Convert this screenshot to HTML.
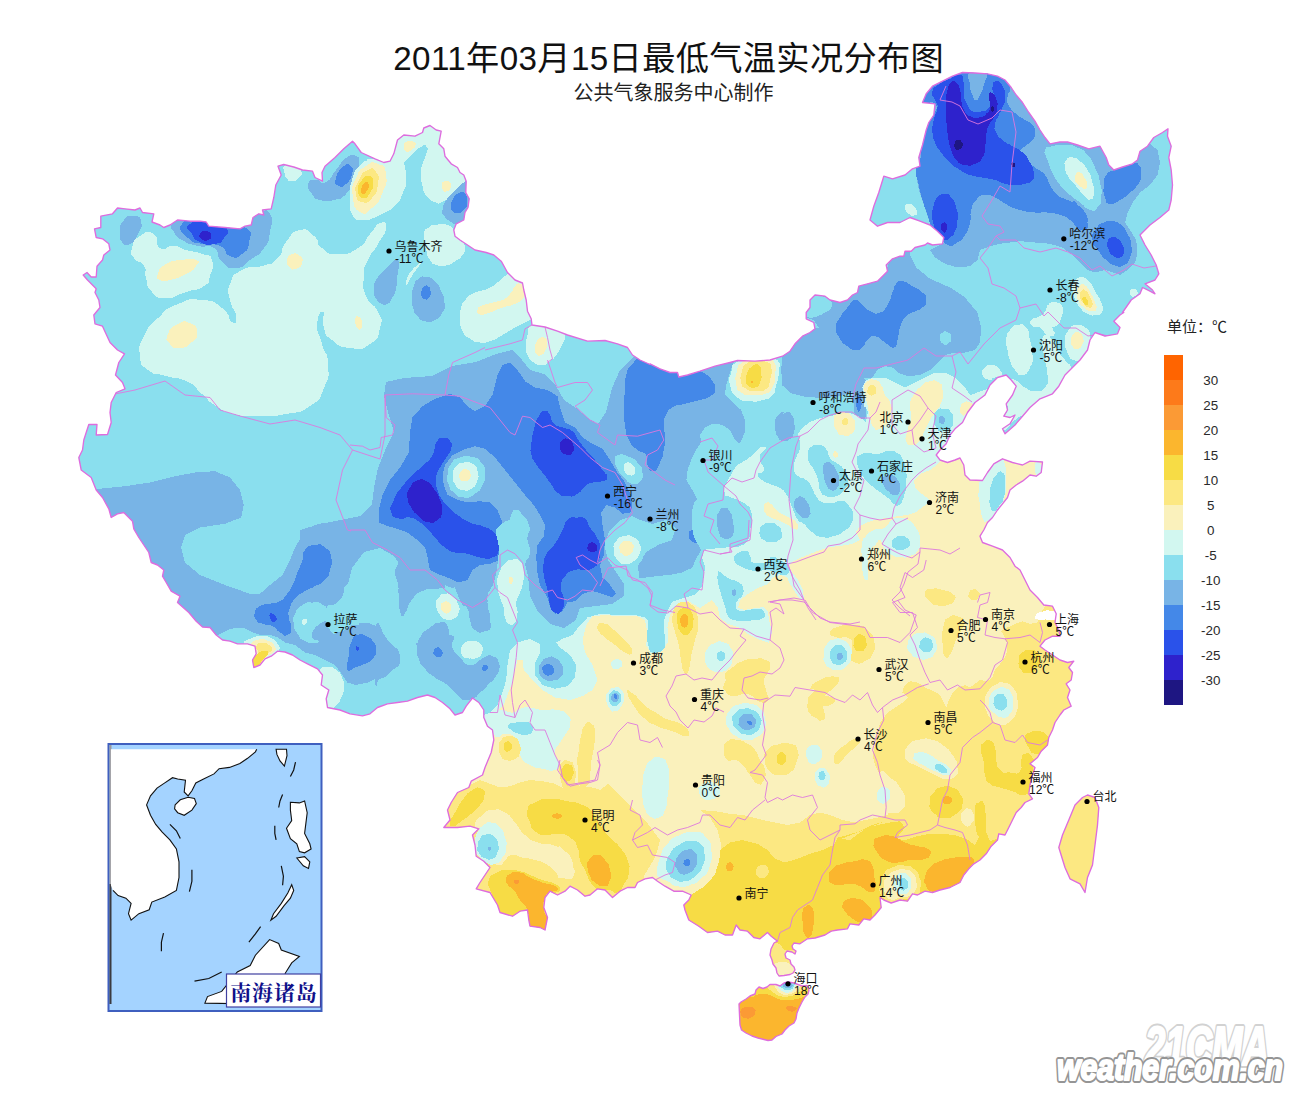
<!DOCTYPE html>
<html><head><meta charset="utf-8"><title>map</title>
<style>
html,body{margin:0;padding:0;background:#fff;}
body{width:1300px;height:1100px;overflow:hidden;position:relative;font-family:"Liberation Sans",sans-serif;}
svg{position:absolute;left:0;top:0;}
.lg{font-family:"Liberation Sans",sans-serif;font-size:13px;fill:#222;}
.ct{font-family:"Liberation Sans","Noto Sans CJK SC",sans-serif;font-size:12px;fill:#111;}
</style></head><body>
<svg width="1300" height="1100" viewBox="0 0 1300 1100">
<defs><clipPath id="cn"><path d="M115.5 375.0 L118.8 362.5 L124.5 353.8 L117.5 350.0 L110.0 342.5 L102.5 326.2 L95.0 323.8 L93.8 315.0 L100.0 307.5 L98.8 300.0 L95.0 292.5 L96.2 288.8 L87.5 280.0 L83.2 275.0 L87.0 272.5 L91.2 277.0 L96.2 277.0 L97.0 266.2 L102.5 260.0 L103.8 255.0 L110.0 250.0 L108.8 243.8 L102.5 238.8 L96.2 237.5 L94.5 228.8 L100.8 227.5 L100.8 216.2 L112.5 213.8 L117.5 208.0 L125.0 208.8 L135.0 210.0 L140.0 208.0 L142.5 212.5 L153.8 213.8 L152.0 222.0 L160.0 225.0 L163.8 227.5 L170.0 225.0 L177.5 220.0 L190.0 221.2 L200.0 221.2 L206.2 222.0 L208.8 226.2 L225.0 227.5 L240.0 228.8 L245.0 226.2 L251.2 225.0 L253.0 217.5 L258.8 213.8 L263.8 215.0 L262.5 210.0 L271.2 208.8 L273.8 197.5 L275.8 185.0 L281.2 175.0 L278.0 166.2 L283.8 164.5 L293.8 167.0 L302.5 170.0 L312.5 171.2 L315.0 177.5 L322.5 181.2 L322.0 172.5 L325.0 166.2 L335.0 157.5 L343.8 148.8 L352.5 141.2 L355.0 143.8 L361.2 152.5 L375.0 158.8 L383.8 162.5 L390.0 161.2 L393.8 153.8 L397.5 140.0 L403.8 135.0 L415.0 136.2 L422.5 132.5 L423.8 128.0 L430.0 125.5 L436.2 130.0 L441.2 131.2 L438.8 143.8 L443.8 148.8 L445.0 156.2 L451.2 163.8 L457.5 167.5 L460.0 172.5 L463.8 175.0 L466.2 181.2 L465.8 192.5 L469.2 198.8 L468.0 207.5 L465.0 212.5 L463.8 220.0 L456.2 223.8 L453.8 230.0 L455.0 236.2 L460.0 240.0 L467.5 245.0 L475.0 250.0 L486.2 252.5 L493.8 255.0 L501.2 261.2 L507.5 272.5 L515.0 280.0 L522.5 283.0 L523.8 290.0 L526.2 300.0 L527.5 311.2 L531.2 318.8 L532.0 325.0 L545.0 327.0 L557.5 331.2 L567.5 335.0 L587.5 341.2 L605.0 340.5 L617.5 343.8 L627.5 347.5 L632.5 355.0 L640.0 360.0 L650.0 364.5 L650.0 363.8 L660.0 368.8 L670.0 372.5 L677.5 372.5 L678.8 377.0 L687.5 375.0 L700.0 371.2 L715.0 366.2 L730.0 362.5 L737.5 360.5 L755.0 361.2 L770.0 360.0 L782.5 356.2 L790.0 351.2 L795.0 343.8 L802.5 336.2 L810.0 332.5 L815.0 328.8 L813.8 322.5 L806.2 318.8 L806.2 312.5 L810.0 307.5 L810.0 300.0 L815.0 295.0 L825.0 296.2 L830.0 300.0 L840.0 302.5 L847.5 300.0 L852.5 295.0 L857.5 292.5 L858.8 286.2 L867.5 283.8 L877.5 281.2 L883.8 275.0 L887.5 271.2 L886.2 265.0 L892.5 258.8 L900.0 256.2 L903.8 256.2 L905.0 251.2 L911.2 251.2 L915.0 247.5 L925.0 245.0 L927.5 243.0 L932.5 245.0 L942.5 243.8 L943.8 237.5 L937.5 231.2 L930.0 225.0 L920.0 221.2 L910.0 217.5 L900.0 222.5 L887.5 222.5 L877.5 226.2 L870.0 220.0 L873.8 206.2 L878.8 192.5 L883.8 176.2 L892.5 178.8 L905.0 175.0 L912.5 168.8 L920.0 166.2 L918.8 157.5 L922.5 145.0 L926.2 130.0 L928.8 122.5 L933.8 115.0 L935.0 103.8 L922.5 102.5 L926.2 93.8 L932.5 86.2 L942.5 81.2 L952.5 76.2 L962.5 72.5 L975.0 73.0 L987.5 73.8 L997.5 76.2 L1005.0 80.0 L1011.2 87.5 L1016.2 95.0 L1022.5 102.5 L1028.8 112.5 L1035.0 121.2 L1040.0 130.0 L1045.0 137.5 L1050.0 143.8 L1060.0 142.0 L1067.5 142.0 L1077.5 145.0 L1088.8 148.8 L1100.0 146.2 L1106.2 157.5 L1108.8 165.0 L1113.8 170.0 L1122.5 167.0 L1132.5 163.8 L1137.5 160.0 L1140.0 151.2 L1147.5 146.2 L1153.8 137.5 L1162.5 132.5 L1168.0 128.8 L1167.5 136.2 L1171.2 146.2 L1168.8 157.5 L1171.2 170.0 L1172.5 185.0 L1171.2 200.0 L1168.8 210.0 L1160.0 217.5 L1150.0 225.0 L1140.0 235.0 L1145.0 245.0 L1151.2 255.0 L1156.2 265.0 L1158.8 273.8 L1155.0 280.0 L1145.0 283.8 L1152.5 290.0 L1155.0 293.8 L1150.0 291.2 L1142.5 287.5 L1140.0 293.8 L1131.2 300.0 L1122.5 312.5 L1123.8 312.5 L1120.0 315.0 L1113.8 321.2 L1120.0 327.5 L1117.5 333.8 L1105.0 336.2 L1095.0 332.5 L1090.0 340.0 L1087.5 350.0 L1080.0 360.0 L1072.5 367.5 L1065.0 375.0 L1058.8 386.2 L1052.5 393.8 L1040.0 398.8 L1030.0 407.5 L1022.5 416.2 L1015.0 425.0 L1005.0 433.8 L1002.5 428.8 L1010.0 423.8 L1015.0 415.0 L1010.0 417.5 L1003.8 416.2 L1007.5 410.0 L1006.2 403.8 L1012.5 395.0 L1016.2 386.2 L1011.2 380.0 L1006.2 375.0 L997.5 377.5 L990.0 385.0 L985.0 395.0 L975.0 402.5 L967.5 412.5 L962.5 422.5 L955.0 428.8 L950.0 435.0 L946.2 443.8 L940.0 450.0 L936.2 455.0 L940.0 460.0 L947.5 462.5 L955.0 460.0 L960.0 458.0 L963.8 465.0 L965.0 475.0 L970.0 480.0 L982.5 480.5 L987.5 472.5 L993.8 463.8 L1002.5 458.8 L1012.5 462.5 L1022.5 465.0 L1030.0 461.2 L1042.5 462.0 L1041.2 472.5 L1036.2 476.2 L1030.0 475.0 L1022.5 481.2 L1016.2 485.0 L1010.0 490.0 L1007.5 497.5 L1002.5 503.8 L997.5 510.0 L992.5 517.5 L987.5 522.5 L983.8 530.0 L980.0 536.2 L982.5 542.5 L992.5 546.2 L1002.5 550.0 L1010.0 557.5 L1015.0 566.2 L1020.0 570.0 L1025.0 580.0 L1030.0 590.0 L1037.5 597.5 L1043.8 605.0 L1052.5 606.2 L1056.2 613.8 L1055.0 622.5 L1058.8 630.0 L1060.0 636.2 L1052.5 636.2 L1045.0 640.0 L1040.0 646.2 L1045.0 650.0 L1052.5 655.0 L1060.0 660.0 L1067.5 662.5 L1073.8 661.2 L1068.8 667.5 L1072.5 672.5 L1071.2 680.0 L1066.2 683.8 L1070.0 690.0 L1067.5 697.5 L1071.2 706.2 L1063.8 710.0 L1060.0 715.0 L1055.0 722.5 L1052.5 730.0 L1048.8 737.5 L1047.5 745.0 L1041.2 751.2 L1037.5 757.5 L1030.0 763.8 L1035.0 767.5 L1032.5 775.0 L1030.0 785.0 L1028.8 793.8 L1032.5 798.8 L1025.0 802.5 L1021.2 807.5 L1016.2 812.5 L1012.5 820.0 L1008.8 827.5 L1005.0 835.0 L998.8 833.8 L997.5 840.0 L991.2 846.2 L986.2 853.8 L980.0 860.0 L973.8 863.8 L968.8 868.8 L963.8 875.0 L960.0 882.5 L950.0 887.5 L940.0 890.0 L932.5 892.5 L925.0 891.2 L917.5 895.0 L912.5 893.8 L907.5 901.2 L900.0 900.0 L891.2 903.0 L883.8 900.0 L880.0 897.5 L881.2 907.5 L875.0 915.0 L870.0 920.0 L863.8 918.8 L858.8 925.0 L850.0 923.8 L847.5 928.8 L837.5 930.0 L831.2 931.2 L825.0 935.0 L815.0 938.0 L807.5 938.8 L800.0 943.8 L794.0 943.0 L792.0 946.0 L793.0 949.0 L796.0 951.0 L795.0 954.0 L792.0 952.0 L787.0 951.0 L785.0 954.0 L786.0 958.0 L790.0 960.0 L791.0 964.0 L794.0 967.0 L795.0 970.0 L793.0 973.0 L790.0 974.5 L784.0 975.5 L779.0 976.0 L777.0 973.0 L776.0 968.0 L773.0 964.0 L772.0 960.0 L770.0 955.0 L771.0 949.0 L774.0 943.0 L777.5 941.2 L771.2 936.2 L767.5 932.5 L760.0 938.8 L753.8 937.5 L747.5 931.2 L740.0 930.0 L736.2 925.0 L732.5 935.0 L725.0 935.0 L717.5 931.2 L707.5 932.5 L698.8 926.2 L688.8 920.0 L685.0 910.0 L683.8 905.0 L688.8 900.0 L691.2 895.0 L682.5 891.2 L673.8 891.2 L665.0 886.2 L657.5 881.2 L652.5 877.5 L645.0 878.8 L637.5 882.5 L635.0 887.5 L627.5 887.5 L620.0 891.2 L612.5 897.5 L605.0 890.0 L597.5 888.8 L590.0 895.0 L585.0 896.2 L577.5 890.0 L570.0 886.2 L565.0 891.2 L557.5 895.0 L550.0 891.2 L545.0 897.5 L543.8 907.5 L547.5 917.5 L545.0 930.0 L540.0 927.5 L530.0 926.2 L528.8 920.0 L527.5 910.0 L520.0 911.2 L512.5 916.2 L500.0 912.5 L497.5 905.0 L490.0 892.5 L476.2 888.8 L480.0 882.5 L485.0 875.0 L490.0 867.5 L483.8 861.2 L476.2 856.2 L475.0 845.0 L472.5 835.0 L478.8 828.8 L470.0 826.2 L457.5 827.5 L443.8 827.5 L450.0 820.0 L447.5 810.0 L451.2 802.5 L457.5 792.5 L468.8 787.5 L471.2 781.2 L482.5 775.0 L485.0 767.5 L491.2 752.5 L493.8 740.0 L492.5 730.0 L487.5 726.2 L483.8 717.5 L483.8 710.0 L478.8 702.5 L472.5 698.0 L466.2 706.2 L462.5 712.5 L455.0 715.0 L450.0 708.8 L442.5 702.5 L435.0 697.5 L427.5 695.0 L417.5 697.5 L407.5 701.2 L397.5 702.5 L387.5 703.8 L377.5 707.5 L370.0 713.8 L362.5 715.8 L350.0 713.8 L340.0 710.0 L327.5 707.5 L326.2 698.8 L328.8 690.0 L321.2 685.0 L322.5 675.0 L317.5 668.8 L307.5 663.8 L300.0 660.0 L292.5 655.0 L285.0 652.0 L277.5 651.2 L271.2 656.2 L265.0 658.8 L260.0 665.0 L253.8 667.5 L252.5 660.0 L256.2 653.8 L255.0 646.2 L247.5 643.8 L237.5 643.8 L230.0 641.2 L222.5 640.0 L216.2 635.0 L210.0 627.5 L202.5 627.0 L196.2 621.2 L188.8 612.5 L177.5 602.5 L180.0 596.2 L171.2 591.2 L166.2 582.5 L162.5 576.2 L163.8 570.0 L157.5 565.0 L151.2 562.5 L148.8 552.5 L143.8 545.0 L138.8 537.5 L133.8 528.8 L132.5 521.2 L123.8 512.5 L117.5 513.8 L111.2 517.5 L108.8 508.8 L102.5 497.5 L96.2 490.0 L91.2 477.5 L81.2 470.0 L78.8 457.5 L82.5 450.0 L83.8 440.0 L86.2 432.5 L88.8 424.5 L97.0 424.5 L96.2 435.0 L107.5 434.5 L111.2 422.5 L110.0 412.5 L111.2 402.5 L116.2 392.5 L125.0 388.8 L122.5 382.5Z M1087.5 795.0 L1095.0 797.5 L1098.8 807.5 L1097.5 825.0 L1095.0 845.0 L1092.5 865.0 L1087.5 877.5 L1085.0 892.5 L1080.0 883.8 L1070.0 878.8 L1065.0 867.5 L1058.8 847.5 L1062.5 835.0 L1068.8 820.0 L1075.0 805.0 L1082.5 797.5Z M739.0 1004.0 L741.0 1002.0 L746.0 999.0 L750.0 996.0 L755.0 994.0 L756.0 990.0 L759.0 987.0 L763.0 988.5 L767.0 987.0 L770.0 984.5 L776.0 984.5 L780.0 986.0 L784.0 983.0 L788.0 982.0 L794.0 983.0 L798.0 984.5 L802.0 986.0 L807.0 985.5 L809.0 990.0 L808.0 994.0 L805.0 997.0 L802.0 1002.0 L799.0 1008.0 L797.0 1013.0 L796.0 1019.0 L794.0 1023.0 L789.0 1026.0 L785.0 1030.0 L782.0 1034.0 L776.0 1036.5 L772.0 1040.0 L768.0 1040.5 L764.0 1039.5 L758.0 1038.0 L752.0 1036.0 L746.0 1033.0 L741.5 1030.0 L740.0 1025.0 L739.5 1015.0Z"/></clipPath></defs>
<g clip-path="url(#cn)" shape-rendering="crispEdges">
<rect x="0" y="0" width="1300" height="1100" fill="#8ADFEE"/>
<path d="M300.0 530.0 L320.0 524.0 L340.0 520.0 L360.0 516.0 L372.0 504.0 L374.0 488.0 L378.0 468.0 L386.0 448.0 L394.0 432.0 L388.0 412.0 L384.0 396.0 L386.0 382.0 L404.0 378.0 L432.0 376.0 L452.0 366.0 L476.0 362.0 L496.0 354.0 L512.0 350.0 L522.0 360.0 L530.0 370.0 L544.0 374.0 L556.0 386.0 L564.0 400.0 L576.0 408.0 L588.0 418.0 L598.0 424.0 L606.0 412.0 L612.0 388.0 L620.0 370.0 L632.0 358.0 L648.0 348.0 L680.0 368.0 L700.0 362.0 L720.0 358.0 L734.8 360.0 L730.0 372.4 L726.4 384.8 L724.8 394.8 L732.4 402.4 L741.2 410.0 L744.8 420.0 L744.8 432.4 L740.0 443.6 L734.8 440.0 L730.0 430.0 L722.4 424.8 L712.4 423.6 L704.8 427.6 L700.0 434.8 L701.2 442.4 L696.0 450.0 L691.2 460.0 L687.6 470.0 L686.4 480.0 L692.4 490.0 L697.6 500.0 L704.8 507.6 L704.8 520.0 L706.4 530.0 L703.6 540.0 L701.2 550.0 L696.0 558.8 L692.4 567.6 L682.4 572.4 L670.0 574.8 L657.6 576.0 L644.8 577.6 L639.2 578.0 L638.0 566.0 L646.0 552.0 L660.0 544.0 L672.0 540.0 L676.0 528.0 L666.0 520.0 L652.0 524.0 L640.0 520.0 L632.0 516.0 L620.0 520.0 L610.0 530.0 L604.0 544.0 L608.0 560.0 L616.0 572.0 L624.0 584.0 L624.0 596.0 L612.0 604.0 L596.0 606.0 L580.0 608.0 L576.0 620.0 L564.0 628.0 L550.0 624.0 L538.0 612.0 L530.0 596.0 L528.0 576.0 L524.0 560.0 L518.0 556.0 L504.0 560.0 L492.0 568.0 L484.0 560.0 L472.0 572.0 L464.0 584.0 L452.0 588.0 L442.0 584.0 L432.0 576.0 L420.0 580.0 L408.0 588.0 L400.0 600.0 L398.0 584.0 L402.0 568.0 L394.0 556.0 L380.0 548.0 L364.0 552.0 L352.0 568.0 L348.0 584.0 L332.0 596.0 L316.0 596.0 L300.0 600.0Z" fill="#78B4E6"/>
<path d="M120.0 232.0 C120.7 224.7 119.3 225.3 124.0 220.0 C128.7 214.7 128.3 215.3 134.0 216.0 C139.7 216.7 139.9 216.0 141.2 222.0 C142.5 228.0 141.7 226.7 138.0 234.0 C134.3 241.3 135.3 241.3 130.0 244.0 C124.7 246.7 125.3 246.0 122.0 242.0 C118.7 238.0 119.3 239.3 120.0 232.0Z" fill="#78B4E6"/>
<path d="M172.0 224.0 C174.7 219.3 169.3 220.0 182.0 218.0 C194.7 216.0 190.0 215.3 210.0 218.0 C230.0 220.7 226.0 227.3 242.0 226.0 C258.0 224.7 248.7 218.0 258.0 214.0 C267.3 210.0 266.0 208.0 270.0 214.0 C274.0 220.0 272.0 220.7 270.0 232.0 C268.0 243.3 270.7 238.7 264.0 248.0 C257.3 257.3 259.3 253.3 250.0 260.0 C240.7 266.7 245.3 267.3 236.0 268.0 C226.7 268.7 229.3 268.7 222.0 262.0 C214.7 255.3 222.0 253.3 214.0 248.0 C206.0 242.7 208.7 248.7 198.0 246.0 C187.3 243.3 190.0 244.7 182.0 240.0 C174.0 235.3 177.3 237.3 174.0 232.0 C170.7 226.7 169.3 228.7 172.0 224.0Z" fill="#78B4E6"/>
<path d="M308.0 184.0 C309.3 179.3 310.0 180.7 316.0 180.0 C322.0 179.3 319.3 185.3 326.0 182.0 C332.7 178.7 329.3 178.0 336.0 170.0 C342.7 162.0 339.3 162.7 346.0 158.0 C352.7 153.3 351.7 154.0 356.0 156.0 C360.3 158.0 359.5 156.0 358.8 164.0 C358.1 172.0 358.3 170.0 354.0 180.0 C349.7 190.0 352.7 187.3 346.0 194.0 C339.3 200.7 342.7 198.0 334.0 200.0 C325.3 202.0 327.3 202.0 320.0 200.0 C312.7 198.0 316.0 199.3 312.0 194.0 C308.0 188.7 306.7 188.7 308.0 184.0Z" fill="#78B4E6"/>
<path d="M442.5 210.0 C443.1 204.6 442.9 205.8 446.2 200.0 C449.6 194.2 447.9 197.5 452.5 192.5 C457.1 187.5 455.4 188.8 460.0 185.0 C464.6 181.2 462.9 178.8 466.2 181.2 C469.6 183.8 468.2 186.7 470.0 192.5 C471.8 198.3 471.6 193.8 471.8 198.8 C471.9 203.8 471.9 202.9 470.5 207.5 C469.1 212.1 469.8 208.3 467.5 212.5 C465.2 216.7 467.1 216.2 463.8 220.0 C460.4 223.8 462.1 223.3 457.5 223.8 C452.9 224.2 454.3 223.8 450.0 221.2 C445.7 218.8 447.0 220.0 444.5 216.2 C442.0 212.5 441.9 215.4 442.5 210.0Z" fill="#78B4E6"/>
<path d="M373.8 290.0 C373.8 283.8 373.3 285.8 376.2 280.0 C379.2 274.2 377.9 277.5 382.5 272.5 C387.1 267.5 385.4 269.2 390.0 265.0 C394.6 260.8 393.3 260.0 396.2 260.0 C399.2 260.0 398.3 260.0 398.8 265.0 C399.2 270.0 398.3 267.5 397.5 275.0 C396.7 282.5 397.9 280.0 396.2 287.5 C394.6 295.0 395.4 292.1 392.5 297.5 C389.6 302.9 391.2 301.7 387.5 303.8 C383.8 305.8 385.0 305.4 381.2 303.8 C377.5 302.1 378.8 303.3 376.2 298.8 C373.8 294.2 373.8 296.2 373.8 290.0Z" fill="#78B4E6"/>
<path d="M412.0 297.5 C412.2 290.4 411.5 292.5 413.8 286.2 C416.0 280.0 414.6 281.8 418.8 278.8 C422.9 275.7 420.8 276.2 426.2 277.0 C431.7 277.8 430.0 276.5 435.0 281.2 C440.0 286.0 438.1 284.2 441.2 291.2 C444.4 298.3 444.1 295.4 444.5 302.5 C444.9 309.6 445.7 306.7 442.5 312.5 C439.3 318.3 440.8 317.1 435.0 320.0 C429.2 322.9 430.8 322.5 425.0 321.2 C419.2 320.0 421.5 320.8 417.5 316.2 C413.5 311.7 414.8 313.8 413.0 307.5 C411.2 301.2 411.8 304.6 412.0 297.5Z" fill="#78B4E6"/>
<path d="M87.5 490.0 L125.0 486.2 L150.0 482.5 L175.0 476.2 L195.0 472.5 L215.0 471.2 L230.0 477.5 L240.0 490.0 L243.8 505.0 L241.2 517.5 L225.0 523.8 L200.0 527.5 L185.0 535.0 L181.2 547.5 L185.0 562.5 L200.0 575.0 L225.0 585.0 L250.0 593.8 L260.0 593.8 L270.0 585.0 L282.5 575.0 L290.0 560.0 L296.2 545.0 L305.0 532.5 L315.0 525.0 L325.0 522.5 L337.5 525.0 L350.0 528.8 L360.0 527.5 L362.5 545.0 L350.0 560.0 L346.2 575.0 L343.8 590.0 L342.5 602.5 L343.8 615.0 L347.5 622.5 L355.0 623.8 L367.5 622.5 L376.2 626.2 L382.5 635.0 L390.0 645.0 L400.0 655.0 L395.0 662.5 L385.0 670.0 L377.5 677.5 L367.5 682.5 L355.0 685.0 L347.5 682.5 L342.5 675.0 L335.0 665.0 L325.0 660.0 L315.0 655.0 L305.0 652.5 L295.0 645.0 L285.0 642.5 L277.5 637.5 L270.0 635.0 L260.0 635.0 L250.0 631.2 L242.5 627.5 L230.0 628.8 L217.5 635.0 L212.5 642.5 L180.0 622.5 L155.0 597.5 L142.5 560.0 L105.0 510.0Z" fill="#78B4E6"/>
<path d="M398.8 597.5 C398.3 587.1 397.9 591.7 400.0 582.5 C402.1 573.3 400.8 577.5 405.0 570.0 C409.2 562.5 408.3 566.7 412.5 560.0 C416.7 553.3 403.3 553.3 417.5 550.0 C431.7 546.7 442.5 541.7 455.0 550.0 C467.5 558.3 459.2 564.2 455.0 575.0 C450.8 585.8 450.8 578.3 442.5 582.5 C434.2 586.7 438.3 585.8 430.0 587.5 C421.7 589.2 424.2 585.8 417.5 587.5 C410.8 589.2 413.3 587.5 410.0 592.5 C406.7 597.5 409.2 595.8 407.5 602.5 C405.8 609.2 407.1 608.8 405.0 612.5 C402.9 616.2 403.3 618.8 401.2 613.8 C399.2 608.8 399.2 607.9 398.8 597.5Z" fill="#78B4E6"/>
<path d="M417.5 650.0 C418.3 642.9 411.7 645.0 422.5 640.0 C433.3 635.0 440.0 632.5 450.0 635.0 C460.0 637.5 449.2 640.0 452.5 647.5 C455.8 655.0 454.2 651.7 460.0 657.5 C465.8 663.3 463.3 664.2 470.0 665.0 C476.7 665.8 474.2 662.9 480.0 660.0 C485.8 657.1 482.5 656.7 487.5 656.2 C492.5 655.8 491.2 655.0 495.0 658.8 C498.8 662.5 498.8 661.2 498.8 667.5 C498.8 673.8 498.8 671.7 495.0 677.5 C491.2 683.3 492.5 680.0 487.5 685.0 C482.5 690.0 485.0 688.3 480.0 692.5 C475.0 696.7 478.3 698.3 472.5 697.5 C466.7 696.7 469.2 695.0 462.5 690.0 C455.8 685.0 460.0 686.7 452.5 682.5 C445.0 678.3 448.3 681.7 440.0 677.5 C431.7 673.3 434.2 675.4 427.5 670.0 C420.8 664.6 423.3 667.9 420.0 661.2 C416.7 654.6 416.7 657.1 417.5 650.0Z" fill="#78B4E6"/>
<path d="M397.5 565.0 C391.2 575.0 397.9 574.6 398.8 590.0 C399.6 605.4 397.9 603.6 400.0 611.2 C402.1 618.9 400.8 617.2 405.0 613.0 C409.2 608.8 405.8 606.4 412.5 598.8 C419.2 591.1 416.7 593.3 425.0 590.0 C433.3 586.7 430.8 590.4 437.5 588.8 C444.2 587.1 444.2 591.2 445.0 585.0 C445.8 578.8 449.2 578.3 440.0 570.0 C430.8 561.7 431.7 561.7 417.5 560.0 C403.3 558.3 403.8 555.0 397.5 565.0Z" fill="#78B4E6"/>
<path d="M455.0 577.5 C454.2 589.2 455.8 589.6 460.0 600.0 C464.2 610.4 464.2 602.1 467.5 608.8 C470.8 615.4 467.5 612.9 470.0 620.0 C472.5 627.1 470.0 626.2 475.0 630.0 C480.0 633.8 479.6 632.9 485.0 631.2 C490.4 629.6 489.6 631.2 491.2 625.0 C492.9 618.8 491.2 620.8 490.0 612.5 C488.8 604.2 487.5 607.5 487.5 600.0 C487.5 592.5 487.1 595.0 490.0 590.0 C492.9 585.0 493.8 593.3 496.2 585.0 C498.8 576.7 502.9 573.3 497.5 565.0 C492.1 556.7 491.7 560.0 480.0 560.0 C468.3 560.0 470.8 559.2 462.5 565.0 C454.2 570.8 455.8 565.8 455.0 577.5Z" fill="#78B4E6"/>
<path d="M417.5 650.0 C417.9 642.9 415.8 645.0 420.0 637.5 C424.2 630.0 423.3 632.5 430.0 627.5 C436.7 622.5 434.2 622.9 440.0 622.5 C445.8 622.1 444.2 620.4 447.5 626.2 C450.8 632.1 447.5 631.2 450.0 640.0 C452.5 648.8 450.8 645.0 455.0 652.5 C459.2 660.0 455.8 658.3 462.5 662.5 C469.2 666.7 467.5 666.7 475.0 665.0 C482.5 663.3 479.2 660.4 485.0 657.5 C490.8 654.6 487.9 654.6 492.5 656.2 C497.1 657.9 497.1 657.1 498.8 662.5 C500.4 667.9 500.4 665.8 497.5 672.5 C494.6 679.2 495.8 675.8 490.0 682.5 C484.2 689.2 487.5 686.7 480.0 692.5 C472.5 698.3 475.0 699.2 467.5 700.0 C460.0 700.8 464.2 700.0 457.5 695.0 C450.8 690.0 455.0 690.8 447.5 685.0 C440.0 679.2 442.9 683.3 435.0 677.5 C427.1 671.7 429.2 673.8 423.8 667.5 C418.3 661.2 420.8 664.6 418.8 658.8 C416.7 652.9 417.1 657.1 417.5 650.0Z" fill="#78B4E6"/>
<path d="M375.0 627.5 C379.2 614.2 379.2 630.0 387.5 640.0 C395.8 650.0 399.2 646.7 400.0 657.5 C400.8 668.3 396.7 665.4 390.0 672.5 C383.3 679.6 385.0 676.2 380.0 678.8 C375.0 681.2 376.7 697.1 375.0 680.0 C373.3 662.9 370.8 640.8 375.0 627.5Z" fill="#78B4E6"/>
<path d="M920.0 166.2 L916.2 175.0 L918.8 190.0 L923.8 205.0 L928.8 220.0 L935.0 232.5 L945.0 242.5 L935.0 247.5 L930.0 250.0 L935.0 257.5 L945.0 263.8 L957.5 267.5 L970.0 266.2 L977.5 260.0 L980.0 250.0 L990.0 246.2 L1000.0 243.8 L1010.0 242.5 L1020.0 241.2 L1035.0 242.5 L1050.0 243.8 L1062.5 247.5 L1072.5 255.0 L1080.0 262.5 L1087.5 270.0 L1095.0 272.5 L1105.0 270.0 L1112.5 272.5 L1120.0 275.0 L1127.5 270.0 L1135.0 262.5 L1137.5 252.5 L1136.2 240.0 L1130.0 230.0 L1125.0 222.5 L1127.5 212.5 L1132.5 202.5 L1140.0 192.5 L1150.0 185.0 L1157.5 175.0 L1160.0 162.5 L1157.5 150.0 L1150.0 143.8 L1147.5 140.0 L1135.0 155.0 L1122.5 160.0 L1112.5 165.0 L1107.5 157.5 L1102.5 142.5 L1090.0 143.8 L1077.5 140.0 L1060.0 136.2 L1050.0 138.8 L1040.0 125.0 L1022.5 97.5 L1010.0 80.0 L997.5 71.2 L975.0 67.5 L960.0 67.5 L942.5 76.2 L930.0 83.8 L918.8 101.2 L931.2 103.8 L930.0 115.0 L923.8 130.0 L917.5 150.0 L915.0 160.0Z" fill="#78B4E6"/>
<path d="M782.5 353.8 L790.0 347.5 L797.5 338.8 L810.0 328.8 L818.8 327.5 L813.8 320.0 L805.0 317.5 L805.0 310.0 L810.0 300.0 L816.2 292.5 L830.0 297.5 L847.5 297.5 L858.8 283.8 L880.0 277.5 L887.5 267.5 L890.0 258.8 L903.8 252.5 L910.0 250.0 L910.0 255.0 L916.2 267.5 L930.0 278.8 L950.0 287.5 L965.0 297.5 L977.5 312.5 L981.2 327.5 L980.0 342.5 L975.0 350.0 L965.0 352.5 L955.0 352.5 L945.0 355.0 L937.5 362.5 L930.0 370.0 L920.0 375.0 L907.5 376.2 L897.5 372.5 L892.5 367.5 L885.0 366.2 L877.5 370.0 L872.5 377.5 L865.0 377.5 L862.5 378.8 L857.5 386.2 L850.0 393.0 L837.5 396.8 L822.5 398.0 L805.0 396.8 L790.0 393.0 L782.5 385.5 L781.2 370.5Z" fill="#78B4E6"/>
<path d="M852.5 380.0 C855.8 375.0 857.9 375.0 862.5 377.5 C867.1 380.0 865.4 380.0 866.2 387.5 C867.1 395.0 865.0 391.7 865.0 400.0 C865.0 408.3 867.1 405.8 866.2 412.5 C865.4 419.2 865.8 418.3 862.5 420.0 C859.2 421.7 859.2 422.5 856.2 417.5 C853.3 412.5 855.0 413.3 853.8 405.0 C852.5 396.7 852.9 400.8 852.5 392.5 C852.1 384.2 849.2 385.0 852.5 380.0Z" fill="#78B4E6"/>
<path d="M775.0 425.0 C774.6 417.9 774.2 420.6 777.5 416.2 C780.8 411.9 780.0 412.4 785.0 412.0 C790.0 411.6 789.2 410.7 792.5 415.0 C795.8 419.3 795.0 418.3 795.0 425.0 C795.0 431.7 795.4 429.6 792.5 435.0 C789.6 440.4 790.8 440.4 786.2 441.2 C781.7 442.1 782.5 442.9 778.8 437.5 C775.0 432.1 775.4 432.1 775.0 425.0Z" fill="#78B4E6"/>
<path d="M410.0 432.5 L412.5 417.5 L422.5 406.2 L435.0 398.8 L450.0 393.8 L460.0 397.5 L467.5 406.2 L475.0 411.2 L485.0 406.2 L492.5 395.0 L497.5 375.0 L502.5 365.0 L510.0 362.5 L517.5 370.0 L525.0 381.2 L535.0 387.5 L547.5 390.0 L557.5 396.2 L560.0 407.5 L565.0 422.5 L575.0 427.5 L582.5 437.5 L592.5 443.8 L602.5 448.8 L610.0 460.0 L617.5 472.5 L625.0 482.5 L631.2 495.0 L632.5 507.5 L630.0 512.5 L622.5 513.8 L615.0 507.5 L606.2 505.0 L601.2 512.5 L602.5 525.0 L605.0 540.0 L603.8 555.0 L600.0 565.0 L602.5 577.5 L610.0 585.0 L616.2 593.8 L612.5 597.5 L602.5 593.8 L592.5 591.2 L582.5 593.8 L575.0 601.2 L567.5 602.5 L562.5 611.2 L555.0 613.8 L550.0 607.5 L547.5 597.5 L540.0 585.0 L537.5 572.5 L536.2 557.5 L537.5 545.0 L543.8 536.2 L545.0 525.0 L540.0 515.0 L533.8 505.0 L525.0 495.0 L515.0 482.5 L505.0 470.0 L495.0 457.5 L485.0 448.8 L475.0 446.2 L462.5 450.0 L452.5 455.0 L445.0 465.0 L442.5 475.0 L443.8 485.0 L447.5 495.0 L457.5 500.0 L467.5 502.5 L480.0 501.2 L490.0 502.5 L497.5 510.0 L502.5 522.5 L506.2 537.5 L505.0 550.0 L500.0 560.0 L490.0 563.8 L480.0 565.0 L472.5 570.0 L467.5 580.0 L457.5 582.5 L447.5 577.5 L437.5 573.8 L430.0 570.0 L427.5 557.5 L425.0 547.5 L417.5 540.0 L407.5 532.5 L397.5 528.8 L387.5 526.2 L378.8 522.5 L378.8 510.0 L382.5 495.0 L390.0 480.0 L400.0 467.5 L408.8 452.5Z" fill="#4488E8"/>
<path d="M625.0 390.0 C625.8 379.2 623.8 383.8 626.2 375.0 C628.8 366.2 627.1 369.6 632.5 363.8 C637.9 357.9 634.2 357.9 642.5 357.5 C650.8 357.1 647.5 358.8 657.5 362.5 C667.5 366.2 664.2 364.6 672.5 368.8 C680.8 372.9 675.0 374.2 682.5 375.0 C690.0 375.8 687.5 371.7 695.0 371.2 C702.5 370.8 699.2 370.4 705.0 373.8 C710.8 377.1 709.2 375.8 712.5 381.2 C715.8 386.7 715.8 385.0 715.0 390.0 C714.2 395.0 715.0 392.9 710.0 396.2 C705.0 399.6 708.3 397.5 700.0 400.0 C691.7 402.5 694.2 401.2 685.0 403.8 C675.8 406.2 678.8 403.8 672.5 407.5 C666.2 411.2 669.2 409.2 666.2 415.0 C663.3 420.8 664.2 417.5 663.8 425.0 C663.3 432.5 665.0 429.2 665.0 437.5 C665.0 445.8 665.4 441.7 663.8 450.0 C662.1 458.3 663.3 455.4 660.0 462.5 C656.7 469.6 657.9 470.4 653.8 471.2 C649.6 472.1 650.0 470.4 647.5 465.0 C645.0 459.6 649.6 460.0 646.2 455.0 C642.9 450.0 643.3 455.0 637.5 450.0 C631.7 445.0 632.9 448.3 628.8 440.0 C624.6 431.7 626.7 435.8 625.0 425.0 C623.3 414.2 623.8 419.2 623.8 407.5 C623.8 395.8 624.2 400.8 625.0 390.0Z" fill="#4488E8"/>
<path d="M182.0 224.0 C186.7 217.7 187.3 218.5 202.0 219.2 C216.7 219.9 211.3 223.1 226.0 226.0 C240.7 228.9 238.3 222.7 246.0 228.0 C253.7 233.3 250.5 233.3 249.2 242.0 C247.9 250.7 248.4 249.3 242.0 254.0 C235.6 258.7 237.3 258.7 230.0 256.0 C222.7 253.3 229.3 250.0 220.0 246.0 C210.7 242.0 212.7 246.7 202.0 244.0 C191.3 241.3 194.7 244.7 188.0 238.0 C181.3 231.3 177.3 230.3 182.0 224.0Z" fill="#4488E8"/>
<path d="M336.0 178.0 C337.7 171.3 339.1 170.0 344.0 166.0 C348.9 162.0 348.1 163.3 350.8 166.0 C353.5 168.7 353.6 168.0 352.0 174.0 C350.4 180.0 350.4 180.0 346.0 184.0 C341.6 188.0 342.1 188.0 338.8 186.0 C335.5 184.0 334.3 184.7 336.0 178.0Z" fill="#4488E8"/>
<path d="M451.2 207.5 C451.2 203.3 450.5 203.6 453.0 198.8 C455.5 193.9 454.8 194.7 458.8 193.0 C462.8 191.3 462.2 190.6 465.0 193.8 C467.8 196.9 467.4 197.1 467.0 202.5 C466.6 207.9 466.9 206.5 463.8 210.0 C460.6 213.5 461.1 212.6 457.5 213.0 C453.9 213.4 455.1 213.1 453.0 211.2 C450.9 209.4 451.2 211.7 451.2 207.5Z" fill="#4488E8"/>
<path d="M421.2 292.5 C421.9 289.4 421.5 289.1 423.8 287.0 C426.0 284.9 425.8 284.8 428.0 286.2 C430.2 287.7 430.2 287.5 430.5 291.2 C430.8 295.0 430.8 294.8 428.8 297.5 C426.8 300.2 426.8 299.7 424.5 299.2 C422.2 298.8 422.8 298.5 421.8 296.2 C420.7 294.0 420.6 295.6 421.2 292.5Z" fill="#4488E8"/>
<path d="M302.5 560.0 C305.0 552.5 300.8 555.0 305.0 550.0 C309.2 545.0 308.3 545.8 315.0 545.0 C321.7 544.2 319.6 543.3 325.0 547.5 C330.4 551.7 329.6 550.0 331.2 557.5 C332.9 565.0 332.1 562.5 330.0 570.0 C327.9 577.5 330.0 574.6 325.0 580.0 C320.0 585.4 321.7 582.5 315.0 586.2 C308.3 590.0 311.2 587.5 305.0 591.2 C298.8 595.0 301.2 592.1 296.2 597.5 C291.2 602.9 292.5 600.8 290.0 607.5 C287.5 614.2 288.3 610.8 288.8 617.5 C289.2 624.2 291.7 621.7 291.2 627.5 C290.8 633.3 291.2 633.3 287.5 635.0 C283.8 636.7 285.0 635.4 280.0 632.5 C275.0 629.6 278.3 629.2 272.5 626.2 C266.7 623.3 267.9 625.8 262.5 623.8 C257.1 621.7 258.8 623.8 256.2 620.0 C253.8 616.2 253.8 617.1 255.0 612.5 C256.2 607.9 255.0 609.2 260.0 606.2 C265.0 603.3 263.3 605.4 270.0 603.8 C276.7 602.1 274.6 604.2 280.0 601.2 C285.4 598.3 282.1 600.4 286.2 595.0 C290.4 589.6 288.8 592.5 292.5 585.0 C296.2 577.5 294.2 580.8 297.5 572.5 C300.8 564.2 300.0 567.5 302.5 560.0Z" fill="#4488E8"/>
<path d="M347.5 670.0 C345.4 665.8 347.5 664.2 348.8 655.0 C350.0 645.8 348.3 649.2 351.2 642.5 C354.2 635.8 352.5 637.1 357.5 635.0 C362.5 632.9 360.8 633.8 366.2 636.2 C371.7 638.8 370.4 637.9 373.8 642.5 C377.1 647.1 376.7 644.6 376.2 650.0 C375.8 655.4 376.2 654.2 372.5 658.8 C368.8 663.3 370.8 660.8 365.0 663.8 C359.2 666.7 360.8 665.4 355.0 667.5 C349.2 669.6 349.6 674.2 347.5 670.0Z" fill="#4488E8"/>
<path d="M433.8 651.2 C434.6 648.8 434.5 647.9 437.0 647.5 C439.5 647.1 439.6 647.5 441.2 650.0 C442.9 652.5 443.1 652.7 442.0 655.0 C440.9 657.3 440.5 657.0 438.0 657.0 C435.5 657.0 435.9 656.9 434.5 655.0 C433.1 653.1 432.9 653.8 433.8 651.2Z" fill="#4488E8"/>
<path d="M482.5 667.0 C483.2 665.3 483.7 665.0 485.5 665.0 C487.3 665.0 487.8 665.3 488.0 667.0 C488.2 668.7 487.8 669.0 486.2 670.0 C484.7 671.0 484.5 671.0 483.2 670.0 C482.0 669.0 481.8 668.7 482.5 667.0Z" fill="#4488E8"/>
<path d="M433.8 651.2 C434.6 648.8 434.5 647.9 437.0 647.5 C439.5 647.1 439.6 647.7 441.2 650.0 C442.9 652.3 443.1 652.2 442.0 654.5 C440.9 656.8 440.5 656.6 438.0 656.8 C435.5 656.9 435.9 656.8 434.5 655.0 C433.1 653.2 432.9 653.8 433.8 651.2Z" fill="#4488E8"/>
<path d="M482.5 668.0 C483.3 666.3 483.7 665.8 485.5 665.5 C487.3 665.2 487.8 665.3 488.0 667.0 C488.2 668.7 487.9 669.3 486.2 670.5 C484.6 671.7 484.2 671.3 483.0 670.5 C481.8 669.7 481.7 669.7 482.5 668.0Z" fill="#4488E8"/>
<path d="M916.2 170.0 C916.7 161.7 917.9 168.3 920.0 160.0 C922.1 151.7 920.4 155.0 922.5 145.0 C924.6 135.0 924.2 137.5 926.2 130.0 C928.3 122.5 926.2 127.5 928.8 122.5 C931.2 117.5 931.7 121.2 933.8 115.0 C935.8 108.8 938.8 107.9 935.0 103.8 C931.2 99.6 925.4 105.8 922.5 102.5 C919.6 99.2 922.9 99.2 926.2 93.8 C929.6 88.3 927.1 90.4 932.5 86.2 C937.9 82.1 935.8 84.6 942.5 81.2 C949.2 77.9 945.8 79.6 952.5 76.2 C959.2 72.9 955.0 73.3 962.5 71.2 C970.0 69.2 966.7 70.0 975.0 70.0 C983.3 70.0 980.0 70.0 987.5 71.2 C995.0 72.5 991.7 71.2 997.5 73.8 C1003.3 76.2 1000.8 74.2 1005.0 78.8 C1009.2 83.3 1009.2 81.2 1010.0 87.5 C1010.8 93.8 1007.5 90.8 1007.5 97.5 C1007.5 104.2 1006.7 101.7 1010.0 107.5 C1013.3 113.3 1012.5 110.8 1017.5 115.0 C1022.5 119.2 1020.0 116.7 1025.0 120.0 C1030.0 123.3 1029.2 120.8 1032.5 125.0 C1035.8 129.2 1035.0 127.5 1035.0 132.5 C1035.0 137.5 1035.8 135.4 1032.5 140.0 C1029.2 144.6 1029.2 142.1 1025.0 146.2 C1020.8 150.4 1020.0 147.9 1020.0 152.5 C1020.0 157.1 1020.0 155.0 1025.0 160.0 C1030.0 165.0 1028.3 162.5 1035.0 167.5 C1041.7 172.5 1040.0 169.2 1045.0 175.0 C1050.0 180.8 1045.8 178.3 1050.0 185.0 C1054.2 191.7 1051.7 190.0 1057.5 195.0 C1063.3 200.0 1060.8 196.7 1067.5 200.0 C1074.2 203.3 1071.7 200.8 1077.5 205.0 C1083.3 209.2 1081.7 206.7 1085.0 212.5 C1088.3 218.3 1087.5 216.7 1087.5 222.5 C1087.5 228.3 1088.3 228.3 1085.0 230.0 C1081.7 231.7 1082.5 230.8 1077.5 227.5 C1072.5 224.2 1075.8 224.2 1070.0 220.0 C1064.2 215.8 1067.5 217.5 1060.0 215.0 C1052.5 212.5 1055.8 213.3 1047.5 212.5 C1039.2 211.7 1044.2 213.3 1035.0 212.5 C1025.8 211.7 1029.2 212.5 1020.0 210.0 C1010.8 207.5 1015.8 209.2 1007.5 205.0 C999.2 200.8 1002.5 200.8 995.0 197.5 C987.5 194.2 991.2 194.2 985.0 195.0 C978.8 195.8 980.8 195.0 976.2 200.0 C971.7 205.0 973.3 202.5 971.2 210.0 C969.2 217.5 972.1 214.2 970.0 222.5 C967.9 230.8 969.2 228.3 965.0 235.0 C960.8 241.7 963.3 239.2 957.5 242.5 C951.7 245.8 953.3 247.1 947.5 245.0 C941.7 242.9 945.0 241.7 940.0 236.2 C935.0 230.8 936.7 235.8 932.5 228.8 C928.3 221.7 930.8 224.6 927.5 215.0 C924.2 205.4 925.4 210.0 922.5 200.0 C919.6 190.0 920.8 195.0 918.8 185.0 C916.7 175.0 915.8 178.3 916.2 170.0Z" fill="#4488E8"/>
<path d="M1103.8 185.0 C1104.2 177.5 1102.9 180.0 1106.2 175.0 C1109.6 170.0 1108.3 172.7 1113.8 170.0 C1119.2 167.3 1116.2 169.1 1122.5 167.0 C1128.8 164.9 1127.1 164.4 1132.5 163.8 C1137.9 163.1 1135.8 161.2 1138.8 165.0 C1141.7 168.8 1141.7 168.3 1141.2 175.0 C1140.8 181.7 1141.2 179.2 1137.5 185.0 C1133.8 190.8 1135.8 187.5 1130.0 192.5 C1124.2 197.5 1126.7 196.2 1120.0 200.0 C1113.3 203.8 1115.0 204.6 1110.0 203.8 C1105.0 202.9 1107.1 203.8 1105.0 197.5 C1102.9 191.2 1103.3 192.5 1103.8 185.0Z" fill="#4488E8"/>
<path d="M1092.5 240.0 C1091.7 232.5 1092.5 234.6 1096.2 228.8 C1100.0 222.9 1098.3 225.0 1103.8 222.5 C1109.2 220.0 1106.7 220.4 1112.5 221.2 C1118.3 222.1 1116.2 220.8 1121.2 225.0 C1126.2 229.2 1124.2 227.1 1127.5 233.8 C1130.8 240.4 1130.4 237.1 1131.2 245.0 C1132.1 252.9 1132.5 250.8 1130.0 257.5 C1127.5 264.2 1128.8 262.3 1123.8 265.0 C1118.8 267.7 1120.8 267.2 1115.0 265.5 C1109.2 263.8 1111.7 264.8 1106.2 260.0 C1100.8 255.2 1103.3 257.9 1098.8 251.2 C1094.2 244.6 1093.3 247.5 1092.5 240.0Z" fill="#4488E8"/>
<path d="M1071.2 203.8 C1071.8 201.8 1071.8 201.0 1073.8 201.2 C1075.7 201.5 1076.6 202.2 1077.0 204.5 C1077.4 206.8 1076.7 207.2 1075.0 208.0 C1073.3 208.8 1073.2 208.4 1072.0 207.0 C1070.8 205.6 1070.7 205.7 1071.2 203.8Z" fill="#4488E8"/>
<path d="M856.2 400.0 C856.7 395.0 857.1 395.0 858.8 395.0 C860.4 395.0 860.7 395.4 861.2 400.0 C861.8 404.6 861.8 405.4 860.5 408.8 C859.2 412.1 858.9 412.9 857.5 410.0 C856.1 407.1 855.8 405.0 856.2 400.0Z" fill="#4488E8"/>
<path d="M836.2 327.5 C836.2 320.4 836.2 324.2 840.0 317.5 C843.8 310.8 842.5 313.3 847.5 307.5 C852.5 301.7 850.0 300.8 855.0 300.0 C860.0 299.2 857.5 301.2 862.5 305.0 C867.5 308.8 864.2 308.8 870.0 311.2 C875.8 313.8 874.2 314.6 880.0 312.5 C885.8 310.4 883.3 311.7 887.5 305.0 C891.7 298.3 889.6 299.6 892.5 292.5 C895.4 285.4 892.9 287.5 896.2 283.8 C899.6 280.0 897.1 280.4 902.5 281.2 C907.9 282.1 905.8 282.5 912.5 286.2 C919.2 290.0 917.9 287.9 922.5 292.5 C927.1 297.1 926.2 295.0 926.2 300.0 C926.2 305.0 927.1 303.3 922.5 307.5 C917.9 311.7 918.3 309.2 912.5 312.5 C906.7 315.8 909.2 312.5 905.0 317.5 C900.8 322.5 902.5 320.0 900.0 327.5 C897.5 335.0 899.6 333.3 897.5 340.0 C895.4 346.7 897.9 346.7 893.8 347.5 C889.6 348.3 891.2 346.2 885.0 342.5 C878.8 338.8 880.8 337.1 875.0 336.2 C869.2 335.4 871.7 336.2 867.5 340.0 C863.3 343.8 866.7 344.2 862.5 347.5 C858.3 350.8 860.0 350.4 855.0 350.0 C850.0 349.6 852.5 350.0 847.5 346.2 C842.5 342.5 843.8 345.0 840.0 338.8 C836.2 332.5 836.2 334.6 836.2 327.5Z" fill="#4488E8"/>
<path d="M688.8 535.0 C688.5 531.2 688.8 532.1 691.2 530.0 C693.8 527.9 693.2 527.9 696.2 528.8 C699.3 529.6 698.8 529.2 700.5 532.5 C702.2 535.8 702.2 535.4 701.2 538.8 C700.2 542.1 700.6 541.7 697.5 542.5 C694.4 543.3 694.9 543.8 692.0 541.2 C689.1 538.8 689.0 538.8 688.8 535.0Z" fill="#4488E8"/>
<path d="M391.2 512.5 C389.2 506.2 390.0 508.8 393.8 500.0 C397.5 491.2 396.2 494.6 402.5 486.2 C408.8 477.9 405.4 482.1 412.5 475.0 C419.6 467.9 417.1 471.7 423.8 465.0 C430.4 458.3 428.3 462.5 432.5 455.0 C436.7 447.5 432.5 448.2 436.2 442.5 C440.0 436.8 439.2 438.4 443.8 438.0 C448.3 437.6 447.5 437.7 450.0 441.2 C452.5 444.8 452.5 443.3 451.2 448.8 C450.0 454.2 450.0 451.2 446.2 457.5 C442.5 463.8 443.3 460.8 440.0 467.5 C436.7 474.2 437.1 470.0 436.2 477.5 C435.4 485.0 435.4 482.5 437.5 490.0 C439.6 497.5 438.8 494.2 442.5 500.0 C446.2 505.8 443.8 502.5 448.8 507.5 C453.8 512.5 450.4 510.0 457.5 515.0 C464.6 520.0 461.7 518.8 470.0 522.5 C478.3 526.2 475.0 523.3 482.5 526.2 C490.0 529.2 487.1 526.7 492.5 531.2 C497.9 535.8 496.7 533.8 498.8 540.0 C500.8 546.2 500.8 544.2 498.8 550.0 C496.7 555.8 498.8 555.0 492.5 557.5 C486.2 560.0 488.3 558.8 480.0 557.5 C471.7 556.2 475.8 555.4 467.5 553.8 C459.2 552.1 462.5 554.6 455.0 552.5 C447.5 550.4 451.7 552.5 445.0 547.5 C438.3 542.5 440.8 543.8 435.0 537.5 C429.2 531.2 432.5 533.8 427.5 528.8 C422.5 523.8 425.8 526.2 420.0 522.5 C414.2 518.8 416.7 518.8 410.0 517.5 C403.3 516.2 406.2 520.4 400.0 518.8 C393.8 517.1 393.3 518.8 391.2 512.5Z" fill="#2A52EA"/>
<path d="M531.2 445.0 C532.1 437.1 531.2 439.6 533.8 430.0 C536.2 420.4 535.0 422.5 538.8 416.2 C542.5 410.0 541.2 411.7 545.0 411.2 C548.8 410.8 547.1 410.8 550.0 415.0 C552.9 419.2 549.6 419.6 553.8 423.8 C557.9 427.9 556.2 425.0 562.5 427.5 C568.8 430.0 567.5 427.5 572.5 431.2 C577.5 435.0 573.3 432.9 577.5 438.8 C581.7 444.6 579.2 441.7 585.0 448.8 C590.8 455.8 589.2 452.9 595.0 460.0 C600.8 467.1 598.3 464.2 602.5 470.0 C606.7 475.8 607.5 473.8 607.5 477.5 C607.5 481.2 607.5 479.6 602.5 481.2 C597.5 482.9 598.3 480.8 592.5 482.5 C586.7 484.2 590.0 482.5 585.0 486.2 C580.0 490.0 583.3 490.4 577.5 493.8 C571.7 497.1 574.2 496.7 567.5 496.2 C560.8 495.8 563.3 497.1 557.5 492.5 C551.7 487.9 555.0 489.2 550.0 482.5 C545.0 475.8 547.5 479.2 542.5 472.5 C537.5 465.8 538.8 468.8 535.0 462.5 C531.2 456.2 532.5 459.6 531.2 453.8 C530.0 447.9 530.4 452.9 531.2 445.0Z" fill="#2A52EA"/>
<path d="M543.8 562.5 C545.0 555.0 543.8 558.8 547.5 552.5 C551.2 546.2 550.0 551.2 555.0 543.8 C560.0 536.2 558.3 537.9 562.5 530.0 C566.7 522.1 562.5 524.2 567.5 520.0 C572.5 515.8 571.7 517.9 577.5 517.5 C583.3 517.1 580.8 515.4 585.0 518.8 C589.2 522.1 586.2 521.7 590.0 527.5 C593.8 533.3 592.9 529.6 596.2 536.2 C599.6 542.9 599.2 539.6 600.0 547.5 C600.8 555.4 600.8 553.3 598.8 560.0 C596.7 566.7 598.3 564.2 593.8 567.5 C589.2 570.8 591.2 569.2 585.0 570.0 C578.8 570.8 581.7 567.9 575.0 570.0 C568.3 572.1 569.6 570.4 565.0 576.2 C560.4 582.1 561.7 579.6 561.2 587.5 C560.8 595.4 563.8 592.1 563.8 600.0 C563.8 607.9 564.2 607.1 561.2 611.2 C558.3 615.4 558.8 614.6 555.0 612.5 C551.2 610.4 552.5 612.5 550.0 605.0 C547.5 597.5 549.6 600.0 547.5 590.0 C545.4 580.0 545.0 584.2 543.8 575.0 C542.5 565.8 542.5 570.0 543.8 562.5Z" fill="#2A52EA"/>
<path d="M190.0 224.0 C196.0 219.3 198.0 218.9 210.0 220.0 C222.0 221.1 221.3 221.2 226.0 227.2 C230.7 233.2 228.0 232.4 224.0 238.0 C220.0 243.6 222.0 242.7 214.0 244.0 C206.0 245.3 207.3 245.3 200.0 242.0 C192.7 238.7 195.3 240.0 192.0 234.0 C188.7 228.0 184.0 228.7 190.0 224.0Z" fill="#2A52EA"/>
<path d="M269.5 615.5 C269.7 613.0 270.2 613.1 272.5 613.8 C274.8 614.4 275.2 615.0 276.2 617.5 C277.2 620.0 276.9 620.0 275.5 621.2 C274.1 622.5 274.0 623.2 272.0 621.2 C270.0 619.3 269.3 618.0 269.5 615.5Z" fill="#2A52EA"/>
<path d="M355.8 647.5 C355.9 646.2 356.8 646.2 358.0 646.8 C359.2 647.2 359.7 647.8 359.5 649.0 C359.3 650.2 358.8 651.0 357.5 650.5 C356.2 650.0 355.6 648.8 355.8 647.5Z" fill="#2A52EA"/>
<path d="M932.5 132.5 C932.1 125.0 932.1 128.3 933.8 120.0 C935.4 111.7 937.1 114.2 937.5 107.5 C937.9 100.8 936.7 105.4 935.0 100.0 C933.3 94.6 930.8 96.7 932.5 91.2 C934.2 85.8 934.2 87.9 940.0 83.8 C945.8 79.6 943.3 81.7 950.0 78.8 C956.7 75.8 955.0 73.8 960.0 75.0 C965.0 76.2 963.8 76.7 965.0 82.5 C966.2 88.3 963.3 85.8 963.8 92.5 C964.2 99.2 963.3 96.7 966.2 102.5 C969.2 108.3 967.1 107.1 972.5 110.0 C977.9 112.9 976.7 112.5 982.5 111.2 C988.3 110.0 986.2 110.8 990.0 106.2 C993.8 101.7 992.9 103.8 993.8 97.5 C994.6 91.2 991.7 92.9 992.5 87.5 C993.3 82.1 992.9 81.7 996.2 81.2 C999.6 80.8 999.6 80.8 1002.5 86.2 C1005.4 91.7 1005.0 90.4 1005.0 97.5 C1005.0 104.6 1004.6 101.7 1002.5 107.5 C1000.4 113.3 1001.2 109.2 998.8 115.0 C996.2 120.8 995.8 119.2 995.0 125.0 C994.2 130.8 993.8 127.5 996.2 132.5 C998.8 137.5 997.1 135.4 1002.5 140.0 C1007.9 144.6 1005.8 142.1 1012.5 146.2 C1019.2 150.4 1016.7 147.1 1022.5 152.5 C1028.3 157.9 1026.2 155.8 1030.0 162.5 C1033.8 169.2 1032.9 166.7 1033.8 172.5 C1034.6 178.3 1035.4 176.2 1032.5 180.0 C1029.6 183.8 1030.8 182.1 1025.0 183.8 C1019.2 185.4 1021.7 185.0 1015.0 185.0 C1008.3 185.0 1011.7 185.4 1005.0 183.8 C998.3 182.1 1002.5 182.1 995.0 180.0 C987.5 177.9 990.8 179.2 982.5 177.5 C974.2 175.8 977.5 177.5 970.0 175.0 C962.5 172.5 966.7 174.2 960.0 170.0 C953.3 165.8 956.2 168.3 950.0 162.5 C943.8 156.7 946.2 159.2 941.2 152.5 C936.2 145.8 937.9 149.2 935.0 142.5 C932.1 135.8 932.9 140.0 932.5 132.5Z" fill="#2A52EA"/>
<path d="M932.5 215.0 C932.5 208.3 932.1 210.8 933.8 205.0 C935.4 199.2 933.8 201.2 937.5 197.5 C941.2 193.8 940.4 193.8 945.0 193.8 C949.6 193.8 947.5 192.9 951.2 197.5 C955.0 202.1 954.2 200.0 956.2 207.5 C958.3 215.0 957.9 212.1 957.5 220.0 C957.1 227.9 957.5 225.4 955.0 231.2 C952.5 237.1 953.8 234.6 950.0 237.5 C946.2 240.4 947.9 240.8 943.8 240.0 C939.6 239.2 940.8 240.0 937.5 235.0 C934.2 230.0 935.4 231.7 933.8 225.0 C932.1 218.3 932.5 221.7 932.5 215.0Z" fill="#2A52EA"/>
<path d="M1107.5 242.5 C1108.3 238.3 1107.9 238.8 1111.2 237.5 C1114.6 236.2 1113.8 236.2 1117.5 238.8 C1121.2 241.2 1120.4 240.4 1122.5 245.0 C1124.6 249.6 1124.6 248.3 1123.8 252.5 C1122.9 256.7 1123.3 256.2 1120.0 257.5 C1116.7 258.8 1117.5 258.8 1113.8 256.2 C1110.0 253.8 1110.8 254.6 1108.8 250.0 C1106.7 245.4 1106.7 246.7 1107.5 242.5Z" fill="#2A52EA"/>
<path d="M407.5 497.5 C407.1 490.8 406.7 493.2 410.0 487.5 C413.3 481.8 412.1 482.6 417.5 480.5 C422.9 478.4 420.8 478.5 426.2 481.2 C431.7 484.0 429.2 482.5 433.8 488.8 C438.3 495.0 437.2 492.5 440.0 500.0 C442.8 507.5 442.8 504.6 442.0 511.2 C441.2 517.9 442.3 516.4 437.5 520.0 C432.7 523.6 433.8 523.2 427.5 522.0 C421.2 520.8 424.2 521.1 418.8 516.2 C413.3 511.4 415.0 513.8 411.2 507.5 C407.5 501.2 407.9 504.2 407.5 497.5Z" fill="#2E22CC"/>
<path d="M560.0 446.2 C560.4 442.5 559.6 442.2 562.5 440.0 C565.4 437.8 565.2 437.8 568.8 439.5 C572.3 441.2 572.0 440.7 573.2 445.0 C574.5 449.3 574.8 449.3 572.5 452.5 C570.2 455.7 570.0 454.9 566.2 454.5 C562.5 454.1 563.3 454.0 561.2 451.2 C559.2 448.5 559.6 450.0 560.0 446.2Z" fill="#2E22CC"/>
<path d="M587.5 547.5 C587.7 544.8 587.5 544.2 590.0 543.0 C592.5 541.8 592.7 541.8 595.0 543.8 C597.3 545.7 597.4 546.0 597.0 548.8 C596.6 551.5 596.2 551.2 593.8 552.0 C591.2 552.8 591.6 552.8 589.5 551.2 C587.4 549.8 587.3 550.2 587.5 547.5Z" fill="#2E22CC"/>
<path d="M200.0 234.0 C201.3 231.3 202.3 230.8 206.0 231.2 C209.7 231.6 210.5 232.3 211.2 235.2 C211.9 238.1 211.1 238.7 208.0 240.0 C204.9 241.3 204.7 241.2 202.0 239.2 C199.3 237.2 198.7 236.7 200.0 234.0Z" fill="#2E22CC"/>
<path d="M947.5 132.5 C946.7 124.6 946.7 127.5 946.2 117.5 C945.8 107.5 945.8 111.7 946.2 102.5 C946.7 93.3 945.8 96.7 947.5 90.0 C949.2 83.3 948.3 85.0 951.2 82.5 C954.2 80.0 953.3 80.0 956.2 82.5 C959.2 85.0 958.3 84.2 960.0 90.0 C961.7 95.8 960.0 93.3 961.2 100.0 C962.5 106.7 960.8 104.6 963.8 110.0 C966.7 115.4 965.0 113.8 970.0 116.2 C975.0 118.8 973.3 118.3 978.8 117.5 C984.2 116.7 982.5 117.5 986.2 113.8 C990.0 110.0 989.2 112.1 990.0 106.2 C990.8 100.4 988.3 100.8 988.8 96.2 C989.2 91.7 988.8 91.7 991.2 92.5 C993.8 93.3 994.3 93.3 996.2 98.8 C998.2 104.2 997.8 102.5 997.0 108.8 C996.2 115.0 996.5 112.1 993.8 117.5 C991.0 122.9 991.2 119.2 988.8 125.0 C986.2 130.8 987.5 127.5 986.2 135.0 C985.0 142.5 986.2 140.0 985.0 147.5 C983.8 155.0 985.8 152.1 982.5 157.5 C979.2 162.9 980.8 161.2 975.0 163.8 C969.2 166.2 971.2 166.2 965.0 165.0 C958.8 163.8 960.8 165.0 956.2 160.0 C951.7 155.0 953.8 156.2 951.2 150.0 C948.8 143.8 950.0 147.1 948.8 141.2 C947.5 135.4 948.3 140.4 947.5 132.5Z" fill="#2E22CC"/>
<path d="M941.2 226.2 C941.5 223.1 941.9 222.9 943.8 222.5 C945.6 222.1 945.9 222.3 946.8 225.0 C947.6 227.7 947.5 228.2 946.2 230.5 C945.0 232.8 944.7 233.4 943.0 232.0 C941.3 230.6 941.0 229.4 941.2 226.2Z" fill="#2E22CC"/>
<path d="M954.5 143.8 C955.3 141.1 955.2 140.8 957.5 140.0 C959.8 139.2 959.6 139.2 961.2 141.2 C962.9 143.3 963.3 143.5 962.5 146.2 C961.7 149.0 961.2 148.9 958.8 149.5 C956.2 150.1 956.4 149.9 955.0 148.0 C953.6 146.1 953.7 146.4 954.5 143.8Z" fill="#1E1682"/>
<path d="M991.0 107.5 C991.6 106.1 991.8 105.8 993.0 106.2 C994.2 106.7 994.4 107.1 994.5 108.8 C994.6 110.4 994.3 110.7 993.2 111.2 C992.2 111.8 992.0 111.8 991.2 110.5 C990.5 109.2 990.4 108.9 991.0 107.5Z" fill="#1E1682"/>
<path d="M1011.2 163.8 C1011.4 162.2 1012.2 162.1 1013.5 162.5 C1014.8 162.9 1015.2 163.5 1015.0 165.0 C1014.8 166.5 1014.2 167.4 1013.0 167.0 C1011.8 166.6 1011.1 165.2 1011.2 163.8Z" fill="#1E1682"/>
<path d="M511.2 515.0 C513.1 510.0 512.5 510.0 516.2 510.0 C520.0 510.0 518.3 510.0 522.5 515.0 C526.7 520.0 527.1 518.3 528.8 525.0 C530.4 531.7 528.8 527.5 527.5 535.0 C526.2 542.5 527.5 541.7 525.0 547.5 C522.5 553.3 523.8 552.5 520.0 552.5 C516.2 552.5 516.7 553.3 513.8 547.5 C510.8 541.7 512.2 542.5 511.2 535.0 C510.2 527.5 510.8 531.7 510.8 525.0 C510.8 518.3 509.4 520.0 511.2 515.0Z" fill="#8ADFEE"/>
<path d="M295.0 613.8 C297.9 607.5 296.7 608.8 302.5 605.0 C308.3 601.2 305.8 602.7 312.5 602.5 C319.2 602.3 317.5 601.6 322.5 604.5 C327.5 607.4 326.2 606.5 327.5 611.2 C328.8 616.0 328.8 614.6 326.2 618.8 C323.8 622.9 324.2 620.0 320.0 623.8 C315.8 627.5 316.2 625.4 313.8 630.0 C311.2 634.6 310.8 633.8 312.5 637.5 C314.2 641.2 317.9 639.6 318.8 641.2 C319.6 642.9 319.6 642.5 315.0 642.5 C310.4 642.5 310.8 644.2 305.0 641.2 C299.2 638.3 301.2 639.6 297.5 633.8 C293.8 627.9 294.6 630.4 293.8 623.8 C292.9 617.1 292.1 620.0 295.0 613.8Z" fill="#8ADFEE"/>
<path d="M500.0 525.0 C490.8 533.3 499.6 536.7 498.8 550.0 C497.9 563.3 499.2 554.2 497.5 565.0 C495.8 575.8 496.2 574.2 493.8 582.5 C491.2 590.8 492.1 583.3 490.0 590.0 C487.9 596.7 487.5 594.2 487.5 602.5 C487.5 610.8 488.8 607.5 490.0 615.0 C491.2 622.5 488.8 619.2 491.2 625.0 C493.8 630.8 491.2 628.3 497.5 632.5 C503.8 636.7 502.5 635.8 510.0 637.5 C517.5 639.2 513.3 638.3 520.0 637.5 C526.7 636.7 523.3 634.2 530.0 635.0 C536.7 635.8 533.3 636.7 540.0 640.0 C546.7 643.3 545.0 645.0 550.0 645.0 C555.0 645.0 556.7 645.0 555.0 640.0 C553.3 635.0 550.8 635.8 545.0 630.0 C539.2 624.2 542.5 628.3 537.5 622.5 C532.5 616.7 533.8 620.8 530.0 612.5 C526.2 604.2 527.5 609.2 526.2 597.5 C525.0 585.8 526.7 588.3 526.2 577.5 C525.8 566.7 523.8 573.3 525.0 565.0 C526.2 556.7 529.2 560.8 530.0 552.5 C530.8 544.2 528.8 549.2 527.5 540.0 C526.2 530.8 535.4 530.0 526.2 525.0 C517.1 520.0 509.2 516.7 500.0 525.0Z" fill="#8ADFEE"/>
<path d="M963.8 75.0 C965.4 69.0 962.9 72.8 970.0 72.0 C977.1 71.2 977.9 70.7 985.0 72.5 C992.1 74.3 989.6 71.7 991.2 77.5 C992.9 83.3 991.7 81.7 990.0 90.0 C988.3 98.3 989.6 95.8 986.2 102.5 C982.9 109.2 984.6 107.1 980.0 110.0 C975.4 112.9 976.7 113.3 972.5 111.2 C968.3 109.2 970.0 110.8 967.5 103.8 C965.0 96.7 966.2 99.6 965.0 90.0 C963.8 80.4 962.1 81.0 963.8 75.0Z" fill="#4488E8"/>
<path d="M970.0 72.0 C975.0 67.8 980.4 68.2 985.0 72.5 C989.6 76.8 985.4 77.5 983.8 85.0 C982.1 92.5 982.5 90.0 980.0 95.0 C977.5 100.0 978.8 100.0 976.2 100.0 C973.8 100.0 974.6 100.0 972.5 95.0 C970.4 90.0 970.8 92.7 970.0 85.0 C969.2 77.3 965.0 76.2 970.0 72.0Z" fill="#78B4E6"/>
<path d="M1045.0 150.0 C1046.7 145.4 1045.8 147.9 1052.5 146.2 C1059.2 144.6 1056.7 144.6 1065.0 145.0 C1073.3 145.4 1070.0 144.2 1077.5 147.5 C1085.0 150.8 1081.7 148.3 1087.5 155.0 C1093.3 161.7 1090.8 158.3 1095.0 167.5 C1099.2 176.7 1097.9 172.5 1100.0 182.5 C1102.1 192.5 1102.1 189.2 1101.2 197.5 C1100.4 205.8 1101.2 203.3 1097.5 207.5 C1093.8 211.7 1095.8 211.7 1090.0 210.0 C1084.2 208.3 1086.7 207.5 1080.0 202.5 C1073.3 197.5 1076.7 200.8 1070.0 195.0 C1063.3 189.2 1065.8 192.5 1060.0 185.0 C1054.2 177.5 1056.7 180.8 1052.5 172.5 C1048.3 164.2 1050.0 167.5 1047.5 160.0 C1045.0 152.5 1043.3 154.6 1045.0 150.0Z" fill="#8ADFEE"/>
<path d="M940.0 337.5 C939.8 333.8 939.8 334.2 942.5 332.5 C945.2 330.8 945.1 330.8 948.0 332.5 C950.9 334.2 951.0 334.0 951.2 337.5 C951.5 341.0 951.5 340.9 948.8 343.0 C946.0 345.1 945.9 345.6 943.0 343.8 C940.1 341.9 940.2 341.2 940.0 337.5Z" fill="#8ADFEE"/>
<path d="M326.0 610.0 C328.7 600.7 330.7 608.7 338.0 602.0 C345.3 595.3 342.7 588.7 348.0 590.0 C353.3 591.3 350.0 595.3 354.0 606.0 C358.0 616.7 361.3 615.3 360.0 622.0 C358.7 628.7 356.7 622.7 350.0 626.0 C343.3 629.3 346.7 630.7 340.0 632.0 C333.3 633.3 334.7 637.3 330.0 630.0 C325.3 622.7 323.3 619.3 326.0 610.0Z" fill="#8ADFEE"/>
<path d="M615.0 460.0 C615.4 455.4 614.6 456.2 618.8 455.0 C622.9 453.8 621.2 453.8 627.5 456.2 C633.8 458.8 632.5 457.1 637.5 462.5 C642.5 467.9 641.7 466.2 642.5 472.5 C643.3 478.8 643.3 477.5 640.0 481.2 C636.7 485.0 637.9 485.0 632.5 483.8 C627.1 482.5 628.8 482.5 623.8 477.5 C618.8 472.5 620.4 474.6 617.5 468.8 C614.6 462.9 614.6 464.6 615.0 460.0Z" fill="#8ADFEE"/>
<path d="M807.0 312.5 C807.4 307.1 807.2 306.7 810.0 301.2 C812.8 295.8 810.5 297.7 815.5 296.2 C820.5 294.8 820.0 295.6 825.0 297.0 C830.0 298.4 828.4 297.0 830.5 300.5 C832.6 304.0 833.1 303.5 831.2 307.5 C829.4 311.5 830.4 309.3 825.0 312.5 C819.6 315.7 820.4 315.3 815.0 317.0 C809.6 318.7 811.4 319.0 808.8 317.5 C806.1 316.0 806.6 317.9 807.0 312.5Z" fill="#8ADFEE"/>
<path d="M483.8 715.0 L490.0 712.5 L497.5 705.0 L502.5 692.5 L506.2 680.0 L507.5 665.0 L510.0 650.0 L517.5 642.5 L530.0 638.8 L540.0 643.8 L540.0 652.5 L535.0 662.5 L535.0 675.0 L542.5 685.0 L555.0 688.8 L567.5 686.2 L575.0 677.5 L576.2 665.0 L570.0 655.0 L560.0 647.5 L556.2 642.5 L562.5 638.8 L572.5 635.0 L580.0 625.0 L587.5 617.5 L600.0 613.8 L617.5 615.0 L635.0 615.0 L645.0 617.5 L648.0 620.0 L647.0 640.0 L650.0 652.0 L658.0 654.0 L665.0 648.0 L664.0 620.0 L668.0 610.0 L672.0 602.0 L680.0 599.0 L688.0 597.0 L696.0 594.0 L702.0 586.0 L704.0 576.0 L705.0 566.0 L702.0 558.0 L704.0 550.0 L712.0 548.0 L720.0 546.0 L728.0 544.0 L738.0 540.0 L744.0 532.0 L748.0 524.0 L749.0 520.0 L751.0 512.0 L748.0 506.0 L740.0 501.0 L732.0 498.0 L725.0 496.0 L724.0 488.0 L728.0 480.0 L736.0 466.0 L746.0 460.0 L754.0 454.0 L760.0 447.0 L780.0 447.0 L796.0 440.0 L798.0 434.0 L802.0 428.0 L810.0 422.0 L820.0 418.0 L830.0 416.0 L840.0 414.0 L850.0 413.0 L858.0 416.0 L866.0 422.0 L868.0 412.0 L864.0 404.0 L865.0 410.0 L863.8 397.5 L862.5 387.5 L866.2 380.0 L875.0 377.5 L885.0 377.5 L895.0 382.5 L905.0 387.5 L915.0 382.5 L925.0 377.5 L935.0 372.5 L945.0 372.5 L955.0 377.5 L965.0 387.5 L970.0 395.0 L977.5 392.5 L987.5 388.8 L985.0 430.0 L1000.0 455.0 L1070.0 455.0 L1070.0 600.0 L1150.0 700.0 L1050.0 950.0 L800.0 1060.0 L600.0 950.0 L480.0 930.0 L440.0 800.0 L470.0 730.0Z" fill="#D2F7F0"/>
<path d="M140.0 356.0 C138.7 344.7 138.0 348.7 144.0 336.0 C150.0 323.3 146.7 328.7 158.0 318.0 C169.3 307.3 163.3 310.0 178.0 304.0 C192.7 298.0 187.3 298.7 202.0 300.0 C216.7 301.3 212.0 300.7 222.0 308.0 C232.0 315.3 227.3 319.3 232.0 322.0 C236.7 324.7 236.7 323.3 236.0 316.0 C235.3 308.7 232.0 310.7 230.0 300.0 C228.0 289.3 226.0 294.0 230.0 284.0 C234.0 274.0 231.3 276.0 242.0 270.0 C252.7 264.0 250.0 270.0 262.0 266.0 C274.0 262.0 270.0 266.0 278.0 258.0 C286.0 250.0 278.7 251.3 286.0 242.0 C293.3 232.7 290.7 232.0 300.0 230.0 C309.3 228.0 306.7 230.0 314.0 236.0 C321.3 242.0 314.0 242.0 322.0 248.0 C330.0 254.0 326.0 254.0 338.0 254.0 C350.0 254.0 347.3 254.7 358.0 248.0 C368.7 241.3 362.7 242.3 370.0 234.0 C377.3 225.7 374.7 225.2 380.0 223.2 C385.3 221.2 386.7 221.1 386.0 228.0 C385.3 234.9 384.0 233.3 378.0 244.0 C372.0 254.7 372.7 249.3 368.0 260.0 C363.3 270.7 364.7 264.0 364.0 276.0 C363.3 288.0 361.3 284.0 366.0 296.0 C370.7 308.0 373.3 301.3 378.0 312.0 C382.7 322.7 382.7 317.3 380.0 328.0 C377.3 338.7 380.0 337.3 370.0 344.0 C360.0 350.7 362.7 349.3 350.0 348.0 C337.3 346.7 340.7 346.7 332.0 340.0 C323.3 333.3 326.9 337.3 324.0 328.0 C321.1 318.7 325.5 313.3 323.2 312.0 C320.9 310.7 317.6 313.3 317.2 324.0 C316.8 334.7 318.4 330.7 322.0 344.0 C325.6 357.3 327.3 349.3 328.0 364.0 C328.7 378.7 330.0 374.0 324.0 388.0 C318.0 402.0 322.7 397.3 310.0 406.0 C297.3 414.7 303.3 410.7 286.0 414.0 C268.7 417.3 275.3 416.0 258.0 416.0 C240.7 416.0 248.0 417.3 234.0 414.0 C220.0 410.7 226.7 412.7 216.0 406.0 C205.3 399.3 211.3 402.0 202.0 394.0 C192.7 386.0 200.0 388.0 188.0 382.0 C176.0 376.0 179.3 380.0 166.0 376.0 C152.7 372.0 156.7 376.7 148.0 370.0 C139.3 363.3 141.3 367.3 140.0 356.0Z" fill="#D2F7F0"/>
<path d="M132.0 248.0 C134.0 240.7 132.7 240.7 140.0 236.0 C147.3 231.3 147.3 230.0 154.0 234.0 C160.7 238.0 153.3 244.0 160.0 248.0 C166.7 252.0 165.3 245.3 174.0 246.0 C182.7 246.7 176.7 247.3 186.0 250.0 C195.3 252.7 193.3 250.7 202.0 254.0 C210.7 257.3 209.3 252.7 212.0 260.0 C214.7 267.3 212.7 267.3 210.0 276.0 C207.3 284.7 212.0 280.7 204.0 286.0 C196.0 291.3 198.7 288.0 186.0 292.0 C173.3 296.0 177.3 298.0 166.0 298.0 C154.7 298.0 158.7 298.7 152.0 292.0 C145.3 285.3 148.7 286.7 146.0 278.0 C143.3 269.3 148.0 272.7 144.0 266.0 C140.0 259.3 138.0 264.0 134.0 258.0 C130.0 252.0 130.0 255.3 132.0 248.0Z" fill="#D2F7F0"/>
<path d="M365.5 213.0 L368.0 219.5 L375.0 217.5 L390.0 210.0 L400.0 200.0 L406.2 185.0 L406.2 172.5 L403.8 162.5 L410.0 156.2 L417.5 148.8 L425.0 144.5 L428.0 148.8 L425.0 157.5 L421.2 167.5 L421.2 180.0 L423.8 192.5 L430.0 200.0 L438.8 203.8 L446.2 200.0 L452.5 192.5 L460.0 185.0 L467.5 180.0 L470.0 172.5 L460.0 165.0 L450.0 157.5 L445.0 147.5 L443.8 137.5 L442.5 130.0 L430.0 123.8 L422.5 126.2 L421.2 132.0 L415.0 135.0 L403.8 133.8 L396.2 138.8 L393.0 153.8 L389.5 160.8 L383.8 162.0 L375.0 158.8 L367.5 158.5 L365.5 162.5Z" fill="#D2F7F0"/>
<path d="M423.8 235.0 C424.6 227.5 424.2 231.0 428.8 227.5 C433.3 224.0 431.2 225.3 437.5 224.5 C443.8 223.7 442.1 223.2 447.5 225.0 C452.9 226.8 451.2 226.2 453.8 230.0 C456.2 233.8 452.9 232.9 455.0 236.2 C457.1 239.6 456.7 236.2 460.0 240.0 C463.3 243.8 464.2 242.5 465.0 247.5 C465.8 252.5 465.8 250.4 462.5 255.0 C459.2 259.6 460.4 257.8 455.0 261.2 C449.6 264.8 452.5 264.2 446.2 265.5 C440.0 266.8 441.7 266.8 436.2 265.0 C430.8 263.2 433.3 265.0 430.0 260.0 C426.7 255.0 428.3 258.3 426.2 250.0 C424.2 241.7 422.9 242.5 423.8 235.0Z" fill="#D2F7F0"/>
<path d="M406.2 285.0 C405.7 284.2 405.3 283.3 407.0 278.8 C408.7 274.2 407.8 275.8 411.2 271.2 C414.8 266.7 414.2 267.9 417.5 265.0 C420.8 262.1 421.2 261.5 421.2 262.5 C421.2 263.5 420.4 263.8 417.5 268.0 C414.6 272.2 415.4 270.6 412.5 275.0 C409.6 279.4 410.8 277.9 408.8 281.2 C406.7 284.6 406.8 285.8 406.2 285.0Z" fill="#D2F7F0"/>
<path d="M460.0 317.5 C459.6 309.6 459.2 313.8 461.2 307.5 C463.3 301.2 461.7 303.8 466.2 298.8 C470.8 293.8 467.9 295.8 475.0 292.5 C482.1 289.2 480.0 292.1 487.5 288.8 C495.0 285.4 491.2 287.1 497.5 282.5 C503.8 277.9 501.7 278.3 506.2 275.0 C510.8 271.7 507.9 270.8 511.2 272.5 C514.6 274.2 511.7 276.7 516.2 280.0 C520.8 283.3 521.7 278.8 525.0 282.5 C528.3 286.2 525.0 285.4 526.2 291.2 C527.5 297.1 527.5 293.3 528.8 300.0 C530.0 306.7 528.8 305.4 530.0 311.2 C531.2 317.1 534.2 313.8 532.5 317.5 C530.8 321.2 530.8 319.2 525.0 322.5 C519.2 325.8 522.5 323.3 515.0 327.5 C507.5 331.7 510.8 330.4 502.5 335.0 C494.2 339.6 497.5 338.8 490.0 341.2 C482.5 343.8 486.7 343.3 480.0 342.5 C473.3 341.7 475.8 342.5 470.0 338.8 C464.2 335.0 465.8 338.3 462.5 331.2 C459.2 324.2 460.4 325.4 460.0 317.5Z" fill="#D2F7F0"/>
<path d="M526.2 347.5 C526.1 340.4 525.6 342.5 527.5 335.0 C529.4 327.5 526.2 327.9 532.0 325.0 C537.8 322.1 536.5 324.2 545.0 326.2 C553.5 328.3 550.8 328.3 557.5 331.2 C564.2 334.2 563.8 330.0 565.0 335.0 C566.2 340.0 564.2 339.6 561.2 346.2 C558.3 352.9 560.0 350.0 556.2 355.0 C552.5 360.0 554.6 357.9 550.0 361.2 C545.4 364.6 547.9 364.6 542.5 365.0 C537.1 365.4 538.6 365.4 533.8 362.5 C528.9 359.6 530.5 361.2 528.0 356.2 C525.5 351.2 526.4 354.6 526.2 347.5Z" fill="#D2F7F0"/>
<path d="M285.0 165.5 C288.1 163.7 288.3 165.1 293.8 167.0 C299.2 168.9 299.6 167.8 301.2 171.2 C302.9 174.8 301.7 174.2 298.8 177.5 C295.8 180.8 296.4 180.8 292.5 181.2 C288.6 181.7 289.7 181.7 287.0 178.8 C284.3 175.8 285.2 176.9 284.5 172.5 C283.8 168.1 281.9 167.3 285.0 165.5Z" fill="#D2F7F0"/>
<path d="M320.0 670.0 C322.7 666.9 322.1 667.0 327.5 667.0 C332.9 667.0 331.4 666.5 336.2 670.0 C341.1 673.5 339.5 671.7 342.0 677.5 C344.5 683.3 344.0 680.8 343.8 687.5 C343.5 694.2 343.8 691.7 341.2 697.5 C338.8 703.3 340.4 701.2 336.2 705.0 C332.1 708.8 332.9 710.8 328.8 708.8 C324.6 706.7 324.6 705.0 323.8 698.8 C322.9 692.5 327.9 694.6 326.2 690.0 C324.6 685.4 321.0 689.6 318.8 685.0 C316.5 680.4 319.1 681.2 319.5 676.2 C319.9 671.2 317.3 673.1 320.0 670.0Z" fill="#D2F7F0"/>
<path d="M302.0 620.5 C302.7 618.8 302.8 618.7 304.5 618.8 C306.2 618.8 306.8 618.8 307.0 620.8 C307.2 622.7 306.5 623.5 305.0 624.5 C303.5 625.5 303.5 625.1 302.5 623.8 C301.5 622.4 301.3 622.2 302.0 620.5Z" fill="#D2F7F0"/>
<path d="M461.2 650.0 C462.1 646.0 460.8 645.9 465.0 643.0 C469.2 640.1 468.3 640.6 473.8 641.2 C479.2 641.9 478.5 641.2 481.2 645.0 C484.0 648.8 483.7 648.2 482.0 652.5 C480.3 656.8 481.1 656.3 476.2 658.0 C471.4 659.7 472.1 658.5 467.5 657.5 C462.9 656.5 464.6 657.5 462.5 655.0 C460.4 652.5 460.4 654.0 461.2 650.0Z" fill="#D2F7F0"/>
<path d="M436.2 605.0 C435.8 599.2 435.8 601.2 438.8 597.5 C441.7 593.8 440.4 594.2 445.0 593.8 C449.6 593.3 448.2 592.9 452.5 596.2 C456.8 599.6 455.9 598.3 458.0 603.8 C460.1 609.2 460.2 607.5 458.8 612.5 C457.3 617.5 457.9 616.4 453.8 618.8 C449.6 621.1 450.8 620.8 446.2 619.5 C441.7 618.2 443.3 619.8 440.0 615.0 C436.7 610.2 436.7 610.8 436.2 605.0Z" fill="#D2F7F0"/>
<path d="M461.2 650.0 C461.8 646.2 460.8 646.7 463.8 643.8 C466.7 640.8 465.4 641.7 470.0 641.2 C474.6 640.8 473.5 640.4 477.5 642.5 C481.5 644.6 481.2 643.8 482.0 647.5 C482.8 651.2 482.8 650.4 480.0 653.8 C477.2 657.1 478.3 656.1 473.8 657.5 C469.2 658.9 470.2 658.8 466.2 658.0 C462.3 657.2 463.7 657.7 462.0 655.0 C460.3 652.3 460.7 653.8 461.2 650.0Z" fill="#D2F7F0"/>
<path d="M497.5 585.0 C497.3 576.7 497.0 579.6 499.5 572.5 C502.0 565.4 500.7 568.1 505.0 563.8 C509.3 559.4 507.5 560.3 512.5 559.5 C517.5 558.7 516.2 557.8 520.0 561.2 C523.8 564.8 522.8 562.9 523.8 570.0 C524.8 577.1 524.2 575.0 523.0 582.5 C521.8 590.0 522.2 585.8 520.0 592.5 C517.8 599.2 517.1 595.8 516.2 602.5 C515.4 609.2 517.9 605.8 517.5 612.5 C517.1 619.2 517.9 618.8 515.0 622.5 C512.1 626.2 512.1 625.4 508.8 623.8 C505.4 622.1 506.7 622.9 505.0 617.5 C503.3 612.1 505.4 614.2 503.8 607.5 C502.1 600.8 502.1 605.0 500.0 597.5 C497.9 590.0 497.7 593.3 497.5 585.0Z" fill="#D2F7F0"/>
<path d="M1065.0 167.5 C1064.2 161.7 1063.8 163.3 1066.2 160.0 C1068.8 156.7 1067.9 157.1 1072.5 157.5 C1077.1 157.9 1075.0 157.1 1080.0 161.2 C1085.0 165.4 1083.3 162.9 1087.5 170.0 C1091.7 177.1 1090.4 174.6 1092.5 182.5 C1094.6 190.4 1094.6 188.1 1093.8 193.8 C1092.9 199.4 1093.3 199.1 1090.0 199.5 C1086.7 199.9 1088.3 199.4 1083.8 195.0 C1079.2 190.6 1081.2 192.1 1076.2 186.2 C1071.2 180.4 1072.5 183.8 1068.8 177.5 C1065.0 171.2 1065.8 173.3 1065.0 167.5Z" fill="#D2F7F0"/>
<path d="M1072.5 290.0 C1072.5 284.2 1072.1 285.4 1075.0 281.2 C1077.9 277.1 1076.7 277.5 1081.2 277.5 C1085.8 277.5 1084.2 276.7 1088.8 281.2 C1093.3 285.8 1090.8 284.2 1095.0 291.2 C1099.2 298.3 1098.8 295.8 1101.2 302.5 C1103.8 309.2 1104.2 307.1 1102.5 311.2 C1100.8 315.4 1101.2 314.2 1096.2 315.0 C1091.2 315.8 1092.9 316.2 1087.5 313.8 C1082.1 311.2 1084.2 312.5 1080.0 307.5 C1075.8 302.5 1077.5 304.6 1075.0 298.8 C1072.5 292.9 1072.5 295.8 1072.5 290.0Z" fill="#D2F7F0"/>
<path d="M1130.0 291.2 C1130.8 289.0 1131.2 288.5 1133.8 288.8 C1136.2 289.0 1137.1 289.5 1137.5 292.0 C1137.9 294.5 1137.1 295.1 1135.0 296.2 C1132.9 297.4 1132.9 297.2 1131.2 295.5 C1129.6 293.8 1129.2 293.5 1130.0 291.2Z" fill="#D2F7F0"/>
<path d="M905.0 207.5 C905.0 204.2 905.8 204.2 908.8 203.8 C911.7 203.3 911.0 203.3 913.8 206.2 C916.5 209.2 917.0 209.4 917.0 212.5 C917.0 215.6 916.5 215.1 913.8 215.5 C911.0 215.9 911.7 216.4 908.8 213.8 C905.8 211.1 905.0 210.8 905.0 207.5Z" fill="#D2F7F0"/>
<path d="M1046.2 310.0 C1047.2 305.0 1046.2 306.2 1050.0 303.8 C1053.8 301.2 1053.3 300.8 1057.5 302.5 C1061.7 304.2 1061.2 303.8 1062.5 308.8 C1063.8 313.8 1062.9 312.1 1061.2 317.5 C1059.6 322.9 1061.2 322.5 1057.5 325.0 C1053.8 327.5 1053.5 327.1 1050.0 325.0 C1046.5 322.9 1048.2 323.8 1047.0 318.8 C1045.8 313.8 1045.2 315.0 1046.2 310.0Z" fill="#D2F7F0"/>
<path d="M1006.2 340.0 C1007.1 333.3 1006.2 335.0 1010.0 330.0 C1013.8 325.0 1012.1 325.8 1017.5 325.0 C1022.9 324.2 1022.1 322.5 1026.2 327.5 C1030.4 332.5 1027.9 330.8 1030.0 340.0 C1032.1 349.2 1032.5 345.8 1032.5 355.0 C1032.5 364.2 1033.3 360.8 1030.0 367.5 C1026.7 374.2 1027.5 374.2 1022.5 375.0 C1017.5 375.8 1019.2 375.0 1015.0 370.0 C1010.8 365.0 1012.5 366.7 1010.0 360.0 C1007.5 353.3 1008.8 356.7 1007.5 350.0 C1006.2 343.3 1005.4 346.7 1006.2 340.0Z" fill="#D2F7F0"/>
<path d="M1031.2 320.0 C1033.8 316.7 1035.0 319.6 1040.0 316.2 C1045.0 312.9 1042.5 314.6 1046.2 310.0 C1050.0 305.4 1046.7 304.2 1051.2 302.5 C1055.8 300.8 1056.2 301.7 1060.0 305.0 C1063.8 308.3 1063.3 307.5 1062.5 312.5 C1061.7 317.5 1060.8 315.0 1057.5 320.0 C1054.2 325.0 1053.3 322.9 1052.5 327.5 C1051.7 332.1 1056.7 331.2 1055.0 333.8 C1053.3 336.2 1052.5 337.1 1047.5 335.0 C1042.5 332.9 1045.0 330.4 1040.0 327.5 C1035.0 324.6 1035.4 328.8 1032.5 326.2 C1029.6 323.8 1028.8 323.3 1031.2 320.0Z" fill="#D2F7F0"/>
<path d="M1065.0 340.0 C1065.4 332.5 1065.0 335.0 1068.8 330.0 C1072.5 325.0 1070.8 325.8 1076.2 325.0 C1081.7 324.2 1080.4 324.2 1085.0 327.5 C1089.6 330.8 1088.8 328.3 1090.0 335.0 C1091.2 341.7 1091.2 340.0 1088.8 347.5 C1086.2 355.0 1087.5 353.3 1082.5 357.5 C1077.5 361.7 1078.8 361.7 1073.8 360.0 C1068.8 358.3 1070.4 359.2 1067.5 352.5 C1064.6 345.8 1064.6 347.5 1065.0 340.0Z" fill="#D2F7F0"/>
<path d="M982.5 375.0 C980.8 370.8 981.7 370.8 985.0 367.5 C988.3 364.2 987.5 364.2 992.5 365.0 C997.5 365.8 995.8 365.8 1000.0 370.0 C1004.2 374.2 1000.0 374.2 1005.0 377.5 C1010.0 380.8 1008.3 376.7 1015.0 380.0 C1021.7 383.3 1018.3 383.8 1025.0 387.5 C1031.7 391.2 1028.3 391.2 1035.0 391.2 C1041.7 391.2 1040.8 392.9 1045.0 387.5 C1049.2 382.1 1047.5 384.2 1047.5 375.0 C1047.5 365.8 1046.7 370.0 1045.0 360.0 C1043.3 350.0 1042.5 353.3 1042.5 345.0 C1042.5 336.7 1041.7 336.7 1045.0 335.0 C1048.3 333.3 1048.3 335.0 1052.5 340.0 C1056.7 345.0 1053.3 343.3 1057.5 350.0 C1061.7 356.7 1060.4 354.2 1065.0 360.0 C1069.6 365.8 1069.6 362.5 1071.2 367.5 C1072.9 372.5 1073.8 369.2 1070.0 375.0 C1066.2 380.8 1066.7 378.3 1060.0 385.0 C1053.3 391.7 1056.7 389.2 1050.0 395.0 C1043.3 400.8 1047.5 396.7 1040.0 402.5 C1032.5 408.3 1035.8 406.7 1027.5 412.5 C1019.2 418.3 1022.5 414.2 1015.0 420.0 C1007.5 425.8 1011.7 425.8 1005.0 430.0 C998.3 434.2 996.7 435.8 995.0 432.5 C993.3 429.2 995.8 427.5 1000.0 420.0 C1004.2 412.5 1005.8 416.7 1007.5 410.0 C1009.2 403.3 1004.2 406.7 1005.0 400.0 C1005.8 393.3 1010.0 396.7 1010.0 390.0 C1010.0 383.3 1010.0 384.2 1005.0 380.0 C1000.0 375.8 1000.0 377.5 995.0 377.5 C990.0 377.5 994.2 380.8 990.0 380.0 C985.8 379.2 984.2 379.2 982.5 375.0Z" fill="#D2F7F0"/>
<path d="M769.0 616.0 C770.5 613.3 771.7 611.3 774.0 614.0 C776.3 616.7 775.5 616.7 776.0 624.0 C776.5 631.3 776.3 629.7 775.6 636.0 C774.9 642.3 775.9 640.9 774.0 643.0 C772.1 645.1 771.0 646.1 770.0 642.4 C769.0 638.7 771.1 638.8 771.0 632.0 C770.9 625.2 770.3 627.3 769.6 622.0 C768.9 616.7 767.5 618.7 769.0 616.0Z" fill="#D2F7F0"/>
<path d="M623.8 467.5 C624.2 464.5 623.8 464.2 626.2 463.0 C628.8 461.8 628.3 461.6 631.2 463.8 C634.2 465.9 634.2 465.9 635.0 469.5 C635.8 473.1 635.8 472.7 633.8 474.5 C631.7 476.3 631.7 475.8 628.8 475.0 C625.8 474.2 626.7 474.5 625.0 472.0 C623.3 469.5 623.3 470.5 623.8 467.5Z" fill="#D2F7F0"/>
<path d="M808.0 454.0 C808.7 449.0 807.7 450.0 811.0 447.0 C814.3 444.0 813.0 444.3 818.0 445.0 C823.0 445.7 822.0 444.7 826.0 449.0 C830.0 453.3 826.0 453.0 830.0 458.0 C834.0 463.0 833.3 460.0 838.0 464.0 C842.7 468.0 840.7 464.7 844.0 470.0 C847.3 475.3 848.0 473.3 848.0 480.0 C848.0 486.7 848.0 484.7 844.0 490.0 C840.0 495.3 842.0 494.0 836.0 496.0 C830.0 498.0 831.3 498.0 826.0 496.0 C820.7 494.0 822.7 495.3 820.0 490.0 C817.3 484.7 820.0 486.7 818.0 480.0 C816.0 473.3 817.0 476.0 814.0 470.0 C811.0 464.0 811.0 467.3 809.0 462.0 C807.0 456.7 807.3 459.0 808.0 454.0Z" fill="#8ADFEE"/>
<path d="M764.0 470.0 C764.7 464.7 759.3 465.3 760.0 458.0 C760.7 450.7 761.3 454.0 766.0 448.0 C770.7 442.0 770.7 446.0 774.0 440.0 C777.3 434.0 774.0 436.7 776.0 430.0 C778.0 423.3 776.0 427.3 780.0 420.0 C784.0 412.7 783.3 410.7 788.0 408.0 C792.7 405.3 791.3 404.7 794.0 412.0 C796.7 419.3 794.3 421.3 796.0 430.0 C797.7 438.7 797.7 432.0 799.0 438.0 C800.3 444.0 801.0 441.3 800.0 448.0 C799.0 454.7 798.0 451.3 796.0 458.0 C794.0 464.7 793.3 462.0 794.0 468.0 C794.7 474.0 794.0 472.0 798.0 476.0 C802.0 480.0 801.3 476.0 806.0 480.0 C810.7 484.0 808.7 482.7 812.0 488.0 C815.3 493.3 812.7 491.3 816.0 496.0 C819.3 500.7 816.7 499.7 822.0 502.0 C827.3 504.3 825.3 503.3 832.0 503.0 C838.7 502.7 836.3 500.0 842.0 501.0 C847.7 502.0 845.3 501.7 849.0 506.0 C852.7 510.3 852.3 508.0 853.0 514.0 C853.7 520.0 854.0 518.3 851.0 524.0 C848.0 529.7 849.7 527.0 844.0 531.0 C838.3 535.0 841.3 534.0 834.0 536.0 C826.7 538.0 829.3 538.3 822.0 537.0 C814.7 535.7 818.0 536.3 812.0 532.0 C806.0 527.7 808.7 528.0 804.0 524.0 C799.3 520.0 801.3 524.0 798.0 520.0 C794.7 516.0 796.7 518.0 794.0 512.0 C791.3 506.0 792.7 508.0 790.0 502.0 C787.3 496.0 789.3 498.7 786.0 494.0 C782.7 489.3 785.3 491.3 780.0 488.0 C774.7 484.7 776.0 486.7 770.0 484.0 C764.0 481.3 766.0 483.3 762.0 480.0 C758.0 476.7 757.3 477.3 758.0 474.0 C758.7 470.7 763.3 475.3 764.0 470.0Z" fill="#8ADFEE"/>
<path d="M857.0 460.0 C857.3 455.3 856.3 457.3 860.0 455.0 C863.7 452.7 862.0 453.3 868.0 453.0 C874.0 452.7 871.3 454.7 878.0 454.0 C884.7 453.3 881.7 451.3 888.0 451.0 C894.3 450.7 892.0 450.0 897.0 453.0 C902.0 456.0 900.0 454.3 903.0 460.0 C906.0 465.7 905.0 462.0 906.0 470.0 C907.0 478.0 906.7 475.3 906.0 484.0 C905.3 492.7 906.3 489.0 904.0 496.0 C901.7 503.0 902.3 502.3 899.0 505.0 C895.7 507.7 897.7 506.3 894.0 504.0 C890.3 501.7 892.7 502.0 888.0 498.0 C883.3 494.0 885.3 496.0 880.0 492.0 C874.7 488.0 877.3 490.7 872.0 486.0 C866.7 481.3 868.3 483.7 864.0 478.0 C859.7 472.3 861.3 475.0 859.0 469.0 C856.7 463.0 856.7 464.7 857.0 460.0Z" fill="#8ADFEE"/>
<path d="M700.0 496.0 C706.7 488.3 703.7 497.0 712.0 497.0 C720.3 497.0 718.3 495.7 725.0 496.0 C731.7 496.3 727.0 496.3 732.0 498.0 C737.0 499.7 734.7 498.3 740.0 501.0 C745.3 503.7 744.3 502.3 748.0 506.0 C751.7 509.7 749.5 507.3 751.0 512.0 C752.5 516.7 752.7 514.0 752.4 520.0 C752.1 526.0 751.5 523.3 750.0 530.0 C748.5 536.7 751.3 534.7 748.0 540.0 C744.7 545.3 745.3 543.7 740.0 546.0 C734.7 548.3 738.7 546.3 732.0 547.0 C725.3 547.7 728.0 547.3 720.0 548.0 C712.0 548.7 714.7 549.0 708.0 549.0 C701.3 549.0 705.3 557.7 700.0 548.0 C694.7 538.3 692.0 537.3 692.0 520.0 C692.0 502.7 693.3 503.7 700.0 496.0Z" fill="#8ADFEE"/>
<path d="M760.0 530.0 C760.9 526.3 759.7 527.3 763.0 525.0 C766.3 522.7 765.0 522.7 770.0 523.0 C775.0 523.3 774.3 523.0 778.0 526.0 C781.7 529.0 780.7 528.0 781.0 532.0 C781.3 536.0 782.0 535.0 779.0 538.0 C776.0 541.0 777.0 540.3 772.0 541.0 C767.0 541.7 767.9 541.7 764.0 540.0 C760.1 538.3 761.7 539.3 760.4 536.0 C759.1 532.7 759.1 533.7 760.0 530.0Z" fill="#8ADFEE"/>
<path d="M718.0 574.0 C718.7 570.7 716.7 570.7 720.0 572.0 C723.3 573.3 722.0 574.7 728.0 578.0 C734.0 581.3 733.0 578.7 738.0 582.0 C743.0 585.3 741.7 583.3 743.0 588.0 C744.3 592.7 743.7 592.0 742.0 596.0 C740.3 600.0 740.0 596.7 738.0 600.0 C736.0 603.3 735.3 602.3 736.0 606.0 C736.7 609.7 736.0 609.7 740.0 611.0 C744.0 612.3 742.0 610.7 748.0 610.0 C754.0 609.3 752.7 608.3 758.0 609.0 C763.3 609.7 762.3 609.0 764.0 612.0 C765.7 615.0 766.3 615.3 763.0 618.0 C759.7 620.7 760.3 619.0 754.0 620.0 C747.7 621.0 750.7 621.0 744.0 621.0 C737.3 621.0 739.3 621.7 734.0 620.0 C728.7 618.3 731.0 620.7 728.0 616.0 C725.0 611.3 727.3 613.3 725.0 606.0 C722.7 598.7 723.3 602.0 721.0 594.0 C718.7 586.0 719.0 588.7 718.0 582.0 C717.0 575.3 717.3 577.3 718.0 574.0Z" fill="#8ADFEE"/>
<path d="M734.0 558.0 C734.7 554.7 734.0 555.3 738.0 553.0 C742.0 550.7 742.0 550.0 746.0 551.0 C750.0 552.0 748.0 552.3 750.0 556.0 C752.0 559.7 748.7 559.7 752.0 562.0 C755.3 564.3 754.7 563.3 760.0 563.0 C765.3 562.7 764.0 563.0 768.0 561.0 C772.0 559.0 768.0 557.3 772.0 557.0 C776.0 556.7 774.7 557.0 780.0 560.0 C785.3 563.0 785.0 562.0 788.0 566.0 C791.0 570.0 790.7 569.0 789.0 572.0 C787.3 575.0 788.0 575.0 783.0 575.0 C778.0 575.0 779.7 573.7 774.0 572.0 C768.3 570.3 771.3 570.3 766.0 570.0 C760.7 569.7 763.3 571.0 758.0 571.0 C752.7 571.0 755.3 571.3 750.0 570.0 C744.7 568.7 746.7 569.3 742.0 567.0 C737.3 564.7 738.7 566.0 736.0 563.0 C733.3 560.0 733.3 561.3 734.0 558.0Z" fill="#8ADFEE"/>
<path d="M760.0 534.0 C759.7 530.0 759.7 531.2 763.0 528.0 C766.3 524.8 765.0 524.7 770.0 524.4 C775.0 524.1 774.1 523.8 778.0 527.0 C781.9 530.2 781.3 529.7 781.6 534.0 C781.9 538.3 782.5 537.2 779.0 540.0 C775.5 542.8 776.0 542.4 771.0 542.4 C766.0 542.4 767.7 542.8 764.0 540.0 C760.3 537.2 760.3 538.0 760.0 534.0Z" fill="#8ADFEE"/>
<path d="M933.8 418.8 C933.8 413.3 932.9 414.6 936.2 411.2 C939.6 407.9 938.8 408.3 943.8 408.8 C948.8 409.2 948.2 408.3 951.2 412.5 C954.3 416.7 953.4 415.8 953.0 421.2 C952.6 426.7 953.5 425.4 950.0 428.8 C946.5 432.1 947.1 431.7 942.5 431.2 C937.9 430.8 939.2 431.7 936.2 427.5 C933.3 423.3 933.8 424.2 933.8 418.8Z" fill="#8ADFEE"/>
<path d="M823.0 468.0 C823.7 463.5 823.3 463.9 826.0 462.4 C828.7 460.9 827.7 461.1 831.0 463.6 C834.3 466.1 833.3 464.5 836.0 470.0 C838.7 475.5 838.7 474.0 839.0 480.0 C839.3 486.0 839.7 484.7 837.0 488.0 C834.3 491.3 834.7 491.3 831.0 490.0 C827.3 488.7 828.3 488.7 826.0 484.0 C823.7 479.3 825.0 481.3 824.0 476.0 C823.0 470.7 822.3 472.5 823.0 468.0Z" fill="#78B4E6"/>
<path d="M794.0 504.0 C794.7 500.3 794.3 500.3 797.0 498.0 C799.7 495.7 798.7 495.7 802.0 497.0 C805.3 498.3 804.3 497.7 807.0 502.0 C809.7 506.3 809.3 505.3 810.0 510.0 C810.7 514.7 811.0 513.3 809.0 516.0 C807.0 518.7 807.3 518.7 804.0 518.0 C800.7 517.3 802.0 517.0 799.0 514.0 C796.0 511.0 796.7 512.3 795.0 509.0 C793.3 505.7 793.3 507.7 794.0 504.0Z" fill="#78B4E6"/>
<path d="M776.0 430.0 C776.3 424.3 776.0 425.7 779.0 420.0 C782.0 414.3 781.0 415.0 785.0 413.0 C789.0 411.0 788.0 411.0 791.0 414.0 C794.0 417.0 793.0 416.0 794.0 422.0 C795.0 428.0 795.3 426.3 794.0 432.0 C792.7 437.7 793.7 436.0 790.0 439.0 C786.3 442.0 787.0 441.7 783.0 441.0 C779.0 440.3 780.3 440.7 778.0 437.0 C775.7 433.3 775.7 435.7 776.0 430.0Z" fill="#78B4E6"/>
<path d="M882.0 480.0 C882.3 476.7 882.0 477.7 885.0 476.0 C888.0 474.3 887.0 474.0 891.0 475.0 C895.0 476.0 894.0 475.3 897.0 479.0 C900.0 482.7 899.3 481.3 900.0 486.0 C900.7 490.7 901.0 490.0 899.0 493.0 C897.0 496.0 897.7 495.7 894.0 495.0 C890.3 494.3 891.3 494.0 888.0 491.0 C884.7 488.0 886.0 489.7 884.0 486.0 C882.0 482.3 881.7 483.3 882.0 480.0Z" fill="#78B4E6"/>
<path d="M717.0 520.0 C717.0 513.3 716.7 516.0 719.0 512.0 C721.3 508.0 720.3 508.0 724.0 508.0 C727.7 508.0 727.0 507.3 730.0 512.0 C733.0 516.7 731.8 515.3 733.0 522.0 C734.2 528.7 734.6 526.7 733.6 532.0 C732.6 537.3 733.5 536.0 730.0 538.0 C726.5 540.0 726.7 540.0 723.0 538.0 C719.3 536.0 721.0 538.0 719.0 532.0 C717.0 526.0 717.0 526.7 717.0 520.0Z" fill="#78B4E6"/>
<path d="M732.0 592.0 C732.2 590.0 732.3 589.9 733.6 589.6 C734.9 589.3 735.3 589.2 736.0 591.0 C736.7 592.8 736.6 593.5 735.6 595.0 C734.6 596.5 734.2 596.6 733.0 595.6 C731.8 594.6 731.8 594.0 732.0 592.0Z" fill="#78B4E6"/>
<path d="M938.8 420.0 C938.5 417.5 938.8 417.2 940.5 416.2 C942.2 415.2 942.4 415.1 943.8 417.0 C945.1 418.9 945.3 419.8 944.5 422.0 C943.7 424.2 943.2 424.4 941.2 423.8 C939.3 423.1 939.0 422.5 938.8 420.0Z" fill="#78B4E6"/>
<path d="M503.8 705.0 L507.5 695.0 L512.5 682.5 L515.0 670.0 L517.5 660.0 L522.5 660.0 L523.8 670.0 L532.5 680.0 L542.5 690.0 L555.0 697.5 L570.0 700.0 L582.5 696.2 L592.5 690.0 L597.5 680.0 L592.5 665.0 L585.0 652.5 L582.5 640.0 L586.2 625.0 L592.5 616.2 L605.0 615.0 L620.0 616.2 L637.5 616.2 L645.0 620.0 L647.5 632.5 L646.2 645.0 L651.2 653.8 L662.5 651.2 L667.5 642.5 L667.5 627.5 L670.0 615.0 L676.2 607.5 L680.0 604.0 L688.0 601.0 L700.0 608.0 L712.0 600.0 L718.0 608.0 L720.0 618.0 L728.0 624.0 L740.0 628.0 L748.0 634.0 L760.0 640.0 L769.0 643.0 L772.0 632.0 L769.0 620.0 L768.0 612.0 L764.0 607.0 L756.0 608.0 L744.0 610.0 L738.0 608.0 L740.0 600.0 L748.0 594.0 L758.0 588.0 L768.0 584.0 L772.0 578.0 L780.0 575.0 L787.0 577.0 L790.0 584.0 L795.0 592.0 L800.0 599.0 L804.0 600.0 L803.0 590.0 L798.0 580.0 L792.0 572.0 L788.0 566.0 L792.0 562.0 L800.0 558.0 L810.0 554.0 L820.0 550.0 L830.0 547.0 L840.0 546.0 L852.0 544.0 L860.0 540.0 L856.0 532.0 L860.0 526.0 L868.0 522.0 L878.0 519.0 L888.0 518.0 L898.0 516.0 L908.0 515.0 L916.0 512.0 L924.0 506.0 L930.0 500.0 L922.0 494.0 L915.0 488.0 L914.0 480.0 L920.0 474.0 L930.0 470.0 L938.0 464.0 L943.0 456.0 L960.0 455.0 L1000.0 452.0 L1070.0 455.0 L1070.0 600.0 L1150.0 700.0 L1050.0 950.0 L800.0 1060.0 L600.0 950.0 L480.0 930.0 L440.0 800.0 L470.0 740.0Z" fill="#FAF1BC"/>
<path d="M158.0 274.0 C160.0 268.7 158.0 268.7 166.0 264.0 C174.0 259.3 172.0 261.3 182.0 260.0 C192.0 258.7 191.3 258.0 196.0 260.0 C200.7 262.0 199.3 261.3 196.0 266.0 C192.7 270.7 194.7 269.3 186.0 274.0 C177.3 278.7 178.7 278.0 170.0 280.0 C161.3 282.0 164.0 282.0 160.0 280.0 C156.0 278.0 156.0 279.3 158.0 274.0Z" fill="#FAF1BC"/>
<path d="M168.0 334.0 C170.7 327.3 170.7 327.6 178.0 324.0 C185.3 320.4 183.6 320.5 190.0 323.2 C196.4 325.9 196.5 325.7 197.2 332.0 C197.9 338.3 197.7 336.7 192.0 342.0 C186.3 347.3 187.3 347.3 180.0 348.0 C172.7 348.7 174.0 348.7 170.0 344.0 C166.0 339.3 165.3 340.7 168.0 334.0Z" fill="#FAF1BC"/>
<path d="M287.2 260.0 C288.1 255.6 287.7 255.3 292.0 254.0 C296.3 252.7 296.7 252.9 300.0 256.0 C303.3 259.1 303.3 258.9 302.0 263.2 C300.7 267.5 300.3 267.5 296.0 268.8 C291.7 270.1 292.1 270.1 289.2 267.2 C286.3 264.3 286.3 264.4 287.2 260.0Z" fill="#FAF1BC"/>
<path d="M355.2 319.2 C355.7 315.5 356.5 315.9 358.8 316.8 C361.1 317.7 361.2 318.3 362.0 322.0 C362.8 325.7 362.8 326.0 361.2 328.0 C359.6 330.0 359.2 330.9 357.2 328.0 C355.2 325.1 354.7 322.9 355.2 319.2Z" fill="#FAF1BC"/>
<path d="M403.8 146.2 C403.8 143.0 403.3 143.7 406.2 142.0 C409.2 140.3 409.4 140.2 412.5 141.2 C415.6 142.2 415.9 142.1 415.5 145.0 C415.1 147.9 414.3 147.8 411.2 150.0 C408.2 152.2 408.8 153.0 406.2 151.8 C403.8 150.5 403.8 149.5 403.8 146.2Z" fill="#FAF1BC"/>
<path d="M442.0 185.0 C442.5 182.1 442.0 182.2 444.5 181.2 C447.0 180.2 447.4 179.9 449.5 182.0 C451.6 184.1 451.6 184.4 450.8 187.5 C449.9 190.6 449.6 190.4 447.0 191.2 C444.4 192.1 444.7 192.1 443.0 190.0 C441.3 187.9 441.5 187.9 442.0 185.0Z" fill="#FAF1BC"/>
<path d="M478.0 308.8 C478.8 305.8 476.8 307.8 482.5 305.5 C488.2 303.2 487.5 304.2 495.0 302.0 C502.5 299.8 499.6 301.9 505.0 298.8 C510.4 295.6 507.9 296.7 511.2 292.5 C514.6 288.3 512.1 289.2 515.0 286.2 C517.9 283.3 516.7 282.5 520.0 283.8 C523.3 285.0 523.8 285.4 525.0 290.0 C526.2 294.6 527.1 292.9 523.8 297.5 C520.4 302.1 522.1 300.4 515.0 303.8 C507.9 307.1 510.8 304.6 502.5 307.5 C494.2 310.4 497.5 310.2 490.0 312.5 C482.5 314.8 484.0 315.8 480.0 314.5 C476.0 313.2 477.2 311.8 478.0 308.8Z" fill="#FAF1BC"/>
<path d="M535.0 350.0 C535.0 345.6 534.5 345.4 537.0 341.2 C539.5 337.1 539.2 337.5 542.5 337.5 C545.8 337.5 546.0 337.1 547.0 341.2 C548.0 345.4 547.4 345.4 545.5 350.0 C543.6 354.6 544.1 353.5 541.2 355.0 C538.4 356.5 539.1 356.2 537.0 354.5 C534.9 352.8 535.0 354.4 535.0 350.0Z" fill="#FAF1BC"/>
<path d="M440.8 606.2 C440.8 602.9 441.1 603.2 443.8 602.0 C446.4 600.8 446.2 600.7 448.8 602.5 C451.2 604.3 451.2 604.2 451.2 607.5 C451.2 610.8 451.2 611.0 448.8 612.5 C446.2 614.0 446.4 614.1 443.8 612.0 C441.1 609.9 440.8 609.6 440.8 606.2Z" fill="#FAF1BC"/>
<path d="M508.8 580.0 C508.8 577.8 508.8 577.7 510.0 577.0 C511.2 576.3 511.7 576.3 512.5 578.0 C513.3 579.7 513.3 580.1 512.5 582.0 C511.7 583.9 511.2 584.4 510.0 583.8 C508.8 583.1 508.8 582.2 508.8 580.0Z" fill="#FAF1BC"/>
<path d="M1075.0 178.8 C1075.0 175.8 1074.6 175.8 1076.2 173.8 C1077.9 171.7 1077.2 171.2 1080.0 172.5 C1082.8 173.8 1082.2 173.3 1084.5 177.5 C1086.8 181.7 1086.8 181.2 1087.0 185.0 C1087.2 188.8 1087.3 188.3 1085.0 188.8 C1082.7 189.2 1082.9 188.3 1080.0 186.2 C1077.1 184.2 1077.9 185.0 1076.2 182.5 C1074.6 180.0 1075.0 181.7 1075.0 178.8Z" fill="#FAF1BC"/>
<path d="M1077.0 293.8 C1077.2 288.8 1077.0 289.2 1079.5 286.2 C1082.0 283.3 1081.2 283.3 1084.5 285.0 C1087.8 286.7 1086.2 285.8 1089.5 291.2 C1092.8 296.7 1092.2 295.4 1094.5 301.2 C1096.8 307.1 1097.3 305.4 1096.2 308.8 C1095.2 312.1 1095.4 311.7 1091.2 311.2 C1087.1 310.8 1087.9 310.8 1083.8 307.5 C1079.6 304.2 1081.0 305.8 1078.8 301.2 C1076.5 296.7 1076.8 298.8 1077.0 293.8Z" fill="#FAF1BC"/>
<path d="M1071.2 340.0 C1071.7 335.8 1071.2 336.2 1073.8 333.8 C1076.2 331.2 1075.7 331.2 1078.8 332.5 C1081.8 333.8 1081.9 333.3 1083.0 337.5 C1084.1 341.7 1083.8 341.2 1082.0 345.0 C1080.2 348.8 1080.7 348.3 1077.5 348.8 C1074.3 349.2 1074.6 349.2 1072.5 346.2 C1070.4 343.3 1070.8 344.2 1071.2 340.0Z" fill="#FAF1BC"/>
<path d="M863.8 387.5 C864.6 382.9 863.8 383.8 867.5 381.2 C871.2 378.8 870.4 378.8 875.0 380.0 C879.6 381.2 877.9 380.0 881.2 385.0 C884.6 390.0 882.1 389.2 885.0 395.0 C887.9 400.8 887.9 396.7 890.0 402.5 C892.1 408.3 892.1 405.8 891.2 412.5 C890.4 419.2 891.2 417.1 887.5 422.5 C883.8 427.9 884.6 427.1 880.0 428.8 C875.4 430.4 877.1 431.2 873.8 427.5 C870.4 423.8 872.1 425.0 870.0 417.5 C867.9 410.0 869.2 412.5 867.5 405.0 C865.8 397.5 866.2 400.8 865.0 395.0 C863.8 389.2 862.9 392.1 863.8 387.5Z" fill="#FAF1BC"/>
<path d="M910.0 405.0 C910.8 397.5 910.0 401.2 913.8 395.0 C917.5 388.8 915.8 390.8 921.2 386.2 C926.7 381.7 924.2 382.5 930.0 381.2 C935.8 380.0 934.6 379.6 938.8 382.5 C942.9 385.4 941.7 383.3 942.5 390.0 C943.3 396.7 943.8 395.0 941.2 402.5 C938.8 410.0 938.8 406.7 935.0 412.5 C931.2 418.3 933.3 414.2 930.0 420.0 C926.7 425.8 928.3 423.3 925.0 430.0 C921.7 436.7 924.2 435.0 920.0 440.0 C915.8 445.0 917.1 444.6 912.5 445.0 C907.9 445.4 907.9 446.2 906.2 441.2 C904.6 436.2 905.8 437.9 907.5 430.0 C909.2 422.1 910.4 425.8 911.2 417.5 C912.1 409.2 909.2 412.5 910.0 405.0Z" fill="#FAF1BC"/>
<path d="M833.8 420.0 C833.9 414.2 833.8 416.2 837.5 413.8 C841.2 411.2 840.0 411.2 845.0 412.5 C850.0 413.8 849.2 412.9 852.5 417.5 C855.8 422.1 855.4 420.8 855.0 426.2 C854.6 431.7 855.0 430.7 851.2 433.8 C847.5 436.8 848.5 436.3 843.8 435.5 C839.0 434.7 840.3 436.4 837.0 431.2 C833.7 426.1 833.6 425.8 833.8 420.0Z" fill="#FAF1BC"/>
<path d="M960.5 407.5 C961.1 403.3 960.6 404.2 963.8 402.5 C966.9 400.8 967.1 401.2 970.0 402.5 C972.9 403.8 973.3 402.9 972.5 406.2 C971.7 409.6 971.0 409.6 967.5 412.5 C964.0 415.4 964.3 416.7 962.0 415.0 C959.7 413.3 959.9 411.7 960.5 407.5Z" fill="#FAF1BC"/>
<path d="M764.0 508.0 C764.0 504.3 763.7 504.3 766.0 503.0 C768.3 501.7 768.0 502.0 771.0 504.0 C774.0 506.0 771.3 505.7 775.0 509.0 C778.7 512.3 777.0 511.0 782.0 514.0 C787.0 517.0 785.3 515.3 790.0 518.0 C794.7 520.7 793.3 518.7 796.0 522.0 C798.7 525.3 798.7 525.7 798.0 528.0 C797.3 530.3 797.3 530.0 794.0 529.0 C790.7 528.0 792.7 527.7 788.0 525.0 C783.3 522.3 785.3 523.3 780.0 521.0 C774.7 518.7 776.7 520.3 772.0 518.0 C767.3 515.7 768.7 517.3 766.0 514.0 C763.3 510.7 764.0 511.7 764.0 508.0Z" fill="#FAF1BC"/>
<path d="M833.6 452.4 C834.4 450.9 834.5 450.7 836.0 451.6 C837.5 452.5 838.0 453.0 838.0 455.0 C838.0 457.0 837.5 457.3 836.0 457.6 C834.5 457.9 834.4 457.7 833.6 456.0 C832.8 454.3 832.8 453.9 833.6 452.4Z" fill="#FAF1BC"/>
<path d="M978.8 490.0 C979.6 480.0 978.8 483.3 982.5 475.0 C986.2 466.7 984.2 470.0 990.0 465.0 C995.8 460.0 995.0 460.0 1000.0 460.0 C1005.0 460.0 1002.9 458.3 1005.0 465.0 C1007.1 471.7 1006.2 470.0 1006.2 480.0 C1006.2 490.0 1007.1 485.8 1005.0 495.0 C1002.9 504.2 1003.8 500.4 1000.0 507.5 C996.2 514.6 997.9 511.7 993.8 516.2 C989.6 520.8 991.2 520.8 987.5 521.2 C983.8 521.7 985.0 522.9 982.5 517.5 C980.0 512.1 981.2 514.2 980.0 505.0 C978.8 495.8 977.9 500.0 978.8 490.0Z" fill="#D2F7F0"/>
<path d="M1035.0 465.0 C1035.8 460.6 1037.3 460.5 1040.0 463.0 C1042.7 465.5 1043.8 468.1 1043.0 472.5 C1042.2 476.9 1040.2 478.8 1037.5 476.2 C1034.8 473.8 1034.2 469.4 1035.0 465.0Z" fill="#D2F7F0"/>
<path d="M862.0 544.0 C863.3 536.0 862.0 540.7 866.0 536.0 C870.0 531.3 868.0 532.7 874.0 530.0 C880.0 527.3 878.0 531.3 884.0 528.0 C890.0 524.7 886.7 523.3 892.0 520.0 C897.3 516.7 894.7 518.0 900.0 518.0 C905.3 518.0 902.7 516.7 908.0 520.0 C913.3 523.3 912.0 521.3 916.0 528.0 C920.0 534.7 919.3 532.7 920.0 540.0 C920.7 547.3 921.3 544.7 918.0 550.0 C914.7 555.3 916.0 553.7 910.0 556.0 C904.0 558.3 906.7 557.7 900.0 557.0 C893.3 556.3 895.3 557.0 890.0 554.0 C884.7 551.0 887.3 552.7 884.0 548.0 C880.7 543.3 882.7 541.3 880.0 540.0 C877.3 538.7 879.3 540.0 876.0 544.0 C872.7 548.0 872.7 545.3 870.0 552.0 C867.3 558.7 868.7 556.0 868.0 564.0 C867.3 572.0 868.7 570.7 868.0 576.0 C867.3 581.3 867.7 580.7 866.0 580.0 C864.3 579.3 864.3 580.7 863.0 574.0 C861.7 567.3 862.3 570.0 862.0 560.0 C861.7 550.0 860.7 552.0 862.0 544.0Z" fill="#D2F7F0"/>
<path d="M485.0 725.0 C484.2 719.2 485.0 720.0 490.0 715.0 C495.0 710.0 492.5 710.8 500.0 710.0 C507.5 709.2 505.8 712.9 512.5 712.5 C519.2 712.1 514.2 710.4 520.0 708.8 C525.8 707.1 522.5 707.1 530.0 707.5 C537.5 707.9 533.3 709.2 542.5 710.0 C551.7 710.8 549.2 708.3 557.5 710.0 C565.8 711.7 563.3 710.0 567.5 715.0 C571.7 720.0 570.8 718.3 570.0 725.0 C569.2 731.7 568.3 729.2 565.0 735.0 C561.7 740.8 563.3 736.7 560.0 742.5 C556.7 748.3 555.4 745.8 555.0 752.5 C554.6 759.2 558.8 756.7 558.8 762.5 C558.8 768.3 560.4 767.9 555.0 770.0 C549.6 772.1 550.8 770.4 542.5 768.8 C534.2 767.1 537.1 768.8 530.0 765.0 C522.9 761.2 524.6 763.3 521.2 757.5 C517.9 751.7 522.1 754.2 520.0 747.5 C517.9 740.8 520.0 742.1 515.0 737.5 C510.0 732.9 510.8 733.8 505.0 733.8 C499.2 733.8 501.7 737.9 497.5 737.5 C493.3 737.1 496.7 736.7 492.5 732.5 C488.3 728.3 485.8 730.8 485.0 725.0Z" fill="#D2F7F0"/>
<path d="M991.2 485.0 C993.3 478.3 992.5 479.2 996.2 475.0 C1000.0 470.8 999.6 470.0 1002.5 472.5 C1005.4 475.0 1004.6 474.2 1005.0 482.5 C1005.4 490.8 1005.8 489.6 1003.8 497.5 C1001.7 505.4 1002.1 501.7 998.8 506.2 C995.4 510.8 996.7 511.7 993.8 511.2 C990.8 510.8 991.2 510.4 990.0 505.0 C988.8 499.6 989.6 501.7 990.0 495.0 C990.4 488.3 989.2 491.7 991.2 485.0Z" fill="#8ADFEE"/>
<path d="M892.0 543.0 C892.3 539.7 892.0 540.3 895.0 538.0 C898.0 535.7 897.0 536.0 901.0 536.0 C905.0 536.0 904.1 535.7 907.0 538.0 C909.9 540.3 909.6 539.7 909.6 543.0 C909.6 546.3 910.2 545.8 907.0 548.0 C903.8 550.2 904.3 549.6 900.0 549.6 C895.7 549.6 896.7 550.2 894.0 548.0 C891.3 545.8 891.7 546.3 892.0 543.0Z" fill="#8ADFEE"/>
<path d="M508.8 725.0 C510.4 722.5 510.8 723.5 516.2 722.5 C521.7 721.5 520.0 721.3 525.0 722.0 C530.0 722.7 528.6 721.8 531.2 724.5 C533.9 727.2 534.2 726.7 533.0 730.0 C531.8 733.3 532.2 733.2 527.5 734.5 C522.8 735.8 524.2 735.2 518.8 733.8 C513.3 732.2 514.6 732.9 511.2 730.0 C507.9 727.1 507.1 727.5 508.8 725.0Z" fill="#8ADFEE"/>
<path d="M1087.5 795.0 L1095.0 797.5 L1098.8 807.5 L1097.5 825.0 L1095.0 845.0 L1092.5 865.0 L1087.5 877.5 L1085.0 892.5 L1080.0 883.8 L1070.0 878.8 L1065.0 867.5 L1058.8 847.5 L1062.5 835.0 L1068.8 820.0 L1075.0 805.0 L1082.5 797.5Z" fill="#FCE882"/>
<path d="M1055.0 606.2 L1046.2 605.0 L1042.5 610.0 L1037.5 622.5 L1030.0 623.8 L1022.5 621.2 L1015.0 623.8 L1007.5 627.5 L1001.2 631.2 L1005.0 637.5 L1007.5 645.0 L1006.2 655.0 L1001.2 662.5 L995.0 670.0 L992.5 677.5 L987.5 681.2 L980.0 680.0 L975.0 683.8 L970.0 687.5 L965.0 685.0 L957.5 687.5 L952.5 692.5 L948.8 700.0 L946.2 707.5 L943.8 702.5 L940.0 695.0 L933.8 691.2 L925.0 687.5 L917.5 682.5 L910.0 681.2 L903.8 686.2 L902.5 692.5 L907.5 697.5 L902.5 702.5 L895.0 707.5 L887.5 712.5 L880.0 722.5 L877.5 735.0 L875.0 745.0 L872.5 755.0 L875.0 765.0 L880.0 775.0 L885.0 785.0 L887.5 797.5 L892.5 807.5 L887.5 815.0 L877.5 817.5 L865.0 820.0 L855.0 822.5 L842.5 820.0 L830.0 815.0 L820.0 812.5 L810.0 815.0 L800.0 822.5 L787.5 825.0 L775.0 822.5 L762.5 820.0 L752.5 817.5 L742.5 815.0 L730.0 813.8 L715.0 811.2 L700.0 810.0 L710.0 817.5 L717.5 830.0 L721.2 845.0 L720.0 862.5 L715.0 877.5 L705.0 887.5 L695.0 893.8 L690.0 898.8 L665.0 905.0 L645.0 882.5 L644.0 876.0 L656.0 856.0 L660.0 840.0 L648.0 824.0 L635.0 810.0 L624.0 800.0 L616.2 791.2 L608.0 784.0 L600.0 790.0 L592.5 787.5 L580.0 786.2 L575.0 782.5 L576.2 772.5 L572.5 762.5 L565.0 760.0 L558.8 765.0 L560.0 777.5 L562.5 787.5 L555.0 783.8 L542.5 781.2 L530.0 780.0 L520.0 782.5 L510.0 786.2 L500.0 787.5 L490.0 783.8 L480.0 780.0 L440.0 800.0 L440.0 900.0 L480.0 930.0 L600.0 950.0 L800.0 1060.0 L1050.0 950.0 L1150.0 700.0 L1100.0 620.0Z" fill="#FCE882"/>
<path d="M1080.0 296.2 C1079.4 291.8 1079.9 292.2 1082.0 290.5 C1084.1 288.8 1083.6 288.9 1086.2 291.2 C1088.9 293.6 1087.9 292.9 1090.0 297.5 C1092.1 302.1 1092.9 301.7 1092.5 305.0 C1092.1 308.3 1091.7 307.9 1088.8 307.5 C1085.8 307.1 1086.7 307.5 1083.8 303.8 C1080.8 300.0 1080.6 300.7 1080.0 296.2Z" fill="#FCE882"/>
<path d="M867.5 390.0 C867.9 387.1 867.7 386.8 870.0 385.5 C872.3 384.2 872.4 384.3 874.5 386.2 C876.6 388.2 876.8 388.3 876.2 391.2 C875.8 394.2 875.5 394.0 873.0 395.0 C870.5 396.0 870.6 395.9 868.8 394.2 C866.9 392.6 867.1 392.9 867.5 390.0Z" fill="#FCE882"/>
<path d="M842.0 421.2 C842.7 419.1 843.0 418.2 845.0 418.0 C847.0 417.8 847.3 418.3 848.0 420.5 C848.7 422.7 848.7 423.2 847.0 424.5 C845.3 425.8 844.7 425.6 843.0 424.5 C841.3 423.4 841.3 423.4 842.0 421.2Z" fill="#FCE882"/>
<path d="M942.5 642.5 C942.1 632.1 941.7 633.3 943.8 625.0 C945.8 616.7 944.2 620.4 948.8 617.5 C953.3 614.6 952.5 614.6 957.5 616.2 C962.5 617.9 962.9 617.1 963.8 622.5 C964.6 627.9 962.9 625.8 960.0 632.5 C957.1 639.2 957.9 635.8 955.0 642.5 C952.1 649.2 954.6 647.9 951.2 652.5 C947.9 657.1 947.9 659.6 945.0 656.2 C942.1 652.9 942.9 652.9 942.5 642.5Z" fill="#FCE882"/>
<path d="M925.0 592.5 C925.8 588.3 926.7 589.6 932.5 588.8 C938.3 587.9 935.8 588.3 942.5 590.0 C949.2 591.7 948.5 590.4 952.5 593.8 C956.5 597.1 956.2 596.2 954.5 600.0 C952.8 603.8 953.2 603.2 947.5 605.0 C941.8 606.8 943.3 606.8 937.5 605.5 C931.7 604.2 934.2 605.6 930.0 601.2 C925.8 596.9 924.2 596.7 925.0 592.5Z" fill="#FCE882"/>
<path d="M968.8 593.8 C969.8 590.9 969.4 590.3 972.5 589.5 C975.6 588.7 975.9 588.8 978.0 591.2 C980.1 593.8 980.2 594.1 978.8 597.0 C977.3 599.9 976.8 599.7 973.8 600.0 C970.7 600.3 971.2 600.1 969.5 598.0 C967.8 595.9 967.8 596.6 968.8 593.8Z" fill="#FCE882"/>
<path d="M830.0 632.5 C830.8 628.8 831.7 628.8 840.0 626.2 C848.3 623.8 845.8 623.8 855.0 625.0 C864.2 626.2 861.0 624.2 867.5 630.0 C874.0 635.8 872.8 634.6 874.5 642.5 C876.2 650.4 875.7 647.5 872.5 653.8 C869.3 660.0 870.8 658.3 865.0 661.2 C859.2 664.2 860.0 664.6 855.0 662.5 C850.0 660.4 850.8 660.8 850.0 655.0 C849.2 649.2 853.3 650.8 852.5 645.0 C851.7 639.2 852.5 640.0 847.5 637.5 C842.5 635.0 843.3 639.2 837.5 637.5 C831.7 635.8 829.2 636.2 830.0 632.5Z" fill="#FCE882"/>
<path d="M807.5 707.5 C807.5 702.9 806.7 704.2 810.0 700.0 C813.3 695.8 811.7 696.2 817.5 695.0 C823.3 693.8 821.7 694.6 827.5 696.2 C833.3 697.9 834.2 697.1 835.0 700.0 C835.8 702.9 834.2 702.5 830.0 705.0 C825.8 707.5 824.2 704.2 822.5 707.5 C820.8 710.8 825.0 710.8 825.0 715.0 C825.0 719.2 825.8 719.2 822.5 720.0 C819.2 720.8 819.2 719.6 815.0 717.5 C810.8 715.4 812.5 717.1 810.0 713.8 C807.5 710.4 807.5 712.1 807.5 707.5Z" fill="#FCE882"/>
<path d="M725.0 675.0 C725.8 670.8 726.7 672.1 732.5 667.5 C738.3 662.9 735.0 664.2 742.5 661.2 C750.0 658.3 747.5 659.2 755.0 658.8 C762.5 658.3 760.0 657.1 765.0 660.0 C770.0 662.9 770.0 662.5 770.0 667.5 C770.0 672.5 767.5 669.2 765.0 675.0 C762.5 680.8 765.8 682.5 762.5 685.0 C759.2 687.5 760.0 685.8 755.0 682.5 C750.0 679.2 753.3 677.5 747.5 675.0 C741.7 672.5 743.3 673.3 737.5 675.0 C731.7 676.7 734.2 680.0 730.0 680.0 C725.8 680.0 724.2 679.2 725.0 675.0Z" fill="#FCE882"/>
<path d="M765.0 760.0 C764.2 752.9 763.3 755.2 767.5 750.0 C771.7 744.8 770.0 746.6 777.5 744.5 C785.0 742.4 783.3 741.9 790.0 743.8 C796.7 745.6 795.4 743.8 797.5 750.0 C799.6 756.2 798.8 755.0 796.2 762.5 C793.8 770.0 795.4 768.3 790.0 772.5 C784.6 776.7 786.7 775.4 780.0 775.0 C773.3 774.6 775.0 776.2 770.0 771.2 C765.0 766.2 765.8 767.1 765.0 760.0Z" fill="#FCE882"/>
<path d="M723.8 750.0 C723.8 743.8 722.9 744.6 727.5 741.2 C732.1 737.9 730.8 739.2 737.5 740.0 C744.2 740.8 741.7 740.4 747.5 743.8 C753.3 747.1 750.8 744.6 755.0 750.0 C759.2 755.4 756.7 753.3 760.0 760.0 C763.3 766.7 763.8 763.3 765.0 770.0 C766.2 776.7 766.2 775.4 763.8 780.0 C761.2 784.6 762.1 785.4 757.5 783.8 C752.9 782.1 755.0 781.2 750.0 775.0 C745.0 768.8 747.5 770.0 742.5 765.0 C737.5 760.0 740.0 761.7 735.0 760.0 C730.0 758.3 731.2 763.3 727.5 760.0 C723.8 756.7 723.8 756.2 723.8 750.0Z" fill="#FCE882"/>
<path d="M833.8 760.0 C833.8 756.2 832.5 757.5 836.2 752.5 C840.0 747.5 838.8 749.6 845.0 745.0 C851.2 740.4 850.0 740.0 855.0 738.8 C860.0 737.5 860.0 738.3 860.0 741.2 C860.0 744.2 859.2 743.3 855.0 747.5 C850.8 751.7 852.1 749.2 847.5 753.8 C842.9 758.3 845.0 757.9 841.2 761.2 C837.5 764.6 838.8 764.2 836.2 763.8 C833.8 763.3 833.8 763.8 833.8 760.0Z" fill="#FCE882"/>
<path d="M811.2 686.2 C813.3 683.1 813.8 683.1 820.0 680.0 C826.2 676.9 824.6 677.4 830.0 677.0 C835.4 676.6 836.2 676.5 836.2 678.8 C836.2 681.0 835.0 680.8 830.0 683.8 C825.0 686.7 826.7 685.6 821.2 687.5 C815.8 689.4 817.1 689.9 813.8 689.5 C810.4 689.1 809.2 689.4 811.2 686.2Z" fill="#FCE882"/>
<path d="M577.5 765.0 C577.1 752.9 577.5 760.0 578.8 750.0 C580.0 740.0 579.2 743.3 581.2 735.0 C583.3 726.7 581.7 728.8 585.0 725.0 C588.3 721.2 587.9 721.2 591.2 723.8 C594.6 726.2 594.2 724.6 595.0 732.5 C595.8 740.4 595.0 737.5 593.8 747.5 C592.5 757.5 592.5 753.3 591.2 762.5 C590.0 771.7 591.2 767.5 590.0 775.0 C588.8 782.5 590.8 781.2 587.5 785.0 C584.2 788.8 583.3 792.9 580.0 786.2 C576.7 779.6 577.9 777.1 577.5 765.0Z" fill="#FCE882"/>
<path d="M498.8 747.5 C499.0 742.5 498.3 743.8 501.2 740.0 C504.2 736.2 502.9 737.1 507.5 736.2 C512.1 735.4 511.0 735.0 515.0 737.5 C519.0 740.0 517.8 738.8 519.5 743.8 C521.2 748.8 521.5 747.5 520.0 752.5 C518.5 757.5 519.6 756.2 515.0 758.8 C510.4 761.2 511.1 761.2 506.2 760.0 C501.4 758.8 503.0 759.2 500.5 755.0 C498.0 750.8 498.5 752.5 498.8 747.5Z" fill="#FCE882"/>
<path d="M597.5 626.2 C598.8 623.8 597.5 622.5 602.5 623.8 C607.5 625.0 605.8 624.6 612.5 630.0 C619.2 635.4 616.7 634.2 622.5 640.0 C628.3 645.8 627.1 642.9 630.0 647.5 C632.9 652.1 632.9 652.1 631.2 653.8 C629.6 655.4 630.4 655.4 625.0 652.5 C619.6 649.6 621.7 650.0 615.0 645.0 C608.3 640.0 610.4 642.1 605.0 637.5 C599.6 632.9 601.2 635.0 598.8 631.2 C596.2 627.5 596.2 628.8 597.5 626.2Z" fill="#FCE882"/>
<path d="M627.5 692.5 C626.7 687.9 627.5 689.6 632.5 693.8 C637.5 697.9 635.0 697.9 642.5 705.0 C650.0 712.1 645.8 710.0 655.0 715.0 C664.2 720.0 660.8 716.7 670.0 720.0 C679.2 723.3 676.2 720.8 682.5 725.0 C688.8 729.2 687.9 728.8 688.8 732.5 C689.6 736.2 690.4 736.7 685.0 736.2 C679.6 735.8 681.7 734.6 672.5 731.2 C663.3 727.9 666.7 730.4 657.5 726.2 C648.3 722.1 652.5 725.0 645.0 718.8 C637.5 712.5 640.8 716.2 635.0 707.5 C629.2 698.8 628.3 697.1 627.5 692.5Z" fill="#FCE882"/>
<path d="M673.0 614.0 C674.2 608.7 672.3 610.0 676.0 606.0 C679.7 602.0 678.7 602.3 684.0 602.0 C689.3 601.7 687.7 601.0 692.0 605.0 C696.3 609.0 695.0 606.3 697.0 614.0 C699.0 621.7 698.7 619.3 698.0 628.0 C697.3 636.7 697.0 632.0 695.0 640.0 C693.0 648.0 693.7 644.0 692.0 652.0 C690.3 660.0 691.3 657.3 690.0 664.0 C688.7 670.7 690.0 669.3 688.0 672.0 C686.0 674.7 686.3 676.0 684.0 672.0 C681.7 668.0 682.7 668.7 681.0 660.0 C679.3 651.3 681.0 655.3 679.0 646.0 C677.0 636.7 677.2 640.0 675.0 632.0 C672.8 624.0 673.1 628.0 672.4 622.0 C671.7 616.0 671.8 619.3 673.0 614.0Z" fill="#FCE882"/>
<path d="M724.0 684.0 C726.0 678.0 726.0 680.7 732.0 674.0 C738.0 667.3 735.3 668.7 742.0 664.0 C748.7 659.3 744.7 661.3 752.0 660.0 C759.3 658.7 758.0 658.7 764.0 660.0 C770.0 661.3 768.7 660.0 770.0 664.0 C771.3 668.0 770.0 666.7 768.0 672.0 C766.0 677.3 764.7 674.0 764.0 680.0 C763.3 686.0 764.7 683.3 766.0 690.0 C767.3 696.7 770.0 696.0 768.0 700.0 C766.0 704.0 765.3 703.3 760.0 702.0 C754.7 700.7 757.3 698.7 752.0 696.0 C746.7 693.3 750.0 694.0 744.0 694.0 C738.0 694.0 740.0 696.7 734.0 696.0 C728.0 695.3 729.3 696.0 726.0 692.0 C722.7 688.0 722.0 690.0 724.0 684.0Z" fill="#FCE882"/>
<path d="M808.0 700.0 C808.7 694.7 808.0 698.7 812.0 694.0 C816.0 689.3 814.7 691.3 820.0 686.0 C825.3 680.7 822.7 681.0 828.0 678.0 C833.3 675.0 832.3 676.3 836.0 677.0 C839.7 677.7 839.7 676.3 839.0 680.0 C838.3 683.7 838.3 683.3 834.0 688.0 C829.7 692.7 830.0 689.3 826.0 694.0 C822.0 698.7 822.7 696.0 822.0 702.0 C821.3 708.0 824.0 706.0 824.0 712.0 C824.0 718.0 824.7 718.0 822.0 720.0 C819.3 722.0 820.0 721.3 816.0 718.0 C812.0 714.7 812.7 716.0 810.0 710.0 C807.3 704.0 807.3 705.3 808.0 700.0Z" fill="#FCE882"/>
<path d="M628.0 694.0 C628.0 691.0 628.0 691.0 632.0 693.0 C636.0 695.0 634.7 695.0 640.0 700.0 C645.3 705.0 642.0 703.3 648.0 708.0 C654.0 712.7 652.0 710.0 658.0 714.0 C664.0 718.0 660.7 715.3 666.0 720.0 C671.3 724.7 672.7 724.7 674.0 728.0 C675.3 731.3 674.7 731.3 670.0 730.0 C665.3 728.7 666.7 728.0 660.0 724.0 C653.3 720.0 656.7 722.7 650.0 718.0 C643.3 713.3 646.0 715.3 640.0 710.0 C634.0 704.7 636.0 707.3 632.0 702.0 C628.0 696.7 628.0 697.0 628.0 694.0Z" fill="#FCE882"/>
<path d="M600.0 626.0 C600.7 622.7 601.3 622.7 606.0 624.0 C610.7 625.3 608.7 625.3 614.0 630.0 C619.3 634.7 616.7 632.7 622.0 638.0 C627.3 643.3 626.7 641.3 630.0 646.0 C633.3 650.7 632.7 649.7 632.0 652.0 C631.3 654.3 632.0 655.0 628.0 653.0 C624.0 651.0 625.3 650.3 620.0 646.0 C614.7 641.7 617.3 644.0 612.0 640.0 C606.7 636.0 608.0 638.7 604.0 634.0 C600.0 629.3 599.3 629.3 600.0 626.0Z" fill="#FCE882"/>
<path d="M475.0 825.0 C475.8 818.3 476.7 820.0 482.5 815.0 C488.3 810.0 485.0 810.8 492.5 810.0 C500.0 809.2 497.5 808.3 505.0 812.5 C512.5 816.7 508.3 815.0 515.0 822.5 C521.7 830.0 517.5 828.3 525.0 835.0 C532.5 841.7 528.3 839.2 537.5 842.5 C546.7 845.8 543.3 841.7 552.5 845.0 C561.7 848.3 558.3 845.8 565.0 852.5 C571.7 859.2 569.6 857.5 572.5 865.0 C575.4 872.5 575.4 870.4 573.8 875.0 C572.1 879.6 572.9 879.2 567.5 878.8 C562.1 878.3 564.2 878.3 557.5 873.8 C550.8 869.2 555.0 869.6 547.5 865.0 C540.0 860.4 543.3 862.5 535.0 860.0 C526.7 857.5 530.0 859.2 522.5 857.5 C515.0 855.8 518.3 854.2 512.5 855.0 C506.7 855.8 509.2 856.7 505.0 860.0 C500.8 863.3 504.2 865.0 500.0 865.0 C495.8 865.0 496.7 865.8 492.5 860.0 C488.3 854.2 491.7 855.8 487.5 847.5 C483.3 839.2 484.2 842.5 480.0 835.0 C475.8 827.5 474.2 831.7 475.0 825.0Z" fill="#FAF1BC"/>
<path d="M557.5 850.0 C560.0 842.1 560.4 848.3 565.0 851.2 C569.6 854.2 568.6 852.9 571.2 858.8 C573.9 864.6 573.8 862.9 573.0 868.8 C572.2 874.6 573.1 873.2 568.8 876.2 C564.4 879.3 563.8 878.4 560.0 878.0 C556.2 877.6 558.3 884.3 557.5 875.0 C556.7 865.7 555.0 857.9 557.5 850.0Z" fill="#FAF1BC"/>
<path d="M961.2 816.2 C961.7 812.4 961.2 813.0 963.8 810.5 C966.2 808.0 965.7 807.7 968.8 808.8 C971.8 809.8 971.9 809.6 973.0 813.8 C974.1 817.9 974.0 817.7 972.0 821.2 C970.0 824.8 970.2 824.2 967.0 824.5 C963.8 824.8 964.4 824.8 962.5 822.0 C960.6 819.2 960.8 820.1 961.2 816.2Z" fill="#FAF1BC"/>
<path d="M961.2 817.5 C960.8 812.8 960.8 813.8 963.8 811.2 C966.7 808.8 966.7 808.3 970.0 810.0 C973.3 811.7 973.3 811.7 973.8 816.2 C974.2 820.8 974.2 820.7 971.2 823.8 C968.3 826.8 968.3 827.6 965.0 825.5 C961.7 823.4 961.7 822.2 961.2 817.5Z" fill="#FAF1BC"/>
<path d="M880.0 772.5 C885.0 768.3 883.3 772.5 890.0 777.5 C896.7 782.5 895.0 780.0 900.0 787.5 C905.0 795.0 904.6 792.5 905.0 800.0 C905.4 807.5 905.4 805.8 901.2 810.0 C897.1 814.2 899.6 812.5 892.5 812.5 C885.4 812.5 885.8 817.5 880.0 810.0 C874.2 802.5 875.0 802.5 875.0 790.0 C875.0 777.5 875.0 776.7 880.0 772.5Z" fill="#FAF1BC"/>
<path d="M720.0 850.0 L730.0 842.5 L742.5 840.0 L757.5 843.8 L767.5 850.0 L775.0 858.8 L785.0 862.5 L797.5 858.8 L810.0 853.8 L822.5 850.0 L831.2 846.2 L833.8 845.0 L837.5 837.5 L847.5 835.0 L860.0 831.2 L872.5 825.0 L885.0 821.2 L832.5 842.5 L840.0 838.8 L850.0 840.0 L860.0 832.5 L867.5 827.5 L877.5 825.0 L890.0 822.5 L900.0 821.2 L905.0 827.5 L900.0 833.8 L896.2 838.8 L905.0 840.0 L917.5 836.2 L930.0 833.8 L940.0 833.8 L955.0 835.0 L966.2 838.8 L975.0 845.0 L978.8 837.5 L977.5 825.0 L976.2 812.5 L980.0 802.5 L985.0 807.5 L986.2 820.0 L986.2 832.5 L990.0 841.2 L1000.0 837.5 L1025.0 880.0 L950.0 930.0 L850.0 955.0 L835.0 950.0 L800.0 950.0 L777.5 950.0 L767.5 940.0 L753.8 945.0 L740.0 940.0 L732.5 942.5 L717.5 938.8 L698.8 931.2 L686.2 922.5 L681.2 905.0 L691.2 895.0 L702.5 887.5 L712.5 877.5 L718.8 862.5Z" fill="#F7DC45"/>
<path d="M739.0 1004.0 L741.0 1002.0 L746.0 999.0 L750.0 996.0 L755.0 994.0 L756.0 990.0 L759.0 987.0 L763.0 988.5 L767.0 987.0 L770.0 984.5 L776.0 984.5 L780.0 986.0 L784.0 983.0 L788.0 982.0 L794.0 983.0 L798.0 984.5 L802.0 986.0 L807.0 985.5 L809.0 990.0 L808.0 994.0 L805.0 997.0 L802.0 1002.0 L799.0 1008.0 L797.0 1013.0 L796.0 1019.0 L794.0 1023.0 L789.0 1026.0 L785.0 1030.0 L782.0 1034.0 L776.0 1036.5 L772.0 1040.0 L768.0 1040.5 L764.0 1039.5 L758.0 1038.0 L752.0 1036.0 L746.0 1033.0 L741.5 1030.0 L740.0 1025.0 L739.5 1015.0Z" fill="#FBB62E"/>
<path d="M1082.5 300.0 C1082.2 297.5 1082.8 297.2 1084.2 297.0 C1085.8 296.8 1085.8 297.2 1087.0 299.5 C1088.2 301.8 1088.7 302.1 1088.0 303.8 C1087.3 305.4 1086.8 305.8 1085.0 304.5 C1083.2 303.2 1082.8 302.5 1082.5 300.0Z" fill="#F7DC45"/>
<path d="M853.8 642.5 C854.2 638.3 853.3 638.8 856.2 636.2 C859.2 633.8 859.2 633.3 862.5 635.0 C865.8 636.7 865.4 636.7 866.2 641.2 C867.1 645.8 867.2 645.4 865.0 648.8 C862.8 652.1 862.8 651.2 859.5 651.2 C856.2 651.2 856.9 651.7 855.0 648.8 C853.1 645.8 853.3 646.7 853.8 642.5Z" fill="#F7DC45"/>
<path d="M776.8 758.8 C776.8 755.4 776.4 755.7 778.8 753.8 C781.1 751.8 781.2 751.3 783.8 753.0 C786.2 754.7 786.2 755.2 786.2 758.8 C786.2 762.3 786.2 762.1 783.8 763.8 C781.2 765.4 781.1 765.4 778.8 763.8 C776.4 762.1 776.8 762.1 776.8 758.8Z" fill="#F7DC45"/>
<path d="M503.8 746.2 C504.2 743.4 504.0 743.1 506.2 742.0 C508.5 740.9 508.6 741.2 510.5 743.0 C512.4 744.8 512.6 744.8 512.0 747.5 C511.4 750.2 511.1 750.2 508.8 751.2 C506.4 752.2 506.7 752.2 505.0 750.5 C503.3 748.8 503.3 749.1 503.8 746.2Z" fill="#F7DC45"/>
<path d="M677.0 616.0 C677.8 611.3 677.0 612.7 680.0 610.0 C683.0 607.3 682.0 607.0 686.0 608.0 C690.0 609.0 689.7 607.7 692.0 613.0 C694.3 618.3 693.7 617.7 693.0 624.0 C692.3 630.3 692.7 628.3 690.0 632.0 C687.3 635.7 688.3 635.3 685.0 635.0 C681.7 634.7 682.5 634.7 680.0 631.0 C677.5 627.3 678.6 629.0 677.6 624.0 C676.6 619.0 676.2 620.7 677.0 616.0Z" fill="#F7DC45"/>
<path d="M527.5 810.0 C529.2 803.3 527.5 806.2 535.0 802.5 C542.5 798.8 539.2 799.2 550.0 798.8 C560.8 798.3 556.7 799.2 567.5 801.2 C578.3 803.3 574.2 801.2 582.5 805.0 C590.8 808.8 586.7 805.8 592.5 812.5 C598.3 819.2 594.2 816.7 600.0 825.0 C605.8 833.3 603.3 830.0 610.0 837.5 C616.7 845.0 614.2 840.0 620.0 847.5 C625.8 855.0 624.6 851.7 627.5 860.0 C630.4 868.3 629.6 865.0 628.8 872.5 C627.9 880.0 628.8 875.8 625.0 882.5 C621.2 889.2 622.5 890.0 617.5 892.5 C612.5 895.0 615.0 890.8 610.0 890.0 C605.0 889.2 608.3 891.7 602.5 890.0 C596.7 888.3 598.3 891.7 592.5 885.0 C586.7 878.3 589.2 878.3 585.0 870.0 C580.8 861.7 582.5 867.5 580.0 860.0 C577.5 852.5 580.8 855.0 577.5 847.5 C574.2 840.0 576.7 842.1 570.0 837.5 C563.3 832.9 565.8 834.6 557.5 833.8 C549.2 832.9 552.5 835.8 545.0 835.0 C537.5 834.2 540.0 835.4 535.0 831.2 C530.0 827.1 532.5 829.6 530.0 822.5 C527.5 815.4 525.8 816.7 527.5 810.0Z" fill="#F7DC45"/>
<path d="M488.8 880.0 C490.8 873.3 491.2 875.8 497.5 872.5 C503.8 869.2 500.0 870.4 507.5 870.0 C515.0 869.6 512.5 869.6 520.0 871.2 C527.5 872.9 522.5 872.1 530.0 875.0 C537.5 877.9 534.2 877.1 542.5 880.0 C550.8 882.9 549.2 880.4 555.0 883.8 C560.8 887.1 560.8 886.7 560.0 890.0 C559.2 893.3 557.1 891.2 552.5 893.8 C547.9 896.2 548.9 892.1 546.2 897.5 C543.6 902.9 544.1 902.5 544.5 910.0 C544.9 917.5 547.8 912.5 547.5 920.0 C547.2 927.5 549.6 929.6 543.8 932.5 C537.9 935.4 535.4 934.6 530.0 928.8 C524.6 922.9 531.7 919.6 527.5 915.0 C523.3 910.4 525.0 914.6 517.5 915.0 C510.0 915.4 511.7 918.8 505.0 916.2 C498.3 913.8 502.1 915.4 497.5 907.5 C492.9 899.6 494.2 901.7 491.2 892.5 C488.3 883.3 486.7 886.7 488.8 880.0Z" fill="#F7DC45"/>
<path d="M450.0 822.5 C450.4 817.9 450.8 820.0 455.0 812.5 C459.2 805.0 456.7 807.5 462.5 800.0 C468.3 792.5 466.2 793.8 472.5 790.0 C478.8 786.2 477.2 787.1 481.2 788.8 C485.2 790.4 484.9 789.6 484.5 795.0 C484.1 800.4 484.4 798.8 480.0 805.0 C475.6 811.2 477.5 808.3 471.2 813.8 C465.0 819.2 467.1 817.1 461.2 821.2 C455.4 825.4 457.5 825.8 453.8 826.2 C450.0 826.7 449.6 827.1 450.0 822.5Z" fill="#F7DC45"/>
<path d="M561.2 772.5 C561.5 768.3 561.2 768.9 563.8 766.2 C566.2 763.6 565.7 763.7 568.8 764.5 C571.8 765.3 571.8 764.8 573.0 768.8 C574.2 772.7 574.2 772.1 572.5 776.2 C570.8 780.4 571.2 780.4 568.0 781.2 C564.8 782.1 565.2 781.7 563.0 778.8 C560.8 775.8 561.0 776.7 561.2 772.5Z" fill="#F7DC45"/>
<path d="M930.0 802.5 C930.8 796.7 929.6 797.7 933.8 792.5 C937.9 787.3 936.2 788.7 942.5 787.0 C948.8 785.3 946.7 785.2 952.5 787.5 C958.3 789.8 956.7 788.3 960.0 793.8 C963.3 799.2 963.3 797.5 962.5 803.8 C961.7 810.0 962.5 808.3 957.5 812.5 C952.5 816.7 954.2 815.4 947.5 816.2 C940.8 817.1 942.9 817.1 937.5 815.0 C932.1 812.9 933.8 814.2 931.2 810.0 C928.8 805.8 929.2 808.3 930.0 802.5Z" fill="#F7DC45"/>
<path d="M1018.8 660.0 C1019.2 654.2 1018.8 655.8 1022.5 652.5 C1026.2 649.2 1025.0 649.8 1030.0 650.0 C1035.0 650.2 1034.2 649.7 1037.5 653.0 C1040.8 656.3 1040.4 654.8 1040.0 660.0 C1039.6 665.2 1040.0 664.4 1036.2 668.8 C1032.5 673.1 1033.8 672.6 1028.8 673.0 C1023.8 673.4 1024.6 674.3 1021.2 670.0 C1017.9 665.7 1018.3 665.8 1018.8 660.0Z" fill="#F7DC45"/>
<path d="M1025.0 737.5 C1025.4 732.5 1025.4 734.6 1030.0 732.5 C1034.6 730.4 1033.3 730.4 1038.8 731.2 C1044.2 732.1 1042.1 731.2 1046.2 735.0 C1050.4 738.8 1051.7 737.5 1051.2 742.5 C1050.8 747.5 1050.4 746.2 1045.0 750.0 C1039.6 753.8 1040.4 754.6 1035.0 753.8 C1029.6 752.9 1032.1 752.9 1028.8 747.5 C1025.4 742.1 1024.6 742.5 1025.0 737.5Z" fill="#F7DC45"/>
<path d="M981.2 750.0 C981.2 743.3 980.4 745.4 983.8 742.5 C987.1 739.6 987.3 738.8 991.2 741.2 C995.2 743.8 993.8 743.8 995.5 750.0 C997.2 756.2 994.8 753.3 996.2 760.0 C997.8 766.7 995.4 765.8 1000.0 770.0 C1004.6 774.2 1003.3 772.1 1010.0 772.5 C1016.7 772.9 1016.2 775.4 1020.0 771.2 C1023.8 767.1 1019.6 765.8 1021.2 760.0 C1022.9 754.2 1021.2 754.6 1025.0 753.8 C1028.8 752.9 1029.8 752.9 1032.5 757.5 C1035.2 762.1 1033.4 760.8 1033.0 767.5 C1032.6 774.2 1032.2 770.8 1031.2 777.5 C1030.2 784.2 1032.5 781.7 1030.0 787.5 C1027.5 793.3 1029.6 793.8 1023.8 795.0 C1017.9 796.2 1020.4 793.8 1012.5 791.2 C1004.6 788.8 1007.5 790.0 1000.0 787.5 C992.5 785.0 995.0 787.9 990.0 783.8 C985.0 779.6 987.1 782.1 985.0 775.0 C982.9 767.9 985.0 770.8 983.8 762.5 C982.5 754.2 981.2 756.7 981.2 750.0Z" fill="#F7DC45"/>
<path d="M975.0 810.0 C975.8 800.8 975.8 804.6 978.8 802.5 C981.7 800.4 981.7 799.6 983.8 803.8 C985.8 807.9 985.0 807.1 985.0 815.0 C985.0 822.9 985.4 820.8 983.8 827.5 C982.1 834.2 982.5 834.2 980.0 835.0 C977.5 835.8 977.9 838.3 976.2 830.0 C974.6 821.7 974.2 819.2 975.0 810.0Z" fill="#F7DC45"/>
<path d="M930.0 802.5 C929.2 795.8 928.8 797.9 932.5 793.8 C936.2 789.6 935.0 791.1 941.2 790.0 C947.5 788.9 945.4 788.0 951.2 790.5 C957.1 793.0 955.8 791.8 958.8 797.5 C961.7 803.2 961.7 801.5 960.0 807.5 C958.3 813.5 959.2 812.0 953.8 815.5 C948.3 819.0 950.0 818.6 943.8 818.0 C937.5 817.4 939.6 818.9 935.0 813.8 C930.4 808.6 930.8 809.2 930.0 802.5Z" fill="#F7DC45"/>
<path d="M680.4 619.0 C680.9 616.0 680.4 616.3 682.4 615.0 C684.4 613.7 684.4 613.3 686.4 615.0 C688.4 616.7 688.2 616.3 688.4 620.0 C688.6 623.7 688.8 623.7 687.0 626.0 C685.2 628.3 685.1 627.7 683.0 627.0 C680.9 626.3 681.7 626.7 680.8 624.0 C679.9 621.3 679.9 622.0 680.4 619.0Z" fill="#FBB62E"/>
<path d="M587.5 867.5 C587.5 861.7 586.7 862.9 590.0 858.8 C593.3 854.6 592.5 854.6 597.5 855.0 C602.5 855.4 600.8 855.0 605.0 860.0 C609.2 865.0 608.5 862.9 610.0 870.0 C611.5 877.1 611.6 875.8 609.5 881.2 C607.4 886.7 608.6 885.8 603.8 886.2 C598.9 886.7 599.6 885.8 595.0 882.5 C590.4 879.2 592.5 881.2 590.0 876.2 C587.5 871.2 587.5 873.3 587.5 867.5Z" fill="#FBB62E"/>
<path d="M552.0 815.5 C552.6 814.0 553.2 813.7 556.2 813.5 C559.3 813.3 560.0 813.5 561.2 815.0 C562.5 816.5 562.2 817.0 560.0 818.0 C557.8 819.0 557.2 818.8 554.5 818.0 C551.8 817.2 551.4 817.0 552.0 815.5Z" fill="#FBB62E"/>
<path d="M506.2 880.0 C506.9 876.2 505.4 876.2 510.0 873.8 C514.6 871.2 513.3 871.2 520.0 872.5 C526.7 873.8 522.5 874.2 530.0 877.5 C537.5 880.8 535.0 880.0 542.5 882.5 C550.0 885.0 547.5 882.5 552.5 885.0 C557.5 887.5 558.3 887.5 557.5 890.0 C556.7 892.5 554.2 890.0 550.0 892.5 C545.8 895.0 547.1 891.7 545.0 897.5 C542.9 903.3 543.1 902.5 543.8 910.0 C544.4 917.5 547.0 912.5 547.0 920.0 C547.0 927.5 549.0 929.8 543.8 932.5 C538.5 935.2 536.2 933.8 531.2 928.0 C526.2 922.2 530.4 921.8 528.8 915.0 C527.1 908.2 529.2 912.5 526.2 907.5 C523.3 902.5 524.2 905.8 520.0 900.0 C515.8 894.2 517.8 895.0 513.8 890.0 C509.8 885.0 510.5 888.3 508.0 885.0 C505.5 881.7 505.6 883.8 506.2 880.0Z" fill="#FBB62E"/>
<path d="M828.8 877.5 C828.8 872.5 827.9 873.3 832.5 868.8 C837.1 864.2 835.0 866.2 842.5 863.8 C850.0 861.2 847.1 862.5 855.0 861.2 C862.9 860.0 860.4 858.3 866.2 860.0 C872.1 861.7 869.8 860.4 872.5 866.2 C875.2 872.1 873.5 870.4 874.5 877.5 C875.5 884.6 877.0 882.7 875.5 887.5 C874.0 892.3 875.2 892.4 870.0 892.0 C864.8 891.6 866.7 889.0 860.0 886.2 C853.3 883.5 856.7 884.2 850.0 883.8 C843.3 883.3 845.8 885.0 840.0 885.0 C834.2 885.0 836.2 886.2 832.5 883.8 C828.8 881.2 828.8 882.5 828.8 877.5Z" fill="#FBB62E"/>
<path d="M842.5 905.0 C843.3 901.1 842.5 901.6 847.5 899.5 C852.5 897.4 851.2 897.3 857.5 898.8 C863.8 900.2 861.4 899.2 866.2 903.8 C871.1 908.3 871.2 906.7 872.0 912.5 C872.8 918.3 872.8 917.9 868.8 921.2 C864.8 924.6 865.8 923.8 860.0 922.5 C854.2 921.2 856.2 921.2 851.2 917.5 C846.2 913.8 847.9 915.4 845.0 911.2 C842.1 907.1 841.7 908.9 842.5 905.0Z" fill="#FBB62E"/>
<path d="M802.5 912.5 C803.6 906.2 803.3 908.1 806.2 906.2 C809.2 904.4 808.8 904.1 811.2 907.0 C813.8 909.9 813.2 908.2 813.8 915.0 C814.3 921.8 814.2 920.4 813.0 927.5 C811.8 934.6 812.7 933.8 810.0 936.2 C807.3 938.8 807.3 938.8 805.0 935.0 C802.7 931.2 803.8 932.5 803.0 925.0 C802.2 917.5 801.4 918.8 802.5 912.5Z" fill="#FBB62E"/>
<path d="M726.2 866.2 C726.8 863.8 726.7 863.3 728.8 862.5 C730.8 861.7 731.1 861.7 732.5 863.8 C733.9 865.8 733.8 866.2 733.0 868.8 C732.2 871.2 732.0 870.8 730.0 871.2 C728.0 871.7 728.2 871.7 727.0 870.0 C725.8 868.3 725.7 868.8 726.2 866.2Z" fill="#FBB62E"/>
<path d="M873.8 842.5 C874.6 837.3 873.8 839.1 880.0 837.0 C886.2 834.9 884.2 834.4 892.5 836.2 C900.8 838.1 896.7 839.2 905.0 842.5 C913.3 845.8 910.0 844.2 917.5 846.2 C925.0 848.3 923.3 845.8 927.5 848.8 C931.7 851.7 931.7 851.4 930.0 855.0 C928.3 858.6 929.2 857.8 922.5 859.5 C915.8 861.2 918.3 859.0 910.0 860.0 C901.7 861.0 905.8 862.5 897.5 862.5 C889.2 862.5 891.7 863.3 885.0 860.0 C878.3 856.7 881.2 858.3 877.5 852.5 C873.8 846.7 872.9 847.7 873.8 842.5Z" fill="#FBB62E"/>
<path d="M925.0 877.5 C926.4 871.7 925.0 872.9 930.0 867.5 C935.0 862.1 932.5 864.4 940.0 861.2 C947.5 858.1 944.2 859.4 952.5 858.0 C960.8 856.6 957.9 856.5 965.0 857.0 C972.1 857.5 972.1 856.0 973.8 859.5 C975.4 863.0 973.3 861.9 970.0 867.5 C966.7 873.1 967.1 870.8 963.8 876.2 C960.4 881.7 964.6 879.8 960.0 883.8 C955.4 887.7 956.7 885.9 950.0 888.0 C943.3 890.1 946.2 888.9 940.0 890.0 C933.8 891.1 936.0 892.9 931.2 891.2 C926.5 889.6 927.8 889.6 925.8 885.0 C923.7 880.4 923.6 883.3 925.0 877.5Z" fill="#FBB62E"/>
<path d="M943.0 799.5 C943.3 797.2 943.2 797.1 945.5 796.2 C947.8 795.4 947.9 795.6 950.0 797.0 C952.1 798.4 952.2 798.4 951.8 800.5 C951.3 802.6 951.2 802.4 948.8 803.2 C946.3 804.1 946.4 804.2 944.5 803.0 C942.6 801.8 942.7 801.8 943.0 799.5Z" fill="#FBB62E"/>
<path d="M943.0 800.0 C943.6 798.0 943.2 797.7 945.5 797.0 C947.8 796.3 948.1 796.3 950.0 798.0 C951.9 799.7 952.1 800.1 951.2 802.0 C950.4 803.9 950.0 803.4 947.5 803.8 C945.0 804.1 945.2 804.2 943.8 803.0 C942.2 801.8 942.4 802.0 943.0 800.0Z" fill="#FBB62E"/>
<path d="M513.8 881.2 C514.3 880.0 514.3 879.4 516.2 879.5 C518.2 879.6 519.1 880.1 519.5 881.5 C519.9 882.9 519.2 883.2 517.5 883.8 C515.8 884.3 515.8 884.1 514.5 883.2 C513.2 882.4 513.2 882.5 513.8 881.2Z" fill="#FB9A35"/>
<path d="M741.0 1010.0 C742.1 1007.8 741.0 1008.5 744.0 1007.5 C747.0 1006.5 746.5 1006.5 750.0 1007.0 C753.5 1007.5 752.8 1007.0 754.5 1009.0 C756.2 1011.0 755.8 1010.3 755.0 1013.0 C754.2 1015.7 754.7 1015.2 752.0 1017.0 C749.3 1018.8 750.2 1018.5 747.0 1018.5 C743.8 1018.5 744.6 1018.5 742.5 1017.0 C740.4 1015.5 741.3 1016.3 740.8 1014.0 C740.3 1011.7 739.9 1012.2 741.0 1010.0Z" fill="#FB9A35"/>
<path d="M786.0 1007.5 C786.7 1006.4 786.3 1006.4 789.0 1006.2 C791.7 1006.0 791.5 1006.0 794.0 1006.8 C796.5 1007.6 796.5 1007.1 796.5 1008.5 C796.5 1009.9 796.2 1010.1 794.0 1011.0 C791.8 1011.9 792.3 1011.7 790.0 1011.2 C787.7 1010.7 788.3 1010.7 787.0 1009.5 C785.7 1008.3 785.3 1008.6 786.0 1007.5Z" fill="#FB9A35"/>
<path d="M447.5 475.0 C448.3 467.9 447.1 469.6 451.2 463.8 C455.4 457.9 452.9 459.8 460.0 457.5 C467.1 455.2 465.4 455.3 472.5 457.0 C479.6 458.7 477.1 457.3 481.2 462.5 C485.4 467.7 484.6 465.0 485.0 472.5 C485.4 480.0 485.8 477.9 482.5 485.0 C479.2 492.1 481.2 489.6 475.0 493.8 C468.8 497.9 470.8 497.9 463.8 497.5 C456.7 497.1 458.8 496.7 453.8 492.5 C448.8 488.3 450.8 490.8 448.8 485.0 C446.7 479.2 446.7 482.1 447.5 475.0Z" fill="#8ADFEE"/>
<path d="M453.0 475.0 C453.2 468.8 452.7 470.4 456.2 466.2 C459.8 462.1 458.3 463.3 463.8 462.5 C469.2 461.7 467.9 460.8 472.5 463.8 C477.1 466.7 476.0 465.4 477.5 471.2 C479.0 477.1 479.1 475.4 477.0 481.2 C474.9 487.1 476.1 485.8 471.2 488.8 C466.4 491.7 467.8 491.2 462.5 490.0 C457.2 488.8 458.7 490.0 455.5 485.0 C452.3 480.0 452.8 481.2 453.0 475.0Z" fill="#D2F7F0"/>
<path d="M459.5 474.5 C460.3 471.6 459.8 471.7 462.5 470.0 C465.2 468.3 464.8 468.2 467.5 469.5 C470.2 470.8 470.1 470.4 470.5 473.8 C470.9 477.1 471.0 477.0 468.8 479.5 C466.5 482.0 466.7 481.5 463.8 481.2 C460.8 481.0 461.4 481.0 460.0 478.8 C458.6 476.5 458.7 477.4 459.5 474.5Z" fill="#FAF1BC"/>
<path d="M730.0 385.0 C727.9 376.7 729.2 380.0 731.2 372.5 C733.3 365.0 730.0 366.8 736.2 362.5 C742.5 358.2 740.4 360.5 750.0 359.5 C759.6 358.5 755.8 359.2 765.0 359.5 C774.2 359.8 772.9 356.2 777.5 360.5 C782.1 364.8 779.2 364.3 778.8 372.5 C778.3 380.7 778.3 377.5 776.2 385.0 C774.2 392.5 777.1 390.0 772.5 395.0 C767.9 400.0 770.0 397.9 762.5 400.0 C755.0 402.1 758.3 402.1 750.0 401.2 C741.7 400.4 744.2 402.9 737.5 397.5 C730.8 392.1 732.1 393.3 730.0 385.0Z" fill="#D2F7F0"/>
<path d="M736.2 383.8 C734.8 376.7 735.3 378.2 737.0 371.2 C738.7 364.3 736.1 366.8 741.2 363.0 C746.4 359.2 743.8 361.0 752.5 360.0 C761.2 359.0 760.0 358.8 767.5 360.0 C775.0 361.2 772.5 358.8 775.0 363.8 C777.5 368.8 775.8 367.1 775.0 375.0 C774.2 382.9 775.8 381.2 772.5 387.5 C769.2 393.8 771.7 391.2 765.0 393.8 C758.3 396.2 760.4 395.4 752.5 395.0 C744.6 394.6 746.7 396.2 741.2 392.5 C735.8 388.8 737.7 390.8 736.2 383.8Z" fill="#FAF1BC"/>
<path d="M741.2 382.5 C739.8 376.7 740.3 377.5 742.0 371.2 C743.7 365.0 741.9 367.2 746.2 363.8 C750.6 360.3 748.3 361.6 755.0 361.0 C761.7 360.4 760.8 359.8 766.2 362.0 C771.7 364.2 770.0 361.5 771.2 367.5 C772.5 373.5 771.7 372.9 770.0 380.0 C768.3 387.1 770.8 385.0 766.2 388.8 C761.7 392.5 762.9 391.2 756.2 391.2 C749.6 391.2 751.2 391.7 746.2 388.8 C741.2 385.8 742.7 388.3 741.2 382.5Z" fill="#FCE882"/>
<path d="M746.2 381.2 C745.8 376.7 745.4 377.5 747.5 372.5 C749.6 367.5 748.8 368.8 752.5 366.2 C756.2 363.8 755.8 362.9 758.8 365.0 C761.7 367.1 760.8 366.7 761.2 372.5 C761.7 378.3 762.1 377.5 760.0 382.5 C757.9 387.5 758.8 386.2 755.0 387.5 C751.2 388.8 751.7 388.3 748.8 386.2 C745.8 384.2 746.7 385.8 746.2 381.2Z" fill="#F7DC45"/>
<path d="M750.8 382.0 C750.8 381.1 751.2 380.8 752.0 380.8 C752.8 380.8 753.2 381.1 753.2 382.0 C753.2 382.9 752.8 383.5 752.0 383.5 C751.2 383.5 750.8 382.9 750.8 382.0Z" fill="#FBB62E"/>
<path d="M350.0 200.0 C350.0 188.7 348.7 191.3 352.0 180.0 C355.3 168.7 353.3 172.7 360.0 166.0 C366.7 159.3 363.3 161.3 372.0 160.0 C380.7 158.7 380.0 156.7 386.0 162.0 C392.0 167.3 390.0 164.7 390.0 176.0 C390.0 187.3 390.7 183.3 386.0 196.0 C381.3 208.7 384.0 206.0 376.0 214.0 C368.0 222.0 370.0 220.0 362.0 220.0 C354.0 220.0 356.0 220.7 352.0 214.0 C348.0 207.3 350.0 211.3 350.0 200.0Z" fill="#D2F7F0"/>
<path d="M352.8 196.0 C351.5 184.7 351.6 188.0 356.0 178.0 C360.4 168.0 358.7 170.7 366.0 166.0 C373.3 161.3 371.3 161.3 378.0 164.0 C384.7 166.7 384.7 164.0 386.0 174.0 C387.3 184.0 386.7 182.7 382.0 194.0 C377.3 205.3 379.3 202.0 372.0 208.0 C364.7 214.0 366.4 216.0 360.0 212.0 C353.6 208.0 354.1 207.3 352.8 196.0Z" fill="#FAF1BC"/>
<path d="M356.0 194.0 C354.9 186.7 354.8 188.0 358.8 180.0 C362.8 172.0 362.3 172.7 368.0 170.0 C373.7 167.3 372.7 167.3 376.0 172.0 C379.3 176.7 379.3 175.3 378.0 184.0 C376.7 192.7 377.3 192.0 372.0 198.0 C366.7 204.0 367.3 203.3 362.0 202.0 C356.7 200.7 357.1 201.3 356.0 194.0Z" fill="#FCE882"/>
<path d="M358.0 190.0 C357.7 184.0 358.4 184.7 362.0 180.0 C365.6 175.3 365.1 175.3 368.8 176.0 C372.5 176.7 372.8 176.4 373.2 182.0 C373.6 187.6 373.5 187.5 370.0 192.8 C366.5 198.1 366.8 198.9 362.8 198.0 C358.8 197.1 358.3 196.0 358.0 190.0Z" fill="#F7DC45"/>
<path d="M361.2 188.8 C362.1 185.3 362.3 184.1 364.8 182.8 C367.3 181.5 368.4 181.7 368.8 184.8 C369.2 187.9 368.3 189.2 366.0 192.0 C363.7 194.8 363.6 194.3 362.0 193.2 C360.4 192.1 360.3 192.3 361.2 188.8Z" fill="#FBB62E"/>
<path d="M243.8 643.8 C242.9 641.2 244.6 641.2 250.0 638.8 C255.4 636.2 253.3 636.7 260.0 636.2 C266.7 635.8 264.2 635.0 270.0 637.5 C275.8 640.0 274.6 639.2 277.5 643.8 C280.4 648.3 280.4 647.1 278.8 651.2 C277.1 655.4 277.1 653.3 272.5 656.2 C267.9 659.2 269.2 656.7 265.0 660.0 C260.8 663.3 263.8 662.9 260.0 666.2 C256.2 669.6 257.1 672.1 253.8 670.0 C250.4 667.9 250.0 665.8 250.0 660.0 C250.0 654.2 252.9 657.1 253.8 652.5 C254.6 647.9 255.8 649.2 252.5 646.2 C249.2 643.3 244.6 646.2 243.8 643.8Z" fill="#D2F7F0"/>
<path d="M251.2 643.8 C252.7 641.3 253.3 640.6 258.8 639.5 C264.2 638.4 262.2 638.2 267.5 640.5 C272.8 642.8 272.4 642.4 274.5 646.2 C276.6 650.1 276.1 648.7 273.8 652.0 C271.4 655.3 271.7 652.3 267.5 656.2 C263.3 660.2 265.8 659.3 261.2 663.8 C256.7 668.2 257.3 670.8 253.8 669.5 C250.2 668.2 249.8 665.5 250.5 660.0 C251.2 654.5 254.4 657.4 255.8 653.0 C257.1 648.6 256.0 649.8 254.5 646.8 C253.0 643.7 249.8 646.2 251.2 643.8Z" fill="#FAF1BC"/>
<path d="M256.2 646.2 C257.9 642.7 258.3 643.4 262.5 643.0 C266.7 642.6 265.6 642.8 268.8 645.0 C271.9 647.2 272.8 646.2 272.0 649.5 C271.2 652.8 269.8 650.7 266.2 655.0 C262.7 659.3 265.2 657.8 261.2 662.5 C257.2 667.2 257.6 669.7 254.2 669.0 C250.9 668.3 250.2 665.6 251.2 660.5 C252.3 655.4 255.8 658.5 257.5 653.8 C259.2 649.0 254.6 649.8 256.2 646.2Z" fill="#FCE882"/>
<path d="M258.8 653.0 C263.1 649.7 261.9 651.0 265.0 651.2 C268.1 651.5 268.8 650.8 268.0 653.8 C267.2 656.7 266.0 655.8 262.5 660.0 C259.0 664.2 260.7 663.4 257.5 666.2 C254.3 669.1 254.8 670.2 253.0 668.5 C251.2 666.8 250.1 666.4 252.0 661.2 C253.9 656.1 254.4 656.3 258.8 653.0Z" fill="#F7DC45"/>
<path d="M610.0 550.0 C609.2 542.1 608.8 545.8 612.5 540.0 C616.2 534.2 613.8 534.6 621.2 532.5 C628.8 530.4 627.5 530.4 635.0 533.8 C642.5 537.1 640.8 535.4 643.8 542.5 C646.7 549.6 646.2 547.5 643.8 555.0 C641.2 562.5 642.5 560.8 636.2 565.0 C630.0 569.2 632.1 567.9 625.0 567.5 C617.9 567.1 620.0 569.6 615.0 563.8 C610.0 557.9 610.8 557.9 610.0 550.0Z" fill="#8ADFEE"/>
<path d="M613.8 550.0 C613.3 543.8 612.9 545.8 616.2 541.2 C619.6 536.7 617.9 537.5 623.8 536.2 C629.6 535.0 628.3 534.6 633.8 537.5 C639.2 540.4 638.1 539.6 640.0 545.0 C641.9 550.4 641.6 548.3 639.5 553.8 C637.4 559.2 638.6 557.9 633.8 561.2 C628.9 564.6 630.4 564.2 625.0 563.8 C619.6 563.3 621.2 564.6 617.5 560.0 C613.8 555.4 614.2 556.2 613.8 550.0Z" fill="#D2F7F0"/>
<path d="M619.5 548.8 C619.2 544.8 619.3 545.0 622.0 542.5 C624.7 540.0 624.0 540.8 627.5 541.2 C631.0 541.7 630.7 540.8 632.5 543.8 C634.3 546.7 634.2 546.2 633.0 550.0 C631.8 553.8 632.1 553.5 628.8 555.0 C625.4 556.5 626.1 556.6 623.0 554.5 C619.9 552.4 619.8 552.8 619.5 548.8Z" fill="#FAF1BC"/>
<path d="M474.5 842.5 C475.3 836.7 474.4 838.3 477.5 832.5 C480.6 826.7 479.2 828.3 483.8 825.0 C488.3 821.7 485.8 821.7 491.2 822.5 C496.7 823.3 495.4 822.5 500.0 827.5 C504.6 832.5 502.9 830.8 505.0 837.5 C507.1 844.2 507.1 840.8 506.2 847.5 C505.4 854.2 506.2 852.1 502.5 857.5 C498.8 862.9 500.4 862.1 495.0 863.8 C489.6 865.4 491.7 865.0 486.2 862.5 C480.8 860.0 482.5 860.4 478.8 856.2 C475.0 852.1 476.4 854.6 475.0 850.0 C473.6 845.4 473.7 848.3 474.5 842.5Z" fill="#D2F7F0"/>
<path d="M477.5 847.5 C477.7 842.5 477.1 843.1 480.0 838.8 C482.9 834.4 481.7 835.3 486.2 834.5 C490.8 833.7 489.8 833.2 493.8 836.2 C497.7 839.3 496.8 838.3 498.0 843.8 C499.2 849.2 499.5 847.5 497.5 852.5 C495.5 857.5 496.3 856.9 492.0 858.8 C487.7 860.6 488.7 859.7 484.5 858.0 C480.3 856.3 481.8 857.2 479.5 853.8 C477.2 850.2 477.3 852.5 477.5 847.5Z" fill="#8ADFEE"/>
<path d="M487.5 848.8 C487.5 847.4 488.2 846.8 489.5 846.8 C490.8 846.8 491.5 847.4 491.5 848.8 C491.5 850.1 490.8 850.8 489.5 850.8 C488.2 850.8 487.5 850.1 487.5 848.8Z" fill="#78B4E6"/>
<path d="M756.2 871.2 C756.5 867.9 756.2 868.3 758.8 866.2 C761.2 864.2 760.6 864.2 763.8 865.0 C766.9 865.8 767.0 865.4 768.2 868.8 C769.5 872.1 769.4 871.9 767.5 875.0 C765.6 878.1 765.7 877.6 762.5 878.0 C759.3 878.4 760.1 878.5 758.0 876.2 C755.9 874.0 756.0 874.6 756.2 871.2Z" fill="#FCE882"/>
<path d="M880.0 885.0 C881.1 878.3 879.6 879.6 883.8 873.8 C887.9 867.9 885.8 870.2 892.5 867.5 C899.2 864.8 896.7 865.1 903.8 865.5 C910.8 865.9 908.5 864.8 913.8 868.8 C919.0 872.8 917.2 871.2 919.5 877.5 C921.8 883.8 921.2 881.7 920.5 887.5 C919.8 893.3 921.0 891.2 917.5 895.0 C914.0 898.8 915.8 897.1 910.0 898.8 C904.2 900.4 906.2 898.6 900.0 900.0 C893.8 901.4 896.2 903.2 891.2 903.0 C886.2 902.8 888.6 902.6 885.0 899.5 C881.4 896.4 882.2 898.6 880.5 893.8 C878.8 888.9 878.9 891.7 880.0 885.0Z" fill="#FCE882"/>
<path d="M883.8 886.2 C884.2 880.0 883.3 881.5 887.5 876.2 C891.7 871.0 890.4 872.8 896.2 870.5 C902.1 868.2 899.6 868.7 905.0 869.5 C910.4 870.3 908.8 869.1 912.5 873.0 C916.2 876.9 915.2 875.6 916.2 881.2 C917.2 886.9 917.6 885.2 915.5 890.0 C913.4 894.8 915.2 893.0 910.0 895.5 C904.8 898.0 906.2 896.2 900.0 897.5 C893.8 898.8 895.8 900.3 891.2 899.5 C886.7 898.7 888.8 899.4 886.2 895.0 C883.8 890.6 883.3 892.5 883.8 886.2Z" fill="#FAF1BC"/>
<path d="M893.8 883.8 C893.8 878.8 893.3 879.8 896.2 876.2 C899.2 872.7 898.3 873.0 902.5 873.0 C906.7 873.0 905.8 872.7 908.8 876.2 C911.7 879.8 911.2 878.8 911.2 883.8 C911.2 888.8 911.7 887.9 908.8 891.2 C905.8 894.6 906.7 893.8 902.5 893.8 C898.3 893.8 899.2 894.6 896.2 891.2 C893.3 887.9 893.8 888.8 893.8 883.8Z" fill="#D2F7F0"/>
<path d="M898.8 883.8 C898.8 880.2 899.0 880.4 901.2 878.8 C903.5 877.1 903.2 877.1 905.5 878.8 C907.8 880.4 907.8 880.4 908.0 883.8 C908.2 887.1 908.5 886.8 906.2 888.8 C904.0 890.7 903.8 891.2 901.2 889.5 C898.8 887.8 898.8 887.3 898.8 883.8Z" fill="#8ADFEE"/>
<path d="M750.0 996.0 C753.3 999.3 754.0 994.5 760.0 994.0 C766.0 993.5 763.3 993.5 768.0 994.5 C772.7 995.5 770.0 995.3 774.0 997.0 C778.0 998.7 775.3 998.5 780.0 999.5 C784.7 1000.5 782.7 1000.2 788.0 1000.0 C793.3 999.8 791.0 1000.0 796.0 999.0 C801.0 998.0 798.3 998.7 803.0 997.0 C807.7 995.3 807.7 999.0 810.0 994.0 C812.3 989.0 819.3 986.7 810.0 982.0 C800.7 977.3 802.0 979.3 782.0 980.0 C762.0 980.7 760.7 978.7 750.0 984.0 C739.3 989.3 746.7 992.7 750.0 996.0Z" fill="#F7DC45"/>
<path d="M767.0 987.0 C768.0 989.7 767.7 988.0 770.0 990.0 C772.3 992.0 770.7 991.0 774.0 993.0 C777.3 995.0 775.3 994.8 780.0 996.0 C784.7 997.2 783.3 996.8 788.0 996.5 C792.7 996.2 790.3 996.5 794.0 995.0 C797.7 993.5 796.0 993.7 799.0 992.0 C802.0 990.3 800.0 991.5 803.0 990.0 C806.0 988.5 806.3 990.2 808.0 987.5 C809.7 984.8 821.7 983.8 808.0 982.0 C794.3 980.2 780.7 980.3 767.0 982.0 C753.3 983.7 766.0 984.3 767.0 987.0Z" fill="#FCE882"/>
<path d="M774.5 986.0 C775.3 988.7 774.5 987.3 777.0 990.0 C779.5 992.7 778.3 992.5 782.0 994.0 C785.7 995.5 784.3 994.8 788.0 994.5 C791.7 994.2 790.0 994.5 793.0 993.0 C796.0 991.5 794.8 992.2 797.0 990.0 C799.2 987.8 798.7 989.2 799.5 986.5 C800.3 983.8 807.8 983.5 799.5 982.0 C791.2 980.5 782.8 980.7 774.5 982.0 C766.2 983.3 773.7 983.3 774.5 986.0Z" fill="#FAF1BC"/>
<path d="M778.0 986.0 C778.7 988.5 778.0 987.0 780.0 989.0 C782.0 991.0 781.0 990.8 784.0 992.0 C787.0 993.2 786.0 993.0 789.0 992.5 C792.0 992.0 790.8 992.2 793.0 990.5 C795.2 988.8 794.4 989.5 795.5 987.5 C796.6 985.5 796.0 986.5 796.2 984.5 C796.4 982.5 802.1 982.5 796.0 981.5 C789.9 980.5 784.0 980.0 778.0 981.5 C772.0 983.0 777.3 983.5 778.0 986.0Z" fill="#D2F7F0"/>
<path d="M780.0 985.5 C780.3 987.7 780.0 986.5 782.0 988.0 C784.0 989.5 783.3 989.3 786.0 990.0 C788.7 990.7 787.7 990.7 790.0 990.0 C792.3 989.3 791.5 989.7 793.0 988.0 C794.5 986.3 794.5 987.2 794.5 985.0 C794.5 982.8 797.5 982.7 793.0 981.5 C788.5 980.3 785.3 980.2 781.0 981.5 C776.7 982.8 779.7 983.3 780.0 985.5Z" fill="#8ADFEE"/>
<path d="M782.5 985.0 C782.8 987.0 782.8 986.5 785.0 987.5 C787.2 988.5 786.8 988.3 789.0 988.0 C791.2 987.7 790.3 987.7 791.5 986.5 C792.7 985.3 793.0 986.2 792.5 984.5 C792.0 982.8 792.8 982.5 790.0 981.5 C787.2 980.5 786.5 980.3 784.0 981.5 C781.5 982.7 782.2 983.0 782.5 985.0Z" fill="#78B4E6"/>
<path d="M785.5 984.5 C786.0 985.7 786.5 985.8 788.0 986.0 C789.5 986.2 789.6 986.2 790.0 985.0 C790.4 983.8 790.4 983.3 789.2 982.5 C788.0 981.7 787.7 981.8 786.5 982.5 C785.3 983.2 785.0 983.3 785.5 984.5Z" fill="#4488E8"/>
<path d="M767.0 944.0 C769.7 938.3 771.0 942.0 776.0 943.0 C781.0 944.0 778.7 943.7 782.0 947.0 C785.3 950.3 783.3 948.7 786.0 953.0 C788.7 957.3 786.7 955.7 790.0 960.0 C793.3 964.3 793.3 962.0 796.0 966.0 C798.7 970.0 800.0 968.0 798.0 972.0 C796.0 976.0 797.3 976.0 790.0 978.0 C782.7 980.0 783.3 984.0 776.0 978.0 C768.7 972.0 771.0 971.3 768.0 960.0 C765.0 948.7 764.3 949.7 767.0 944.0Z" fill="#FCE882"/>
<path d="M774.0 965.0 C775.0 961.8 774.7 963.5 778.0 962.5 C781.3 961.5 780.3 961.7 784.0 962.0 C787.7 962.3 785.7 962.0 789.0 963.5 C792.3 965.0 791.3 964.0 794.0 966.5 C796.7 969.0 797.7 967.5 797.0 971.0 C796.3 974.5 797.7 974.7 792.0 977.0 C786.3 979.3 785.7 979.7 780.0 978.0 C774.3 976.3 777.0 976.3 775.0 972.0 C773.0 967.7 773.0 968.2 774.0 965.0Z" fill="#FAF1BC"/>
<path d="M880.0 788.8 C882.9 786.2 882.9 785.8 886.2 787.5 C889.6 789.2 889.6 789.2 890.0 793.8 C890.4 798.3 890.8 798.3 887.5 801.2 C884.2 804.2 883.3 804.6 880.0 802.5 C876.7 800.4 877.5 799.6 877.5 795.0 C877.5 790.4 877.1 791.2 880.0 788.8Z" fill="#D2F7F0"/>
<path d="M985.0 702.5 C985.2 695.8 984.2 698.3 987.5 692.5 C990.8 686.7 989.2 688.2 995.0 685.0 C1000.8 681.8 998.8 681.8 1005.0 683.0 C1011.2 684.2 1009.6 683.1 1013.8 688.8 C1017.9 694.4 1016.7 692.1 1017.5 700.0 C1018.3 707.9 1018.8 705.4 1016.2 712.5 C1013.8 719.6 1015.0 717.1 1010.0 721.2 C1005.0 725.4 1007.1 725.4 1001.2 725.0 C995.4 724.6 997.2 724.2 992.5 720.0 C987.8 715.8 989.5 718.3 987.0 712.5 C984.5 706.7 984.8 709.2 985.0 702.5Z" fill="#FAF1BC"/>
<path d="M988.8 702.5 C989.2 697.5 988.3 698.3 991.2 693.8 C994.2 689.2 992.9 690.7 997.5 688.8 C1002.1 686.8 1000.4 686.3 1005.0 688.0 C1009.6 689.7 1008.6 688.5 1011.2 693.8 C1013.9 699.0 1013.4 697.1 1013.0 703.8 C1012.6 710.4 1013.5 709.2 1010.0 713.8 C1006.5 718.3 1007.5 717.5 1002.5 717.5 C997.5 717.5 999.2 716.7 995.0 713.8 C990.8 710.8 992.1 712.5 990.0 708.8 C987.9 705.0 988.3 707.5 988.8 702.5Z" fill="#D2F7F0"/>
<path d="M993.8 701.2 C994.1 697.9 993.2 698.8 995.5 696.2 C997.8 693.8 997.2 693.5 1000.5 693.8 C1003.8 694.0 1003.3 693.7 1005.5 697.0 C1007.7 700.3 1007.6 699.6 1007.0 703.8 C1006.4 707.9 1006.8 707.6 1003.8 709.5 C1000.8 711.4 1001.1 710.6 998.0 709.5 C994.9 708.4 995.9 709.0 994.5 706.2 C993.1 703.5 993.4 704.6 993.8 701.2Z" fill="#8ADFEE"/>
<path d="M705.0 657.5 C705.4 652.2 704.2 653.6 707.5 648.8 C710.8 643.9 709.6 645.1 715.0 643.0 C720.4 640.9 718.3 640.6 723.8 642.5 C729.2 644.4 728.3 643.3 731.2 648.8 C734.2 654.2 733.3 652.5 732.5 658.8 C731.7 665.0 732.9 663.1 728.8 667.5 C724.6 671.9 725.8 671.2 720.0 672.0 C714.2 672.8 715.8 672.5 711.2 670.0 C706.7 667.5 708.3 668.7 706.2 664.5 C704.2 660.3 704.6 662.8 705.0 657.5Z" fill="#D2F7F0"/>
<path d="M717.0 656.2 C717.0 653.4 716.8 653.4 718.8 652.0 C720.8 650.6 720.9 650.6 723.0 652.0 C725.1 653.4 725.0 653.4 725.0 656.2 C725.0 659.1 725.1 659.1 723.0 660.5 C720.9 661.9 720.8 661.9 718.8 660.5 C716.8 659.1 717.0 659.1 717.0 656.2Z" fill="#8ADFEE"/>
<path d="M823.8 655.0 C824.2 649.2 822.9 650.2 826.2 645.0 C829.6 639.8 828.3 641.2 833.8 639.5 C839.2 637.8 837.2 637.8 842.5 640.0 C847.8 642.2 846.6 640.8 849.5 646.2 C852.4 651.7 851.9 650.0 851.2 656.2 C850.6 662.5 851.7 660.4 847.5 665.0 C843.3 669.6 844.6 669.0 838.8 670.0 C832.9 671.0 834.6 670.5 830.0 668.0 C825.4 665.5 827.1 666.8 825.0 662.5 C822.9 658.2 823.3 660.8 823.8 655.0Z" fill="#D2F7F0"/>
<path d="M830.0 655.0 C830.4 650.8 829.6 651.3 832.5 648.0 C835.4 644.7 834.6 644.8 838.8 645.0 C842.9 645.2 842.2 644.8 845.0 648.8 C847.8 652.8 847.8 652.0 847.0 657.0 C846.2 662.0 846.3 661.2 842.5 663.8 C838.7 666.2 839.2 665.6 835.5 664.5 C831.8 663.4 833.1 663.7 831.2 660.5 C829.4 657.3 829.6 659.2 830.0 655.0Z" fill="#8ADFEE"/>
<path d="M837.0 655.5 C837.5 653.2 837.7 652.7 839.5 652.5 C841.3 652.3 841.9 652.7 842.5 655.0 C843.1 657.3 842.8 658.0 841.2 659.5 C839.8 661.0 839.4 660.8 838.0 659.5 C836.6 658.2 836.5 657.8 837.0 655.5Z" fill="#78B4E6"/>
<path d="M907.5 645.0 C907.8 639.8 907.1 641.5 911.2 637.5 C915.4 633.5 913.8 633.8 920.0 633.0 C926.2 632.2 924.6 631.8 930.0 635.0 C935.4 638.2 934.6 636.7 936.2 642.5 C937.9 648.3 937.9 647.1 935.0 652.5 C932.1 657.9 933.3 656.9 927.5 658.8 C921.7 660.6 923.2 659.9 917.5 658.0 C911.8 656.1 913.8 657.3 910.5 653.0 C907.2 648.7 907.2 650.2 907.5 645.0Z" fill="#D2F7F0"/>
<path d="M919.5 645.0 C919.8 641.5 919.3 641.8 922.0 639.5 C924.7 637.2 924.0 637.0 927.5 638.0 C931.0 639.0 931.0 638.9 932.5 642.5 C934.0 646.1 933.8 645.6 932.0 648.8 C930.2 651.9 930.6 651.6 927.0 652.0 C923.4 652.4 923.8 652.3 921.2 650.0 C918.8 647.7 919.2 648.5 919.5 645.0Z" fill="#8ADFEE"/>
<path d="M726.2 720.0 C726.7 713.8 725.8 715.2 730.0 710.0 C734.2 704.8 732.1 706.6 738.8 704.5 C745.4 702.4 742.9 702.3 750.0 703.8 C757.1 705.2 755.0 703.8 760.0 708.8 C765.0 713.8 763.8 711.7 765.0 718.8 C766.2 725.8 766.7 723.8 763.8 730.0 C760.8 736.2 762.1 734.2 756.2 737.5 C750.4 740.8 752.9 740.4 746.2 740.0 C739.6 739.6 742.1 740.0 736.2 736.2 C730.4 732.5 732.1 734.2 728.8 728.8 C725.4 723.3 725.8 726.2 726.2 720.0Z" fill="#D2F7F0"/>
<path d="M732.5 721.2 C731.7 715.4 732.0 717.2 735.5 713.0 C739.0 708.8 737.3 709.8 743.0 708.8 C748.7 707.8 747.0 707.5 752.5 710.0 C758.0 712.5 756.8 711.2 759.5 716.2 C762.2 721.2 762.0 719.6 760.5 725.0 C759.0 730.4 759.8 729.3 755.0 732.5 C750.2 735.7 751.9 735.2 746.2 734.5 C740.6 733.8 742.6 734.9 738.0 730.5 C733.4 726.1 733.3 727.1 732.5 721.2Z" fill="#8ADFEE"/>
<path d="M738.8 722.5 C739.2 719.2 738.3 719.2 741.2 716.2 C744.2 713.3 743.3 713.5 747.5 713.8 C751.7 714.0 751.1 713.7 753.8 717.0 C756.4 720.3 756.3 719.8 755.5 723.8 C754.7 727.7 754.9 726.8 751.2 728.8 C747.6 730.7 748.2 730.3 744.5 729.5 C740.8 728.7 741.9 728.6 740.0 726.2 C738.1 723.9 738.3 725.8 738.8 722.5Z" fill="#78B4E6"/>
<path d="M747.0 722.5 C746.8 721.0 747.8 720.3 749.5 720.5 C751.2 720.7 751.8 721.5 752.0 723.0 C752.2 724.5 751.7 725.2 750.0 725.0 C748.3 724.8 747.2 724.0 747.0 722.5Z" fill="#4488E8"/>
<path d="M806.2 752.5 C806.7 748.6 805.8 749.5 808.8 747.0 C811.7 744.5 811.1 744.4 815.0 745.0 C818.9 745.6 818.2 745.0 820.5 748.8 C822.8 752.5 823.0 751.7 822.0 756.2 C821.0 760.8 821.1 760.0 817.5 762.5 C813.9 765.0 814.6 765.0 811.2 763.8 C807.9 762.5 809.2 762.5 807.5 758.8 C805.8 755.0 805.8 756.4 806.2 752.5Z" fill="#D2F7F0"/>
<path d="M815.0 776.2 C815.4 772.2 814.8 772.8 817.5 770.0 C820.2 767.2 819.5 767.2 823.0 768.0 C826.5 768.8 825.8 768.5 828.0 772.5 C830.2 776.5 830.1 775.4 829.5 780.0 C828.9 784.6 829.4 784.2 826.2 786.2 C823.1 788.3 823.3 787.7 820.0 786.2 C816.7 784.8 817.9 785.3 816.2 782.0 C814.6 778.7 814.6 780.2 815.0 776.2Z" fill="#D2F7F0"/>
<path d="M818.8 775.0 C819.4 772.6 819.3 771.9 821.2 771.2 C823.2 770.6 823.2 770.8 824.5 773.0 C825.8 775.2 825.8 775.7 825.0 778.0 C824.2 780.3 823.9 779.8 822.0 780.0 C820.1 780.2 820.3 780.2 819.2 778.5 C818.2 776.8 818.1 777.4 818.8 775.0Z" fill="#8ADFEE"/>
<path d="M876.8 796.2 C877.2 793.1 876.8 793.2 879.5 791.2 C882.2 789.3 881.7 789.4 885.0 790.5 C888.3 791.6 888.5 791.3 889.5 794.5 C890.5 797.7 890.2 797.3 888.0 800.0 C885.8 802.7 886.2 802.2 883.0 802.5 C879.8 802.8 880.3 802.8 878.2 800.8 C876.2 798.7 876.3 799.4 876.8 796.2Z" fill="#D2F7F0"/>
<path d="M905.0 755.0 C905.4 749.6 903.8 750.2 908.8 745.0 C913.8 739.8 912.1 741.2 920.0 739.5 C927.9 737.8 925.0 738.2 932.5 740.0 C940.0 741.8 935.8 740.0 942.5 745.0 C949.2 750.0 947.5 747.5 952.5 755.0 C957.5 762.5 956.7 760.4 957.5 767.5 C958.3 774.6 959.2 772.5 955.0 776.2 C950.8 780.0 951.7 779.2 945.0 778.8 C938.3 778.3 941.7 777.9 935.0 775.0 C928.3 772.1 931.7 773.3 925.0 770.0 C918.3 766.7 920.8 767.9 915.0 765.0 C909.2 762.1 910.8 764.6 907.5 761.2 C904.2 757.9 904.6 760.4 905.0 755.0Z" fill="#FAF1BC"/>
<path d="M913.8 756.2 C914.2 753.3 912.9 753.3 917.5 752.5 C922.1 751.7 920.8 751.2 927.5 753.8 C934.2 756.2 930.8 755.8 937.5 760.0 C944.2 764.2 943.2 762.1 947.5 766.2 C951.8 770.4 951.3 769.6 950.5 772.5 C949.7 775.4 950.2 775.4 945.0 775.0 C939.8 774.6 941.7 774.2 935.0 771.2 C928.3 768.3 931.2 769.6 925.0 766.2 C918.8 762.9 920.0 764.6 916.2 761.2 C912.5 757.9 913.3 759.2 913.8 756.2Z" fill="#D2F7F0"/>
<path d="M935.0 766.2 C935.6 764.2 935.4 763.3 938.8 763.8 C942.1 764.2 942.2 764.8 945.0 767.5 C947.8 770.2 947.8 770.2 947.0 772.0 C946.2 773.8 945.8 773.7 942.5 773.0 C939.2 772.3 939.5 772.2 937.0 770.0 C934.5 767.8 934.4 768.3 935.0 766.2Z" fill="#8ADFEE"/>
<path d="M698.8 791.2 C697.9 786.7 698.3 787.9 701.2 785.0 C704.2 782.1 702.9 782.9 707.5 782.5 C712.1 782.1 711.0 781.4 715.0 783.8 C719.0 786.1 718.7 785.3 719.5 789.5 C720.3 793.7 720.2 792.9 717.5 796.2 C714.8 799.6 715.8 798.7 711.2 799.5 C706.7 800.3 707.9 801.5 703.8 798.8 C699.6 796.0 699.6 795.8 698.8 791.2Z" fill="#D2F7F0"/>
<path d="M655.0 862.5 C655.8 853.8 654.6 856.7 658.8 847.5 C662.9 838.3 659.6 841.7 667.5 835.0 C675.4 828.3 671.7 830.4 682.5 827.5 C693.3 824.6 690.0 824.6 700.0 826.2 C710.0 827.9 706.2 825.4 712.5 832.5 C718.8 839.6 717.1 836.7 718.8 847.5 C720.4 858.3 720.4 854.2 717.5 865.0 C714.6 875.8 716.7 872.1 710.0 880.0 C703.3 887.9 705.8 884.6 697.5 888.8 C689.2 892.9 693.3 892.1 685.0 892.5 C676.7 892.9 680.0 893.3 672.5 890.0 C665.0 886.7 667.9 887.9 662.5 882.5 C657.1 877.1 658.8 880.4 656.2 873.8 C653.8 867.1 654.2 871.2 655.0 862.5Z" fill="#FAF1BC"/>
<path d="M657.5 872.5 C657.5 865.8 656.7 867.1 660.0 857.5 C663.3 847.9 660.8 851.2 667.5 843.8 C674.2 836.2 670.8 838.9 680.0 835.0 C689.2 831.1 686.2 831.2 695.0 832.0 C703.8 832.8 700.8 831.5 706.2 837.5 C711.7 843.5 710.0 840.8 711.2 850.0 C712.5 859.2 712.9 855.8 710.0 865.0 C707.1 874.2 709.2 870.8 702.5 877.5 C695.8 884.2 698.3 882.1 690.0 885.0 C681.7 887.9 685.0 887.5 677.5 886.2 C670.0 885.0 673.3 884.2 667.5 881.2 C661.7 878.3 663.3 880.4 660.0 877.5 C656.7 874.6 657.5 879.2 657.5 872.5Z" fill="#D2F7F0"/>
<path d="M666.2 865.0 C666.7 858.3 665.8 860.4 670.0 853.8 C674.2 847.1 672.1 849.2 678.8 845.0 C685.4 840.8 682.9 841.7 690.0 841.2 C697.1 840.8 695.2 839.6 700.0 843.8 C704.8 847.9 703.7 846.2 704.5 853.8 C705.3 861.2 705.7 858.8 702.5 866.2 C699.3 873.8 700.8 871.2 695.0 876.2 C689.2 881.2 691.7 880.2 685.0 881.2 C678.3 882.3 680.4 882.0 675.0 879.5 C669.6 877.0 671.7 878.6 668.8 873.8 C665.8 868.9 665.8 871.7 666.2 865.0Z" fill="#8ADFEE"/>
<path d="M675.5 862.5 C676.2 857.9 675.2 859.2 678.8 855.0 C682.3 850.8 681.2 851.2 686.2 850.0 C691.2 848.8 690.2 848.3 693.8 851.2 C697.3 854.2 696.6 853.3 697.0 858.8 C697.4 864.2 697.8 862.8 695.0 867.5 C692.2 872.2 693.3 870.9 688.8 873.0 C684.2 875.1 685.2 875.2 681.2 873.8 C677.2 872.3 678.7 872.5 676.8 868.8 C674.8 865.0 674.8 867.1 675.5 862.5Z" fill="#78B4E6"/>
<path d="M683.8 862.0 C684.4 860.2 684.3 860.0 686.2 859.5 C688.2 859.0 688.2 859.1 689.5 860.5 C690.8 861.9 690.8 861.8 690.0 863.8 C689.2 865.7 688.9 865.8 687.0 866.2 C685.1 866.7 685.3 866.4 684.2 865.0 C683.2 863.6 683.1 863.8 683.8 862.0Z" fill="#4488E8"/>
<path d="M536.2 670.0 C536.2 664.6 535.4 666.1 538.8 661.2 C542.1 656.4 540.8 657.4 546.2 655.5 C551.7 653.6 549.6 653.6 555.0 655.5 C560.4 657.4 559.0 656.4 562.5 661.2 C566.0 666.1 565.5 664.2 565.5 670.0 C565.5 675.8 566.0 674.4 562.5 678.8 C559.0 683.1 560.8 681.8 555.0 683.0 C549.2 684.2 550.4 684.3 545.0 682.5 C539.6 680.7 541.7 681.7 538.8 677.5 C535.8 673.3 536.2 675.4 536.2 670.0Z" fill="#8ADFEE"/>
<path d="M538.8 670.0 C539.0 665.7 538.3 666.7 541.2 662.5 C544.2 658.3 542.9 659.0 547.5 657.5 C552.1 656.0 550.4 655.9 555.0 658.0 C559.6 660.1 558.6 659.3 561.2 663.8 C563.9 668.2 563.6 666.5 563.0 671.2 C562.4 676.0 563.0 674.9 559.5 678.0 C556.0 681.1 557.3 680.0 552.5 680.5 C547.7 681.0 549.0 681.2 545.0 679.5 C541.0 677.8 542.6 678.7 540.5 675.5 C538.4 672.3 538.5 674.3 538.8 670.0Z" fill="#78B4E6"/>
<path d="M542.5 669.5 C542.2 666.5 542.4 667.2 544.5 665.5 C546.6 663.8 545.9 663.8 548.8 664.2 C551.6 664.8 551.3 664.4 553.0 667.0 C554.7 669.6 554.6 669.3 553.8 672.0 C552.9 674.7 553.2 674.2 550.5 675.0 C547.8 675.8 548.2 676.3 545.5 674.5 C542.8 672.7 542.8 672.5 542.5 669.5Z" fill="#4488E8"/>
<path d="M606.2 698.8 C606.0 693.2 605.8 695.0 608.8 691.2 C611.7 687.5 610.8 687.9 615.0 687.5 C619.2 687.1 618.3 686.7 621.2 690.0 C624.2 693.3 623.8 692.1 623.8 697.5 C623.8 702.9 624.2 701.7 621.2 706.2 C618.3 710.8 618.9 710.7 615.0 711.2 C611.1 711.8 612.4 712.2 609.5 708.0 C606.6 703.8 606.5 704.3 606.2 698.8Z" fill="#D2F7F0"/>
<path d="M608.8 698.0 C609.0 694.2 609.0 695.0 611.2 692.5 C613.5 690.0 612.8 690.3 615.5 690.5 C618.2 690.7 617.6 690.2 619.5 693.0 C621.4 695.8 621.5 695.2 621.2 698.8 C621.0 702.3 621.0 701.2 618.8 703.8 C616.5 706.2 617.2 706.2 614.5 706.2 C611.8 706.2 612.4 706.5 610.5 703.8 C608.6 701.0 608.5 701.8 608.8 698.0Z" fill="#8ADFEE"/>
<path d="M611.2 697.0 C611.7 694.8 611.6 695.1 613.2 693.8 C614.9 692.4 614.4 692.2 616.2 693.0 C618.1 693.8 618.3 693.8 618.8 696.2 C619.2 698.8 618.9 698.6 617.5 700.5 C616.1 702.4 616.3 702.0 614.5 702.0 C612.7 702.0 613.1 702.2 612.0 700.5 C610.9 698.8 610.8 699.2 611.2 697.0Z" fill="#78B4E6"/>
<path d="M614.0 695.5 C614.2 694.1 614.9 694.0 616.0 694.5 C617.1 695.0 617.4 695.6 617.2 697.0 C617.1 698.4 616.6 699.2 615.5 698.8 C614.4 698.2 613.8 696.9 614.0 695.5Z" fill="#4488E8"/>
<path d="M611.2 663.8 C611.8 661.4 611.2 661.4 613.8 660.0 C616.2 658.6 616.0 658.5 618.8 659.5 C621.5 660.5 621.4 660.3 622.0 663.0 C622.6 665.7 622.7 665.6 620.5 667.5 C618.3 669.4 618.3 668.9 615.5 668.8 C612.7 668.6 613.4 668.7 612.0 667.0 C610.6 665.3 610.7 666.1 611.2 663.8Z" fill="#D2F7F0"/>
<path d="M642.5 785.0 C643.3 775.8 642.1 778.3 645.0 770.0 C647.9 761.7 646.2 764.2 651.2 760.0 C656.2 755.8 654.6 755.8 660.0 757.5 C665.4 759.2 664.6 757.5 667.5 765.0 C670.4 772.5 668.8 769.2 668.8 780.0 C668.8 790.8 668.8 787.5 667.5 797.5 C666.2 807.5 667.9 803.3 665.0 810.0 C662.1 816.7 663.8 815.4 658.8 817.5 C653.8 819.6 654.8 819.6 650.0 816.2 C645.2 812.9 647.0 813.8 644.5 807.5 C642.0 801.2 643.2 805.0 642.5 797.5 C641.8 790.0 641.7 794.2 642.5 785.0Z" fill="#D2F7F0"/>
<path d="M1035.5 616.0 C1037.2 613.4 1037.0 613.2 1042.5 611.5 C1048.0 609.8 1046.8 610.3 1052.0 611.0 C1057.2 611.7 1056.0 610.8 1058.0 613.5 C1060.0 616.2 1062.3 617.0 1058.0 619.0 C1053.7 621.0 1051.8 619.4 1045.0 619.5 C1038.2 619.6 1040.7 620.4 1037.5 619.2 C1034.3 618.1 1033.8 618.6 1035.5 616.0Z" fill="#FFFFFF"/>
</g>
<g clip-path="url(#cn)"><path d="M350.0 445.0 L362.5 446.2 L370.0 450.0 L380.0 447.5 L381.2 437.5 L392.5 435.0 L395.0 425.0 L386.2 417.5 L385.0 395.0 L412.5 393.8 L445.0 395.0 L460.0 396.2 L480.0 403.8 L490.0 407.5 L500.0 420.0 L510.0 432.5 L515.0 435.0 L522.5 416.2 L530.0 417.5 L542.5 427.5 L550.0 425.0 L562.5 432.5 L580.0 447.5 L590.0 457.5 L602.5 467.5 L615.0 472.5 L622.5 485.0 L627.5 500.0 L632.5 512.5 L625.0 522.5 L615.0 530.0 L605.0 540.0 L600.0 550.0 L597.5 562.5 M445.0 395.0 L448.8 375.0 L452.5 362.5 L475.0 352.5 L485.0 347.5 M532.0 325.0 L525.0 328.8 L522.5 340.0 L510.0 343.8 L495.0 347.5 L485.0 350.0 M545.0 327.0 L547.5 337.5 L550.0 350.0 L552.5 358.8 L547.5 362.5 M547.5 360.0 L555.0 382.5 L557.5 387.5 L575.0 382.5 L587.5 382.5 L592.5 390.0 L585.0 400.0 L575.0 406.2 L590.0 420.0 L600.0 425.0 L597.5 432.5 L615.0 445.0 L617.5 435.0 L637.5 436.2 L660.0 430.0 L663.8 440.0 L657.5 450.0 L647.5 455.0 L645.0 465.0 L655.0 472.5 L665.0 480.0 L675.0 485.0 M350.0 530.0 L365.0 530.0 L372.5 542.5 L387.5 550.0 L400.0 557.5 L410.0 570.0 L425.0 570.0 L437.5 580.0 L445.0 590.0 L457.5 600.0 L467.5 605.0 L472.5 607.5 L485.0 600.0 L495.0 587.5 L492.5 575.0 L500.0 567.5 L500.0 555.0 L507.5 550.0 L515.0 553.8 L522.5 562.5 L525.0 575.0 L535.0 585.0 L545.0 592.5 L552.5 590.0 L557.5 597.5 L567.5 600.0 L575.0 596.2 L582.5 590.0 L592.5 591.2 L597.5 582.5 L590.0 572.5 L580.0 565.0 L576.2 557.5 L582.5 555.0 L590.0 560.0 L597.5 563.8 L607.5 557.5 L615.0 565.0 L627.5 570.0 L632.5 580.0 L645.0 582.5 L652.5 592.5 L650.0 605.0 L662.5 610.0 L675.0 612.5 M110.0 395.0 L135.0 390.0 L165.0 381.0 L185.0 395.0 L210.0 397.5 L220.0 410.0 L240.0 416.0 L270.0 424.0 L295.0 420.0 L320.0 427.5 L340.0 435.0 L352.5 450.0 L380.0 459.0 L385.0 435.0 L385.0 395.0 M352.5 450.0 L342.5 470.0 L336.0 500.0 L347.5 530.0 L351.0 531.0 M495.0 587.5 L500.0 592.5 L507.5 597.5 L512.5 610.0 L517.5 622.5 L512.5 630.0 L517.5 642.5 L516.2 657.5 L513.8 675.0 L511.2 690.0 L512.5 702.5 L515.0 717.5 M515.0 717.5 L520.0 705.0 L525.0 700.0 L532.5 712.5 L530.0 722.5 L535.0 730.0 L545.0 730.0 L550.0 742.5 L555.0 755.0 L560.0 765.0 L562.5 777.5 L570.0 786.2 L580.0 783.8 L590.0 782.5 L597.5 780.0 L600.0 765.0 L597.5 752.5 L610.0 745.0 L617.5 732.5 L627.5 722.5 L637.5 725.0 L640.0 740.0 L650.0 742.5 L657.5 737.5 L662.5 747.5 M515.0 717.5 L505.0 715.0 L500.0 695.0 L497.5 712.5 L490.0 712.5 M946.0 86.0 L940.0 100.0 L952.0 102.0 L960.0 106.0 L968.0 120.0 L978.0 124.0 L992.0 118.0 L1000.0 110.0 L1012.0 112.0 L1016.0 132.0 L1012.0 164.0 L1010.0 192.0 L1000.0 186.0 L992.0 200.0 L982.0 216.0 L988.0 224.0 L1000.0 226.0 L1004.0 232.0 L996.0 236.0 M996.0 236.0 L1000.0 240.0 L1016.0 240.0 L1024.0 248.0 L1040.0 252.0 L1056.0 248.0 L1068.0 252.0 L1080.0 258.0 L1092.0 270.0 L1100.0 266.0 L1112.0 276.0 L1124.0 270.0 L1132.0 264.0 L1144.0 268.0 L1156.0 266.0 M996.0 236.0 L988.0 248.0 L980.0 258.0 L988.0 268.0 L992.0 284.0 L1004.0 288.0 L1016.0 296.0 L1020.0 308.0 M1020.0 308.0 L1036.0 304.0 L1044.0 316.0 L1048.0 312.0 L1056.0 320.0 L1064.0 328.0 L1076.0 328.0 L1088.0 336.0 L1100.0 334.0 L1116.0 338.0 M1020.0 308.0 L1016.0 320.0 L1000.0 328.0 L984.0 344.0 L968.0 364.0 L960.0 352.0 L952.0 356.0 L956.0 372.0 L952.0 388.0 L964.0 396.0 L972.0 402.0 M952.0 356.0 L936.0 356.0 L924.0 348.0 L908.0 360.0 L892.0 364.0 L876.0 368.0 L864.0 368.0 L856.0 384.0 L852.0 400.0 M892.0 400.0 L908.0 390.0 L920.0 396.0 L928.0 408.0 L920.0 420.0 L912.0 430.0 L900.0 434.0 L892.0 424.0 L892.0 400.0 M928.0 408.0 L936.0 416.0 L932.0 432.0 L936.0 448.0 L924.0 452.0 L914.0 444.0 L912.0 430.0 M800.0 436.0 L796.0 446.0 L791.0 470.0 L789.0 500.0 L792.0 524.0 L793.0 540.0 L788.0 556.0 L787.0 564.0 M800.0 436.0 L788.0 438.0 L780.0 442.0 L770.0 448.0 L760.0 462.0 L756.0 470.0 L754.0 478.0 L742.0 482.0 L732.0 478.0 L724.0 486.0 M724.0 486.0 L723.0 500.0 L708.0 504.0 L704.0 516.0 L714.0 520.0 L710.0 532.0 L720.0 544.0 M700.0 442.0 L712.0 438.0 L718.0 446.0 L712.0 460.0 L704.0 460.0 L708.0 472.0 L724.0 486.0 M724.0 486.0 L736.0 496.0 L740.0 504.0 L748.0 512.0 L752.0 520.0 L750.0 540.0 L730.0 548.0 L732.0 552.0 L720.0 554.0 M870.0 418.0 L868.0 430.0 L858.0 444.0 L856.0 452.0 L852.0 462.0 L858.0 474.0 L864.0 480.0 L860.0 496.0 L854.0 508.0 L860.0 515.0 M800.0 436.0 L808.0 432.0 L820.0 420.0 L828.0 416.0 L840.0 412.0 L852.0 412.0 L860.0 418.0 L870.0 418.0 L876.0 412.0 L880.0 402.0 M787.0 564.0 L796.0 562.0 L812.0 556.0 L824.0 552.0 L828.0 546.0 L840.0 544.0 L852.0 538.0 L860.0 530.0 L860.0 515.0 M860.0 515.0 L870.0 518.0 L880.0 520.0 L892.0 518.0 L896.0 524.0 L908.0 518.0 M892.0 518.0 L894.0 508.0 L900.0 496.0 L906.0 488.0 L912.0 480.0 L918.0 474.0 L926.0 468.0 L936.0 462.0 M896.0 524.0 L888.0 534.0 L882.0 544.0 L892.0 550.0 L900.0 554.0 L912.0 558.0 L920.0 552.0 L920.0 548.0 L940.0 550.0 L950.0 554.0 L960.0 548.0 M787.0 564.0 L792.0 574.0 L794.0 586.0 L804.0 600.0 L808.0 608.0 L816.0 620.0 M768.0 602.0 L780.0 600.0 L794.0 598.0 L804.0 600.0 M920.0 552.0 L918.0 564.0 L908.0 572.0 L904.0 584.0 L900.0 592.0 L892.0 600.0 L900.0 608.0 L910.0 616.0 M600.0 586.0 L608.0 568.0 L626.0 566.0 L628.0 576.0 L638.0 580.0 L648.0 588.0 L652.0 596.0 L650.0 606.0 L658.0 612.0 L668.0 613.0 L676.0 606.0 L688.0 608.0 L686.0 600.0 L684.0 594.0 L692.0 588.0 L702.0 590.0 L704.0 572.0 L700.0 562.0 L704.0 550.0 L720.0 554.0 L730.0 552.0 L730.0 544.0 L748.0 538.0 L749.0 520.0 M688.0 608.0 L700.0 614.0 L712.0 612.0 L720.0 620.0 L730.0 628.0 L744.0 629.0 L740.0 636.0 L746.0 640.0 L736.0 652.0 L730.0 660.0 L720.0 670.0 L712.0 680.0 L702.0 678.0 L694.0 680.0 L686.0 674.0 L676.0 676.0 L672.0 686.0 L666.0 696.0 L670.0 706.0 L676.0 712.0 L680.0 720.0 L688.0 728.0 L694.0 720.0 L704.0 722.0 L712.0 716.0 L716.0 708.0 L724.0 712.0 M744.0 629.0 L756.0 636.0 L770.0 640.0 L772.0 624.0 L770.0 612.0 L776.0 608.0 L784.0 614.0 L780.0 604.0 L770.0 602.0 L780.0 600.0 L792.0 600.0 L804.0 602.0 L810.0 608.0 L820.0 618.0 L830.0 622.0 L850.0 624.0 L860.0 622.0 M770.0 640.0 L780.0 648.0 L784.0 660.0 L780.0 668.0 L772.0 674.0 L760.0 672.0 L752.0 676.0 L744.0 678.0 L742.0 690.0 L748.0 698.0 L760.0 700.0 L768.0 698.0 M788.0 564.0 L792.0 576.0 L800.0 590.0 L804.0 600.0 M805.0 600.0 L812.5 612.5 L830.0 622.5 L850.0 625.0 L865.0 627.5 L870.0 637.5 L887.5 637.5 L900.0 642.5 L910.0 632.5 L916.2 615.0 L905.0 610.0 L897.5 600.0 M763.8 702.5 L775.0 695.0 L790.0 696.2 L795.0 687.5 L810.0 690.0 L825.0 692.5 L835.0 698.8 L845.0 702.5 L852.5 695.0 L860.0 700.0 L867.5 692.5 L872.5 705.0 L877.5 712.5 L882.5 707.5 M882.5 707.5 L892.5 700.0 L905.0 695.0 L917.5 687.5 L928.8 683.8 M882.5 707.5 L883.8 720.0 L877.5 732.5 L872.5 750.0 L877.5 762.5 L880.0 775.0 L885.0 790.0 L886.2 807.5 L885.0 817.5 M763.8 702.5 L762.5 715.0 L765.0 730.0 L762.5 745.0 L766.2 755.0 L755.0 770.0 L750.0 772.5 L762.5 775.0 L767.5 782.5 L765.0 797.5 L767.5 802.5 M767.5 802.5 L777.5 797.5 L782.5 800.0 L792.5 795.0 L802.5 797.5 L812.5 795.0 L817.5 807.5 L807.5 820.0 L810.0 830.0 L820.0 840.0 L830.0 835.0 L840.0 830.0 L840.0 825.0 L855.0 823.8 L860.0 820.0 L872.5 815.0 L885.0 817.5 M885.0 817.5 L895.0 820.0 L905.0 820.0 L907.5 825.0 L897.5 832.5 L895.0 837.5 L910.0 835.0 L920.0 832.5 L930.0 830.0 L937.5 825.0 L940.0 812.5 L942.5 800.0 L947.5 790.0 L950.0 775.0 L960.0 762.5 L962.5 747.5 L972.5 737.5 L980.0 732.5 L992.5 722.5 L990.0 712.5 L985.0 705.0 L980.0 700.0 M937.5 825.0 L945.0 827.5 L955.0 830.0 L962.5 832.5 L967.5 845.0 L970.0 860.0 M926.2 560.0 L923.8 570.0 L912.5 577.5 L905.0 572.5 L900.0 587.5 L905.0 597.5 L892.5 602.5 L900.0 612.5 L912.5 612.5 L917.5 627.5 L910.0 635.0 L915.0 645.0 L920.0 660.0 L925.0 672.5 L930.0 682.5 M977.5 602.5 L980.0 595.0 L990.0 592.5 L987.5 602.5 L980.0 605.0 L977.5 617.5 L987.5 620.0 L985.0 635.0 L995.0 637.5 L1005.0 638.8 M1005.0 638.8 L1020.0 637.5 L1030.0 635.0 L1040.0 642.5 L1042.5 632.5 L1040.0 622.5 M930.0 682.5 L940.0 680.0 L947.5 690.0 L957.5 685.0 L965.0 690.0 L980.0 688.8 L990.0 677.5 L995.0 665.0 L1002.5 660.0 L1007.5 642.5 L1005.0 638.8 M992.5 722.5 L1000.0 725.0 L1005.0 740.0 L1015.0 742.5 L1022.5 735.0 L1027.5 742.5 L1040.0 745.0 L1047.5 740.0 M632.5 800.0 L630.0 810.0 L640.0 815.0 L642.5 825.0 L635.0 832.5 L632.5 840.0 L647.5 832.5 L655.0 827.5 L667.5 835.0 L677.5 830.0 L687.5 827.5 L700.0 822.5 L702.5 815.0 L710.0 815.0 L720.0 825.0 L730.0 827.5 L737.5 817.5 L745.0 820.0 L752.5 810.0 L765.0 800.0 M632.5 840.0 L637.5 847.5 L647.5 845.0 L652.5 855.0 L667.5 857.5 L675.0 862.5 L672.5 872.5 L665.0 875.0 L655.0 880.0 M840.0 830.0 L835.0 837.5 L832.5 850.0 L830.0 865.0 L822.5 875.0 L817.5 887.5 L812.5 900.0 L805.0 905.0 L797.5 910.0 L792.5 917.5 L790.0 927.5 L780.0 932.5 L777.5 941.2 M560.0 760.0 L557.5 770.0 L567.5 785.0 L582.5 782.5 L595.0 780.0 L600.0 765.0 L597.5 760.0" fill="none" stroke="#DE78DE" stroke-width="0.9"/></g>
<path d="M115.5 375.0 L118.8 362.5 L124.5 353.8 L117.5 350.0 L110.0 342.5 L102.5 326.2 L95.0 323.8 L93.8 315.0 L100.0 307.5 L98.8 300.0 L95.0 292.5 L96.2 288.8 L87.5 280.0 L83.2 275.0 L87.0 272.5 L91.2 277.0 L96.2 277.0 L97.0 266.2 L102.5 260.0 L103.8 255.0 L110.0 250.0 L108.8 243.8 L102.5 238.8 L96.2 237.5 L94.5 228.8 L100.8 227.5 L100.8 216.2 L112.5 213.8 L117.5 208.0 L125.0 208.8 L135.0 210.0 L140.0 208.0 L142.5 212.5 L153.8 213.8 L152.0 222.0 L160.0 225.0 L163.8 227.5 L170.0 225.0 L177.5 220.0 L190.0 221.2 L200.0 221.2 L206.2 222.0 L208.8 226.2 L225.0 227.5 L240.0 228.8 L245.0 226.2 L251.2 225.0 L253.0 217.5 L258.8 213.8 L263.8 215.0 L262.5 210.0 L271.2 208.8 L273.8 197.5 L275.8 185.0 L281.2 175.0 L278.0 166.2 L283.8 164.5 L293.8 167.0 L302.5 170.0 L312.5 171.2 L315.0 177.5 L322.5 181.2 L322.0 172.5 L325.0 166.2 L335.0 157.5 L343.8 148.8 L352.5 141.2 L355.0 143.8 L361.2 152.5 L375.0 158.8 L383.8 162.5 L390.0 161.2 L393.8 153.8 L397.5 140.0 L403.8 135.0 L415.0 136.2 L422.5 132.5 L423.8 128.0 L430.0 125.5 L436.2 130.0 L441.2 131.2 L438.8 143.8 L443.8 148.8 L445.0 156.2 L451.2 163.8 L457.5 167.5 L460.0 172.5 L463.8 175.0 L466.2 181.2 L465.8 192.5 L469.2 198.8 L468.0 207.5 L465.0 212.5 L463.8 220.0 L456.2 223.8 L453.8 230.0 L455.0 236.2 L460.0 240.0 L467.5 245.0 L475.0 250.0 L486.2 252.5 L493.8 255.0 L501.2 261.2 L507.5 272.5 L515.0 280.0 L522.5 283.0 L523.8 290.0 L526.2 300.0 L527.5 311.2 L531.2 318.8 L532.0 325.0 L545.0 327.0 L557.5 331.2 L567.5 335.0 L587.5 341.2 L605.0 340.5 L617.5 343.8 L627.5 347.5 L632.5 355.0 L640.0 360.0 L650.0 364.5 L650.0 363.8 L660.0 368.8 L670.0 372.5 L677.5 372.5 L678.8 377.0 L687.5 375.0 L700.0 371.2 L715.0 366.2 L730.0 362.5 L737.5 360.5 L755.0 361.2 L770.0 360.0 L782.5 356.2 L790.0 351.2 L795.0 343.8 L802.5 336.2 L810.0 332.5 L815.0 328.8 L813.8 322.5 L806.2 318.8 L806.2 312.5 L810.0 307.5 L810.0 300.0 L815.0 295.0 L825.0 296.2 L830.0 300.0 L840.0 302.5 L847.5 300.0 L852.5 295.0 L857.5 292.5 L858.8 286.2 L867.5 283.8 L877.5 281.2 L883.8 275.0 L887.5 271.2 L886.2 265.0 L892.5 258.8 L900.0 256.2 L903.8 256.2 L905.0 251.2 L911.2 251.2 L915.0 247.5 L925.0 245.0 L927.5 243.0 L932.5 245.0 L942.5 243.8 L943.8 237.5 L937.5 231.2 L930.0 225.0 L920.0 221.2 L910.0 217.5 L900.0 222.5 L887.5 222.5 L877.5 226.2 L870.0 220.0 L873.8 206.2 L878.8 192.5 L883.8 176.2 L892.5 178.8 L905.0 175.0 L912.5 168.8 L920.0 166.2 L918.8 157.5 L922.5 145.0 L926.2 130.0 L928.8 122.5 L933.8 115.0 L935.0 103.8 L922.5 102.5 L926.2 93.8 L932.5 86.2 L942.5 81.2 L952.5 76.2 L962.5 72.5 L975.0 73.0 L987.5 73.8 L997.5 76.2 L1005.0 80.0 L1011.2 87.5 L1016.2 95.0 L1022.5 102.5 L1028.8 112.5 L1035.0 121.2 L1040.0 130.0 L1045.0 137.5 L1050.0 143.8 L1060.0 142.0 L1067.5 142.0 L1077.5 145.0 L1088.8 148.8 L1100.0 146.2 L1106.2 157.5 L1108.8 165.0 L1113.8 170.0 L1122.5 167.0 L1132.5 163.8 L1137.5 160.0 L1140.0 151.2 L1147.5 146.2 L1153.8 137.5 L1162.5 132.5 L1168.0 128.8 L1167.5 136.2 L1171.2 146.2 L1168.8 157.5 L1171.2 170.0 L1172.5 185.0 L1171.2 200.0 L1168.8 210.0 L1160.0 217.5 L1150.0 225.0 L1140.0 235.0 L1145.0 245.0 L1151.2 255.0 L1156.2 265.0 L1158.8 273.8 L1155.0 280.0 L1145.0 283.8 L1152.5 290.0 L1155.0 293.8 L1150.0 291.2 L1142.5 287.5 L1140.0 293.8 L1131.2 300.0 L1122.5 312.5 L1123.8 312.5 L1120.0 315.0 L1113.8 321.2 L1120.0 327.5 L1117.5 333.8 L1105.0 336.2 L1095.0 332.5 L1090.0 340.0 L1087.5 350.0 L1080.0 360.0 L1072.5 367.5 L1065.0 375.0 L1058.8 386.2 L1052.5 393.8 L1040.0 398.8 L1030.0 407.5 L1022.5 416.2 L1015.0 425.0 L1005.0 433.8 L1002.5 428.8 L1010.0 423.8 L1015.0 415.0 L1010.0 417.5 L1003.8 416.2 L1007.5 410.0 L1006.2 403.8 L1012.5 395.0 L1016.2 386.2 L1011.2 380.0 L1006.2 375.0 L997.5 377.5 L990.0 385.0 L985.0 395.0 L975.0 402.5 L967.5 412.5 L962.5 422.5 L955.0 428.8 L950.0 435.0 L946.2 443.8 L940.0 450.0 L936.2 455.0 L940.0 460.0 L947.5 462.5 L955.0 460.0 L960.0 458.0 L963.8 465.0 L965.0 475.0 L970.0 480.0 L982.5 480.5 L987.5 472.5 L993.8 463.8 L1002.5 458.8 L1012.5 462.5 L1022.5 465.0 L1030.0 461.2 L1042.5 462.0 L1041.2 472.5 L1036.2 476.2 L1030.0 475.0 L1022.5 481.2 L1016.2 485.0 L1010.0 490.0 L1007.5 497.5 L1002.5 503.8 L997.5 510.0 L992.5 517.5 L987.5 522.5 L983.8 530.0 L980.0 536.2 L982.5 542.5 L992.5 546.2 L1002.5 550.0 L1010.0 557.5 L1015.0 566.2 L1020.0 570.0 L1025.0 580.0 L1030.0 590.0 L1037.5 597.5 L1043.8 605.0 L1052.5 606.2 L1056.2 613.8 L1055.0 622.5 L1058.8 630.0 L1060.0 636.2 L1052.5 636.2 L1045.0 640.0 L1040.0 646.2 L1045.0 650.0 L1052.5 655.0 L1060.0 660.0 L1067.5 662.5 L1073.8 661.2 L1068.8 667.5 L1072.5 672.5 L1071.2 680.0 L1066.2 683.8 L1070.0 690.0 L1067.5 697.5 L1071.2 706.2 L1063.8 710.0 L1060.0 715.0 L1055.0 722.5 L1052.5 730.0 L1048.8 737.5 L1047.5 745.0 L1041.2 751.2 L1037.5 757.5 L1030.0 763.8 L1035.0 767.5 L1032.5 775.0 L1030.0 785.0 L1028.8 793.8 L1032.5 798.8 L1025.0 802.5 L1021.2 807.5 L1016.2 812.5 L1012.5 820.0 L1008.8 827.5 L1005.0 835.0 L998.8 833.8 L997.5 840.0 L991.2 846.2 L986.2 853.8 L980.0 860.0 L973.8 863.8 L968.8 868.8 L963.8 875.0 L960.0 882.5 L950.0 887.5 L940.0 890.0 L932.5 892.5 L925.0 891.2 L917.5 895.0 L912.5 893.8 L907.5 901.2 L900.0 900.0 L891.2 903.0 L883.8 900.0 L880.0 897.5 L881.2 907.5 L875.0 915.0 L870.0 920.0 L863.8 918.8 L858.8 925.0 L850.0 923.8 L847.5 928.8 L837.5 930.0 L831.2 931.2 L825.0 935.0 L815.0 938.0 L807.5 938.8 L800.0 943.8 L794.0 943.0 L792.0 946.0 L793.0 949.0 L796.0 951.0 L795.0 954.0 L792.0 952.0 L787.0 951.0 L785.0 954.0 L786.0 958.0 L790.0 960.0 L791.0 964.0 L794.0 967.0 L795.0 970.0 L793.0 973.0 L790.0 974.5 L784.0 975.5 L779.0 976.0 L777.0 973.0 L776.0 968.0 L773.0 964.0 L772.0 960.0 L770.0 955.0 L771.0 949.0 L774.0 943.0 L777.5 941.2 L771.2 936.2 L767.5 932.5 L760.0 938.8 L753.8 937.5 L747.5 931.2 L740.0 930.0 L736.2 925.0 L732.5 935.0 L725.0 935.0 L717.5 931.2 L707.5 932.5 L698.8 926.2 L688.8 920.0 L685.0 910.0 L683.8 905.0 L688.8 900.0 L691.2 895.0 L682.5 891.2 L673.8 891.2 L665.0 886.2 L657.5 881.2 L652.5 877.5 L645.0 878.8 L637.5 882.5 L635.0 887.5 L627.5 887.5 L620.0 891.2 L612.5 897.5 L605.0 890.0 L597.5 888.8 L590.0 895.0 L585.0 896.2 L577.5 890.0 L570.0 886.2 L565.0 891.2 L557.5 895.0 L550.0 891.2 L545.0 897.5 L543.8 907.5 L547.5 917.5 L545.0 930.0 L540.0 927.5 L530.0 926.2 L528.8 920.0 L527.5 910.0 L520.0 911.2 L512.5 916.2 L500.0 912.5 L497.5 905.0 L490.0 892.5 L476.2 888.8 L480.0 882.5 L485.0 875.0 L490.0 867.5 L483.8 861.2 L476.2 856.2 L475.0 845.0 L472.5 835.0 L478.8 828.8 L470.0 826.2 L457.5 827.5 L443.8 827.5 L450.0 820.0 L447.5 810.0 L451.2 802.5 L457.5 792.5 L468.8 787.5 L471.2 781.2 L482.5 775.0 L485.0 767.5 L491.2 752.5 L493.8 740.0 L492.5 730.0 L487.5 726.2 L483.8 717.5 L483.8 710.0 L478.8 702.5 L472.5 698.0 L466.2 706.2 L462.5 712.5 L455.0 715.0 L450.0 708.8 L442.5 702.5 L435.0 697.5 L427.5 695.0 L417.5 697.5 L407.5 701.2 L397.5 702.5 L387.5 703.8 L377.5 707.5 L370.0 713.8 L362.5 715.8 L350.0 713.8 L340.0 710.0 L327.5 707.5 L326.2 698.8 L328.8 690.0 L321.2 685.0 L322.5 675.0 L317.5 668.8 L307.5 663.8 L300.0 660.0 L292.5 655.0 L285.0 652.0 L277.5 651.2 L271.2 656.2 L265.0 658.8 L260.0 665.0 L253.8 667.5 L252.5 660.0 L256.2 653.8 L255.0 646.2 L247.5 643.8 L237.5 643.8 L230.0 641.2 L222.5 640.0 L216.2 635.0 L210.0 627.5 L202.5 627.0 L196.2 621.2 L188.8 612.5 L177.5 602.5 L180.0 596.2 L171.2 591.2 L166.2 582.5 L162.5 576.2 L163.8 570.0 L157.5 565.0 L151.2 562.5 L148.8 552.5 L143.8 545.0 L138.8 537.5 L133.8 528.8 L132.5 521.2 L123.8 512.5 L117.5 513.8 L111.2 517.5 L108.8 508.8 L102.5 497.5 L96.2 490.0 L91.2 477.5 L81.2 470.0 L78.8 457.5 L82.5 450.0 L83.8 440.0 L86.2 432.5 L88.8 424.5 L97.0 424.5 L96.2 435.0 L107.5 434.5 L111.2 422.5 L110.0 412.5 L111.2 402.5 L116.2 392.5 L125.0 388.8 L122.5 382.5Z M1087.5 795.0 L1095.0 797.5 L1098.8 807.5 L1097.5 825.0 L1095.0 845.0 L1092.5 865.0 L1087.5 877.5 L1085.0 892.5 L1080.0 883.8 L1070.0 878.8 L1065.0 867.5 L1058.8 847.5 L1062.5 835.0 L1068.8 820.0 L1075.0 805.0 L1082.5 797.5Z M739.0 1004.0 L741.0 1002.0 L746.0 999.0 L750.0 996.0 L755.0 994.0 L756.0 990.0 L759.0 987.0 L763.0 988.5 L767.0 987.0 L770.0 984.5 L776.0 984.5 L780.0 986.0 L784.0 983.0 L788.0 982.0 L794.0 983.0 L798.0 984.5 L802.0 986.0 L807.0 985.5 L809.0 990.0 L808.0 994.0 L805.0 997.0 L802.0 1002.0 L799.0 1008.0 L797.0 1013.0 L796.0 1019.0 L794.0 1023.0 L789.0 1026.0 L785.0 1030.0 L782.0 1034.0 L776.0 1036.5 L772.0 1040.0 L768.0 1040.5 L764.0 1039.5 L758.0 1038.0 L752.0 1036.0 L746.0 1033.0 L741.5 1030.0 L740.0 1025.0 L739.5 1015.0Z" fill="none" stroke="#DE6CDE" stroke-width="1.35" stroke-linejoin="round"/>
<rect x="1164" y="355" width="19" height="26" fill="#FF6400"/>
<rect x="1164" y="380" width="19" height="26" fill="#FD7A1A"/>
<rect x="1164" y="405" width="19" height="26" fill="#FB9A35"/>
<rect x="1164" y="430" width="19" height="26" fill="#FBB62E"/>
<rect x="1164" y="455" width="19" height="26" fill="#F7DC45"/>
<rect x="1164" y="480" width="19" height="26" fill="#FCE882"/>
<rect x="1164" y="505" width="19" height="26" fill="#FAF1BC"/>
<rect x="1164" y="530" width="19" height="26" fill="#D2F7F0"/>
<rect x="1164" y="555" width="19" height="26" fill="#8ADFEE"/>
<rect x="1164" y="580" width="19" height="26" fill="#78B4E6"/>
<rect x="1164" y="605" width="19" height="26" fill="#4488E8"/>
<rect x="1164" y="630" width="19" height="26" fill="#2A52EA"/>
<rect x="1164" y="655" width="19" height="26" fill="#2E22CC"/>
<rect x="1164" y="680" width="19" height="25" fill="#1E1682"/>
<text x="393.2" y="70" font-family="Liberation Sans, Noto Sans CJK SC, sans-serif" font-size="33.2" fill="#111" textLength="550.6" lengthAdjust="spacing">2011年03月15日最低气温实况分布图</text>
<text x="573.5" y="99.5" font-family="Liberation Sans, Noto Sans CJK SC, sans-serif" font-size="20" fill="#222">公共气象服务中心制作</text>
<text x="1167" y="332" font-family="Liberation Sans, Noto Sans CJK SC, sans-serif" font-size="15" fill="#222">单位：℃</text>
<g font-family="Liberation Sans, sans-serif" font-size="13.4" fill="#2a2a2a" text-anchor="middle">
<text x="1210.7" y="384.8">30</text>
<text x="1210.7" y="409.8">25</text>
<text x="1210.7" y="434.8">20</text>
<text x="1210.7" y="459.8">15</text>
<text x="1210.7" y="484.8">10</text>
<text x="1210.7" y="509.8">5</text>
<text x="1210.7" y="534.8">0</text>
<text x="1210.7" y="559.8">-5</text>
<text x="1210.7" y="584.8">-10</text>
<text x="1210.7" y="609.8">-15</text>
<text x="1210.7" y="634.8">-20</text>
<text x="1210.7" y="659.8">-25</text>
<text x="1210.7" y="684.8">-30</text>
</g>
<circle cx="389.0" cy="251.0" r="2.6" fill="#000"/>
<text class="ct" x="394.5" y="250.5">乌鲁木齐</text>
<text class="ct" x="395" y="262.5">-11℃</text>
<circle cx="328.0" cy="624.5" r="2.6" fill="#000"/>
<text class="ct" x="333.5" y="624">拉萨</text>
<text class="ct" x="334" y="636">-7℃</text>
<circle cx="607.5" cy="496.0" r="2.6" fill="#000"/>
<text class="ct" x="613" y="495.5">西宁</text>
<text class="ct" x="613.5" y="507.5">-16℃</text>
<circle cx="650.0" cy="519.0" r="2.6" fill="#000"/>
<text class="ct" x="655.5" y="518.5">兰州</text>
<text class="ct" x="656" y="530.5">-8℃</text>
<circle cx="703.0" cy="460.5" r="2.6" fill="#000"/>
<text class="ct" x="708.5" y="460">银川</text>
<text class="ct" x="709" y="472">-9℃</text>
<circle cx="813.0" cy="402.5" r="2.6" fill="#000"/>
<text class="ct" x="818.5" y="402">呼和浩特</text>
<text class="ct" x="819" y="414">-8℃</text>
<circle cx="758.0" cy="569.0" r="2.6" fill="#000"/>
<text class="ct" x="763.5" y="568.5">西安</text>
<text class="ct" x="764" y="580.5">2℃</text>
<circle cx="833.5" cy="480.5" r="2.6" fill="#000"/>
<text class="ct" x="839" y="480">太原</text>
<text class="ct" x="839.5" y="492">-2℃</text>
<circle cx="871.5" cy="471.0" r="2.6" fill="#000"/>
<text class="ct" x="877" y="470.5">石家庄</text>
<text class="ct" x="877.5" y="482.5">4℃</text>
<circle cx="908.0" cy="422.0" r="2.6" fill="#000"/>
<text class="ct" x="879.5" y="421.5">北京</text>
<text class="ct" x="879.5" y="433.5">1℃</text>
<circle cx="922.0" cy="438.8" r="2.6" fill="#000"/>
<text class="ct" x="927.5" y="438.25">天津</text>
<text class="ct" x="928" y="450.25">1℃</text>
<circle cx="929.5" cy="502.5" r="2.6" fill="#000"/>
<text class="ct" x="935" y="502">济南</text>
<text class="ct" x="935.5" y="514">2℃</text>
<circle cx="861.5" cy="559.0" r="2.6" fill="#000"/>
<text class="ct" x="867" y="558.5">郑州</text>
<text class="ct" x="867.5" y="570.5">6℃</text>
<circle cx="1033.5" cy="350.0" r="2.6" fill="#000"/>
<text class="ct" x="1039" y="349.5">沈阳</text>
<text class="ct" x="1039.5" y="361.5">-5℃</text>
<circle cx="1050.0" cy="290.0" r="2.6" fill="#000"/>
<text class="ct" x="1055.5" y="289.5">长春</text>
<text class="ct" x="1056" y="301.5">-8℃</text>
<circle cx="1063.8" cy="238.8" r="2.6" fill="#000"/>
<text class="ct" x="1069.25" y="238.25">哈尔滨</text>
<text class="ct" x="1069.75" y="250.25">-12℃</text>
<circle cx="1049.5" cy="624.5" r="2.6" fill="#000"/>
<text class="ct" x="1055" y="624">上海</text>
<text class="ct" x="1055.5" y="636">5℃</text>
<circle cx="985.5" cy="619.5" r="2.6" fill="#000"/>
<text class="ct" x="991" y="619">南京</text>
<text class="ct" x="991.5" y="631">4℃</text>
<circle cx="951.0" cy="630.5" r="2.6" fill="#000"/>
<text class="ct" x="956.5" y="630">合肥</text>
<text class="ct" x="957" y="642">5℃</text>
<circle cx="1025.0" cy="662.0" r="2.6" fill="#000"/>
<text class="ct" x="1030.5" y="661.5">杭州</text>
<text class="ct" x="1031" y="673.5">6℃</text>
<circle cx="879.0" cy="669.5" r="2.6" fill="#000"/>
<text class="ct" x="884.5" y="669">武汉</text>
<text class="ct" x="885" y="681">5℃</text>
<circle cx="928.0" cy="722.5" r="2.6" fill="#000"/>
<text class="ct" x="933.5" y="722">南昌</text>
<text class="ct" x="934" y="734">5℃</text>
<circle cx="858.0" cy="739.0" r="2.6" fill="#000"/>
<text class="ct" x="863.5" y="738.5">长沙</text>
<text class="ct" x="864" y="750.5">4℃</text>
<circle cx="694.5" cy="699.5" r="2.6" fill="#000"/>
<text class="ct" x="700" y="699">重庆</text>
<text class="ct" x="700.5" y="711">4℃</text>
<circle cx="633.5" cy="663.0" r="2.6" fill="#000"/>
<text class="ct" x="639" y="662.5">成都</text>
<text class="ct" x="639.5" y="674.5">3℃</text>
<circle cx="695.5" cy="785.0" r="2.6" fill="#000"/>
<text class="ct" x="701" y="784.5">贵阳</text>
<text class="ct" x="701.5" y="796.5">0℃</text>
<circle cx="585.0" cy="820.0" r="2.6" fill="#000"/>
<text class="ct" x="590.5" y="819.5">昆明</text>
<text class="ct" x="591" y="831.5">4℃</text>
<circle cx="739.0" cy="898.0" r="2.6" fill="#000"/>
<text class="ct" x="744.5" y="897.5">南宁</text>
<circle cx="873.0" cy="885.0" r="2.6" fill="#000"/>
<text class="ct" x="878.5" y="884.5">广州</text>
<text class="ct" x="879" y="896.5">14℃</text>
<circle cx="1023.0" cy="782.0" r="2.6" fill="#000"/>
<text class="ct" x="1028.5" y="781.5">福州</text>
<text class="ct" x="1029" y="793.5">12℃</text>
<circle cx="1087.0" cy="801.5" r="2.6" fill="#000"/>
<text class="ct" x="1092.5" y="801">台北</text>
<circle cx="788.0" cy="983.8" r="2.6" fill="#000"/>
<text class="ct" x="793.5" y="983.25">海口</text>
<text class="ct" x="794" y="995.25">18℃</text>
<g><rect x="108.5" y="744" width="213" height="267" fill="#A4D3FF" stroke="#3F5FBF" stroke-width="2"/><rect x="109.5" y="745" width="2" height="139" fill="#9a9aa0"/><rect x="109.5" y="884" width="2" height="120" fill="#3a3a40"/><polygon points="110.9,749.2 256.7,749.2 255.4,751.8 247.6,758.3 239.9,763.5 229.5,767.4 219.1,768.7 214.0,773.9 203.6,779.0 195.8,782.9 191.9,790.7 188.1,795.9 184.2,792.0 185.5,780.3 177.7,779.0 172.5,777.7 164.8,782.9 157.0,788.1 150.5,795.9 146.6,804.9 150.5,815.3 155.7,824.4 162.2,832.1 169.9,839.9 176.4,849.0 179.0,861.9 179.0,877.5 176.4,890.4 164.8,896.9 151.8,902.1 149.2,909.8 138.9,913.7 131.1,920.2 128.5,913.7 131.1,903.4 125.9,898.2 118.1,895.6 113.0,890.4 110.9,885.2" fill="#fff"/><polyline points="256.7,749.2 255.4,751.8 247.6,758.3 239.9,763.5 229.5,767.4 219.1,768.7 214.0,773.9 203.6,779.0 195.8,782.9 191.9,790.7 188.1,795.9 184.2,792.0 185.5,780.3 177.7,779.0 172.5,777.7 164.8,782.9 157.0,788.1 150.5,795.9 146.6,804.9 150.5,815.3 155.7,824.4 162.2,832.1 169.9,839.9 176.4,849.0 179.0,861.9 179.0,877.5 176.4,890.4 164.8,896.9 151.8,902.1 149.2,909.8 138.9,913.7 131.1,920.2 128.5,913.7 131.1,903.4 125.9,898.2 118.1,895.6 113.0,890.4" fill="none" stroke="#111" stroke-width="1.1"/><polygon points="175.1,804.9 180.3,799.8 188.1,797.2 194.5,798.5 196.3,803.6 191.9,810.1 184.2,815.3 177.7,812.7 174.6,808.8" fill="#fff" stroke="#111" stroke-width="1.1"/><polygon points="276.1,749.2 286.5,749.2 287.0,755.7 284.4,766.1 280.0,760.9 276.9,754.4" fill="#fff" stroke="#111" stroke-width="1.1"/><polygon points="290.4,802.3 299.4,802.9 304.6,801.0 307.2,812.7 305.9,823.1 304.6,833.4 309.8,843.8 311.1,849.0 304.6,852.8 299.4,851.6 296.8,843.8 290.4,838.6 286.5,828.2 291.7,820.5 290.4,810.1" fill="#fff" stroke="#111" stroke-width="1.1"/><polygon points="296.8,858.0 304.6,856.7 309.8,861.9 308.5,868.4 303.3,865.8" fill="#fff" stroke="#111" stroke-width="1.1"/><polygon points="291.7,884.7 293.7,890.4 290.4,898.2 283.9,905.9 276.1,916.3 270.9,920.2 273.5,913.7 281.3,903.4 287.8,893.0" fill="#fff" stroke="#111" stroke-width="1.1"/><polygon points="204.9,1003.1 207.5,996.6 221.7,991.4 237.3,972.0 250.2,965.5 255.4,955.2 269.6,939.6 278.7,943.5 281.3,950.0 299.4,956.4 291.7,962.9 285.2,973.3 285.2,1004.4" fill="#fff" stroke="#111" stroke-width="1.1"/><polyline points="169.9,824.4 176.4,830.8 180.3,838.6" fill="none" stroke="#111" stroke-width="1.2"/><polyline points="191.9,869.7 191.9,881.3 189.4,891.7" fill="none" stroke="#111" stroke-width="1.2"/><polyline points="163.5,933.1 161.4,942.2 161.4,951.3" fill="none" stroke="#111" stroke-width="1.2"/><polyline points="194.5,981.1 208.8,978.5 221.7,972.0" fill="none" stroke="#111" stroke-width="1.2"/><polyline points="248.9,942.2 255.4,933.9 260.6,926.7" fill="none" stroke="#111" stroke-width="1.2"/><polyline points="281.3,865.8 283.4,876.2 282.6,885.2" fill="none" stroke="#111" stroke-width="1.2"/><polyline points="274.8,825.7 274.8,833.4 276.1,839.9" fill="none" stroke="#111" stroke-width="1.2"/><polyline points="278.7,807.5 280.0,801.0 282.6,794.6" fill="none" stroke="#111" stroke-width="1.2"/><polyline points="290.4,776.4 293.7,770.0 295.5,762.2" fill="none" stroke="#111" stroke-width="1.2"/><rect x="226.5" y="974" width="94" height="33" fill="#fff" stroke="#4040A0" stroke-width="1.2"/><text x="230.3" y="999.5" font-family="Liberation Serif, Noto Serif CJK SC, serif" font-size="21" font-weight="bold" fill="#10108a" letter-spacing="0.8">南海诸岛</text></g>
<g font-family="Liberation Sans, sans-serif" font-weight="bold" font-style="italic" stroke-linejoin="round"><text x="1145" y="1065" font-size="55" textLength="124" lengthAdjust="spacingAndGlyphs" fill="#d2d2d2" stroke="#d2d2d2" stroke-width="6">21CMA</text><text x="1145" y="1065" font-size="55" textLength="124" lengthAdjust="spacingAndGlyphs" fill="#fff" stroke="#fff" stroke-width="2.2">21CMA</text><text x="1057" y="1080" font-size="37" textLength="226" lengthAdjust="spacingAndGlyphs" fill="#959595" stroke="#959595" stroke-width="6">weather.com.cn</text><text x="1057" y="1080" font-size="37" textLength="226" lengthAdjust="spacingAndGlyphs" fill="#fff" stroke="#fff" stroke-width="2.2">weather.com.cn</text></g>
</svg>
</body></html>
